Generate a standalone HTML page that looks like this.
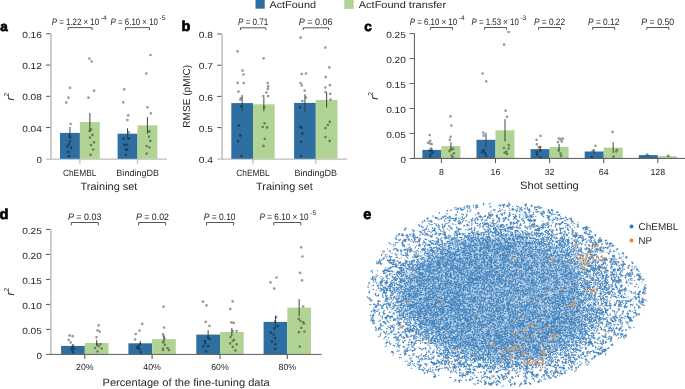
<!DOCTYPE html>
<html><head><meta charset="utf-8"><style>
html,body{margin:0;padding:0;background:#fff;}
svg{display:block;will-change:transform;}
text{text-rendering:geometricPrecision;}
</style></head><body>
<svg width="685" height="389" viewBox="0 0 685 389" font-family='"Liberation Sans", sans-serif'>
<rect width="685" height="389" fill="#fff"/>
<rect x="255.50" y="-0.50" width="9.20" height="9.20" fill="#2e6ea0"/>
<text x="269.40" y="7.70" font-size="9.8" text-anchor="start" textLength="46.60" lengthAdjust="spacingAndGlyphs" fill="#262626">ActFound</text>
<rect x="344.30" y="-0.50" width="9.40" height="9.40" fill="#b1d494"/>
<text x="358.80" y="7.70" font-size="9.8" text-anchor="start" textLength="87.30" lengthAdjust="spacingAndGlyphs" fill="#262626">ActFound transfer</text>
<text x="0.20" y="30.60" font-size="13.5" text-anchor="start" font-weight="bold" fill="#000" stroke="#000" stroke-width="0.7">a</text>
<text x="181.50" y="30.90" font-size="14.5" text-anchor="start" font-weight="bold" fill="#000" stroke="#000" stroke-width="0.7">b</text>
<text x="364.20" y="30.50" font-size="13.5" text-anchor="start" font-weight="bold" fill="#000" stroke="#000" stroke-width="0.7">c</text>
<text x="-0.60" y="218.80" font-size="14.5" text-anchor="start" font-weight="bold" fill="#000" stroke="#000" stroke-width="0.7">d</text>
<text x="363.30" y="219.20" font-size="14.5" text-anchor="start" font-weight="bold" fill="#000" stroke="#000" stroke-width="0.7">e</text>
<line x1="51.00" y1="33.30" x2="51.00" y2="159.10" stroke="#bdbdbd" stroke-width="1.5"/>
<text x="41.90" y="162.90" font-size="8.9" text-anchor="end" textLength="5.45" lengthAdjust="spacingAndGlyphs" fill="#262626">0</text>
<line x1="46.10" y1="127.55" x2="50.25" y2="127.55" stroke="#4a4a4a" stroke-width="0.95"/>
<text x="41.90" y="131.65" font-size="8.9" text-anchor="end" textLength="19.75" lengthAdjust="spacingAndGlyphs" fill="#262626">0.04</text>
<line x1="46.10" y1="96.30" x2="50.25" y2="96.30" stroke="#4a4a4a" stroke-width="0.95"/>
<text x="41.90" y="100.40" font-size="8.9" text-anchor="end" textLength="19.75" lengthAdjust="spacingAndGlyphs" fill="#262626">0.08</text>
<line x1="46.10" y1="65.05" x2="50.25" y2="65.05" stroke="#4a4a4a" stroke-width="0.95"/>
<text x="41.90" y="69.15" font-size="8.9" text-anchor="end" textLength="19.75" lengthAdjust="spacingAndGlyphs" fill="#262626">0.12</text>
<line x1="46.10" y1="33.80" x2="50.25" y2="33.80" stroke="#4a4a4a" stroke-width="0.95"/>
<text x="41.90" y="37.90" font-size="8.9" text-anchor="end" textLength="19.75" lengthAdjust="spacingAndGlyphs" fill="#262626">0.16</text>
<line x1="46.10" y1="159.10" x2="167.00" y2="159.10" stroke="#bdbdbd" stroke-width="1.4"/>
<line x1="79.90" y1="159.10" x2="79.90" y2="163.70" stroke="#bdbdbd" stroke-width="1.3"/>
<line x1="137.50" y1="159.10" x2="137.50" y2="163.70" stroke="#bdbdbd" stroke-width="1.3"/>
<rect x="60.00" y="132.90" width="19.90" height="25.90" fill="#2e6ea0"/>
<rect x="79.90" y="122.00" width="19.90" height="36.80" fill="#b1d494"/>
<rect x="117.60" y="133.70" width="19.90" height="25.10" fill="#2e6ea0"/>
<rect x="137.50" y="125.30" width="19.90" height="33.50" fill="#b1d494"/>
<path d="M70.0 87.8h0M68.4 97.7h0M66.3 102.6h0M70.6 124.0h0M69.4 136.0h0M70.4 137.6h0M69.8 141.3h0M69.0 144.2h0M67.3 146.3h0M71.0 147.9h0M68.4 152.0h0M69.0 156.1h0M89.4 58.6h0M91.7 61.5h0M94.1 90.7h0M88.5 97.7h0M91.0 129.4h0M89.6 131.0h0M92.4 134.9h0M90.0 137.6h0M94.1 142.3h0M91.0 145.0h0M93.1 149.5h0M90.6 154.9h0M124.3 89.4h0M123.3 102.3h0M128.2 115.4h0M127.4 120.1h0M128.7 132.4h0M123.6 138.6h0M129.0 138.6h0M127.0 144.8h0M124.3 144.8h0M125.9 149.4h0M127.0 149.7h0M125.9 154.8h0M150.5 55.0h0M146.4 73.5h0M147.5 107.3h0M150.9 113.3h0M149.0 131.3h0M149.0 136.6h0M150.3 140.9h0M146.7 146.0h0M149.5 147.5h0M146.7 153.7h0M149.5 131.6h0" stroke="#000" stroke-opacity="0.4" stroke-width="2.70" stroke-linecap="round" fill="none"/>
<line x1="69.95" y1="126.90" x2="69.95" y2="138.90" stroke="#3a3a3a" stroke-width="0.95"/>
<line x1="89.85" y1="112.90" x2="89.85" y2="131.10" stroke="#3a3a3a" stroke-width="0.95"/>
<line x1="127.55" y1="128.20" x2="127.55" y2="139.20" stroke="#3a3a3a" stroke-width="0.95"/>
<line x1="147.45" y1="117.00" x2="147.45" y2="133.60" stroke="#3a3a3a" stroke-width="0.95"/>
<text x="79.70" y="175.60" font-size="9.1" text-anchor="middle" textLength="33.60" lengthAdjust="spacingAndGlyphs" fill="#262626">ChEMBL</text>
<text x="137.70" y="175.60" font-size="9.1" text-anchor="middle" textLength="42.70" lengthAdjust="spacingAndGlyphs" fill="#262626">BindingDB</text>
<text x="109.00" y="190.00" font-size="10.6" text-anchor="middle" textLength="56.80" lengthAdjust="spacingAndGlyphs" fill="#262626">Training set</text>
<text x="13.90" y="100.40" font-size="11.2" text-anchor="start" fill="#262626" transform="rotate(-90 13.9 100.4)"><tspan font-style="italic">r</tspan><tspan dy="-4.6" font-size="7.2">2</tspan></text>
<path d="M68.10 30.10V27.60H92.10V30.10" stroke="#444" stroke-width="0.9" fill="none"/>
<path d="M125.60 30.10V27.60H149.40V30.10" stroke="#444" stroke-width="0.9" fill="none"/>
<text x="51.80" y="24.70" font-size="9.4" text-anchor="start" textLength="47.30" lengthAdjust="spacingAndGlyphs" fill="#262626"><tspan font-style="italic">P</tspan> = 1.22 × 10</text>
<text x="100.70" y="19.80" font-size="6.6" text-anchor="start" fill="#262626">-4</text>
<text x="110.60" y="24.70" font-size="9.4" text-anchor="start" textLength="47.30" lengthAdjust="spacingAndGlyphs" fill="#262626"><tspan font-style="italic">P</tspan> = 6.10 × 10</text>
<text x="159.50" y="19.80" font-size="6.6" text-anchor="start" fill="#262626">-5</text>
<line x1="222.10" y1="33.50" x2="222.10" y2="159.10" stroke="#bdbdbd" stroke-width="1.5"/>
<text x="213.00" y="162.90" font-size="8.9" text-anchor="end" textLength="14.30" lengthAdjust="spacingAndGlyphs" fill="#262626">0.4</text>
<line x1="217.20" y1="127.60" x2="221.35" y2="127.60" stroke="#4a4a4a" stroke-width="0.95"/>
<text x="213.00" y="131.70" font-size="8.9" text-anchor="end" textLength="14.30" lengthAdjust="spacingAndGlyphs" fill="#262626">0.5</text>
<line x1="217.20" y1="96.40" x2="221.35" y2="96.40" stroke="#4a4a4a" stroke-width="0.95"/>
<text x="213.00" y="100.50" font-size="8.9" text-anchor="end" textLength="14.30" lengthAdjust="spacingAndGlyphs" fill="#262626">0.6</text>
<line x1="217.20" y1="65.20" x2="221.35" y2="65.20" stroke="#4a4a4a" stroke-width="0.95"/>
<text x="213.00" y="69.30" font-size="8.9" text-anchor="end" textLength="14.30" lengthAdjust="spacingAndGlyphs" fill="#262626">0.7</text>
<line x1="217.20" y1="34.00" x2="221.35" y2="34.00" stroke="#4a4a4a" stroke-width="0.95"/>
<text x="213.00" y="38.10" font-size="8.9" text-anchor="end" textLength="14.30" lengthAdjust="spacingAndGlyphs" fill="#262626">0.8</text>
<line x1="217.20" y1="159.10" x2="347.30" y2="159.10" stroke="#bdbdbd" stroke-width="1.4"/>
<line x1="253.00" y1="159.10" x2="253.00" y2="163.70" stroke="#bdbdbd" stroke-width="1.3"/>
<line x1="315.80" y1="159.10" x2="315.80" y2="163.70" stroke="#bdbdbd" stroke-width="1.3"/>
<rect x="231.30" y="103.10" width="21.70" height="55.70" fill="#2e6ea0"/>
<rect x="253.00" y="104.30" width="21.70" height="54.50" fill="#b1d494"/>
<rect x="294.10" y="102.90" width="21.70" height="55.90" fill="#2e6ea0"/>
<rect x="315.80" y="99.90" width="21.70" height="58.90" fill="#b1d494"/>
<path d="M237.6 51.3h0M242.6 70.6h0M243.5 74.5h0M237.6 82.8h0M243.7 83.1h0M238.5 91.6h0M240.8 98.4h0M240.3 99.7h0M241.7 106.5h0M241.2 106.5h0M238.6 125.4h0M240.4 135.4h0M238.1 141.3h0M241.5 156.2h0M263.6 58.3h0M267.8 83.1h0M268.1 86.4h0M267.8 88.9h0M266.3 92.5h0M263.3 96.1h0M268.1 96.1h0M264.2 107.4h0M264.6 123.4h0M262.8 127.0h0M267.1 127.4h0M264.8 138.8h0M263.5 145.9h0M300.6 37.7h0M301.8 74.0h0M306.0 73.5h0M300.6 83.0h0M301.8 85.4h0M304.7 90.6h0M306.0 97.5h0M302.4 101.1h0M300.2 107.6h0M300.2 126.8h0M301.5 127.7h0M302.4 133.7h0M301.1 141.8h0M301.1 156.1h0M325.4 47.6h0M329.3 67.4h0M325.7 77.1h0M329.9 85.2h0M325.4 87.5h0M325.4 92.0h0M330.2 93.8h0M330.6 99.5h0M329.7 121.8h0M327.9 125.0h0M325.4 128.1h0M325.4 137.1h0M329.7 140.9h0" stroke="#000" stroke-opacity="0.4" stroke-width="2.70" stroke-linecap="round" fill="none"/>
<line x1="242.15" y1="95.00" x2="242.15" y2="111.20" stroke="#3a3a3a" stroke-width="0.95"/>
<line x1="263.85" y1="97.30" x2="263.85" y2="111.30" stroke="#3a3a3a" stroke-width="0.95"/>
<line x1="304.95" y1="94.10" x2="304.95" y2="111.70" stroke="#3a3a3a" stroke-width="0.95"/>
<line x1="326.65" y1="92.20" x2="326.65" y2="107.60" stroke="#3a3a3a" stroke-width="0.95"/>
<text x="253.00" y="175.60" font-size="9.1" text-anchor="middle" textLength="33.60" lengthAdjust="spacingAndGlyphs" fill="#262626">ChEMBL</text>
<text x="315.80" y="175.60" font-size="9.1" text-anchor="middle" textLength="42.70" lengthAdjust="spacingAndGlyphs" fill="#262626">BindingDB</text>
<text x="284.50" y="190.00" font-size="10.6" text-anchor="middle" textLength="56.80" lengthAdjust="spacingAndGlyphs" fill="#262626">Training set</text>
<text x="190.40" y="96.30" font-size="10" text-anchor="middle" textLength="62.80" lengthAdjust="spacingAndGlyphs" fill="#262626" transform="rotate(-90 190.4 96.3)">RMSE (pMIC)</text>
<path d="M240.50 30.10V27.80H265.90V30.10" stroke="#444" stroke-width="0.9" fill="none"/>
<path d="M303.20 30.10V27.80H328.50V30.10" stroke="#444" stroke-width="0.9" fill="none"/>
<text x="238.00" y="25.00" font-size="9.4" text-anchor="start" textLength="30.30" lengthAdjust="spacingAndGlyphs" fill="#262626"><tspan font-style="italic">P</tspan> = 0.71</text>
<text x="298.70" y="25.00" font-size="9.4" text-anchor="start" textLength="33.80" lengthAdjust="spacingAndGlyphs" fill="#262626"><tspan font-style="italic">P</tspan> = 0.06</text>
<rect x="422.40" y="149.90" width="19.00" height="8.50" fill="#2e6ea0"/>
<rect x="441.40" y="146.00" width="19.00" height="12.40" fill="#b1d494"/>
<rect x="476.50" y="139.80" width="19.00" height="18.60" fill="#2e6ea0"/>
<rect x="495.50" y="130.30" width="19.00" height="28.10" fill="#b1d494"/>
<rect x="530.60" y="149.10" width="19.00" height="9.30" fill="#2e6ea0"/>
<rect x="549.60" y="147.00" width="19.00" height="11.40" fill="#b1d494"/>
<rect x="584.70" y="151.50" width="19.00" height="6.90" fill="#2e6ea0"/>
<rect x="603.70" y="147.60" width="19.00" height="10.80" fill="#b1d494"/>
<rect x="638.80" y="155.10" width="19.00" height="3.30" fill="#2e6ea0"/>
<rect x="657.80" y="156.10" width="19.00" height="2.30" fill="#b1d494"/>
<path d="M429.7 135.0h0M430.1 140.9h0M428.2 142.8h0M431.6 144.2h0M429.4 143.3h0M430.9 148.6h0M429.7 150.4h0M431.9 151.5h0M432.6 152.6h0M430.4 154.8h0M430.4 156.2h0M450.5 116.3h0M451.4 125.5h0M450.6 136.8h0M449.8 139.8h0M450.9 149.6h0M453.1 148.9h0M449.5 151.1h0M453.9 153.3h0M451.7 155.5h0M452.8 157.0h0M482.6 73.5h0M486.2 81.4h0M483.4 132.7h0M483.8 135.7h0M482.6 151.6h0M483.8 150.4h0M485.0 153.2h0M486.2 155.6h0M481.9 152.3h0M508.7 32.0h0M504.1 44.7h0M505.6 110.7h0M507.0 116.8h0M503.9 148.0h0M508.7 145.2h0M508.7 148.5h0M504.6 152.8h0M507.0 153.9h0M506.3 151.6h0M540.5 135.8h0M536.6 139.8h0M536.9 144.3h0M538.7 147.4h0M540.3 147.0h0M540.5 150.3h0M536.6 151.9h0M537.1 154.7h0M540.5 157.3h0M558.9 138.6h0M560.5 139.2h0M562.9 138.6h0M561.7 141.4h0M558.0 142.2h0M558.6 150.7h0M560.5 153.7h0M561.1 156.1h0M595.5 145.8h0M592.7 150.7h0M591.9 157.1h0M612.6 131.9h0M616.9 150.1h0M616.3 151.3h0M613.6 156.7h0M646.9 154.6h0M668.4 155.8h0" stroke="#000" stroke-opacity="0.4" stroke-width="2.70" stroke-linecap="round" fill="none"/>
<line x1="431.90" y1="148.10" x2="431.90" y2="151.70" stroke="#3a3a3a" stroke-width="0.95"/>
<line x1="450.90" y1="142.20" x2="450.90" y2="149.80" stroke="#3a3a3a" stroke-width="0.95"/>
<line x1="486.00" y1="132.80" x2="486.00" y2="146.80" stroke="#3a3a3a" stroke-width="0.95"/>
<line x1="505.00" y1="119.20" x2="505.00" y2="141.40" stroke="#3a3a3a" stroke-width="0.95"/>
<line x1="540.10" y1="146.10" x2="540.10" y2="152.10" stroke="#3a3a3a" stroke-width="0.95"/>
<line x1="559.10" y1="144.00" x2="559.10" y2="150.00" stroke="#3a3a3a" stroke-width="0.95"/>
<line x1="594.20" y1="149.10" x2="594.20" y2="153.90" stroke="#3a3a3a" stroke-width="0.95"/>
<line x1="613.20" y1="142.20" x2="613.20" y2="153.00" stroke="#3a3a3a" stroke-width="0.95"/>
<line x1="648.30" y1="154.60" x2="648.30" y2="155.60" stroke="#3a3a3a" stroke-width="0.95"/>
<line x1="667.30" y1="155.60" x2="667.30" y2="156.60" stroke="#3a3a3a" stroke-width="0.95"/>
<line x1="414.40" y1="33.10" x2="414.40" y2="158.40" stroke="#555555" stroke-width="1.0"/>
<text x="405.90" y="162.50" font-size="8.9" text-anchor="end" textLength="5.45" lengthAdjust="spacingAndGlyphs" fill="#262626">0</text>
<line x1="409.50" y1="133.44" x2="413.90" y2="133.44" stroke="#555555" stroke-width="0.95"/>
<text x="405.90" y="137.54" font-size="8.9" text-anchor="end" textLength="19.75" lengthAdjust="spacingAndGlyphs" fill="#262626">0.05</text>
<line x1="409.50" y1="108.48" x2="413.90" y2="108.48" stroke="#555555" stroke-width="0.95"/>
<text x="405.90" y="112.58" font-size="8.9" text-anchor="end" textLength="19.75" lengthAdjust="spacingAndGlyphs" fill="#262626">0.10</text>
<line x1="409.50" y1="83.52" x2="413.90" y2="83.52" stroke="#555555" stroke-width="0.95"/>
<text x="405.90" y="87.62" font-size="8.9" text-anchor="end" textLength="19.75" lengthAdjust="spacingAndGlyphs" fill="#262626">0.15</text>
<line x1="409.50" y1="58.56" x2="413.90" y2="58.56" stroke="#555555" stroke-width="0.95"/>
<text x="405.90" y="62.66" font-size="8.9" text-anchor="end" textLength="19.75" lengthAdjust="spacingAndGlyphs" fill="#262626">0.20</text>
<line x1="409.50" y1="33.60" x2="413.90" y2="33.60" stroke="#555555" stroke-width="0.95"/>
<text x="405.90" y="37.70" font-size="8.9" text-anchor="end" textLength="19.75" lengthAdjust="spacingAndGlyphs" fill="#262626">0.25</text>
<line x1="409.50" y1="158.40" x2="685.00" y2="158.40" stroke="#555555" stroke-width="1.0"/>
<line x1="441.40" y1="158.40" x2="441.40" y2="163.10" stroke="#555555" stroke-width="1.0"/>
<text x="441.40" y="175.40" font-size="8.8" text-anchor="middle" fill="#262626">8</text>
<line x1="495.50" y1="158.40" x2="495.50" y2="163.10" stroke="#555555" stroke-width="1.0"/>
<text x="495.50" y="175.40" font-size="8.8" text-anchor="middle" fill="#262626">16</text>
<line x1="549.60" y1="158.40" x2="549.60" y2="163.10" stroke="#555555" stroke-width="1.0"/>
<text x="549.60" y="175.40" font-size="8.8" text-anchor="middle" fill="#262626">32</text>
<line x1="603.70" y1="158.40" x2="603.70" y2="163.10" stroke="#555555" stroke-width="1.0"/>
<text x="603.70" y="175.40" font-size="8.8" text-anchor="middle" fill="#262626">64</text>
<line x1="657.80" y1="158.40" x2="657.80" y2="163.10" stroke="#555555" stroke-width="1.0"/>
<text x="657.80" y="175.40" font-size="8.8" text-anchor="middle" fill="#262626">128</text>
<text x="549.45" y="189.40" font-size="10.6" text-anchor="middle" textLength="58.70" lengthAdjust="spacingAndGlyphs" fill="#262626">Shot setting</text>
<text x="377.90" y="99.80" font-size="11.2" text-anchor="start" fill="#262626" transform="rotate(-90 377.9 99.8)"><tspan font-style="italic">r</tspan><tspan dy="-4.6" font-size="7.2">2</tspan></text>
<path d="M430.40 29.80V27.50H452.40V29.80" stroke="#444" stroke-width="0.9" fill="none"/>
<path d="M484.50 29.80V27.50H506.50V29.80" stroke="#444" stroke-width="0.9" fill="none"/>
<path d="M538.60 29.80V27.50H560.60V29.80" stroke="#444" stroke-width="0.9" fill="none"/>
<path d="M592.70 29.80V27.50H614.70V29.80" stroke="#444" stroke-width="0.9" fill="none"/>
<path d="M646.80 29.80V27.50H668.80V29.80" stroke="#444" stroke-width="0.9" fill="none"/>
<text x="409.80" y="24.80" font-size="9.4" text-anchor="start" textLength="47.30" lengthAdjust="spacingAndGlyphs" fill="#262626"><tspan font-style="italic">P</tspan> = 6.10 × 10</text>
<text x="458.70" y="19.90" font-size="6.6" text-anchor="start" fill="#262626">-4</text>
<text x="471.50" y="24.80" font-size="9.4" text-anchor="start" textLength="47.30" lengthAdjust="spacingAndGlyphs" fill="#262626"><tspan font-style="italic">P</tspan> = 1.53 × 10</text>
<text x="520.40" y="19.90" font-size="6.6" text-anchor="start" fill="#262626">-3</text>
<text x="533.90" y="24.80" font-size="9.4" text-anchor="start" textLength="31.20" lengthAdjust="spacingAndGlyphs" fill="#262626"><tspan font-style="italic">P</tspan> = 0.22</text>
<text x="588.10" y="24.80" font-size="9.4" text-anchor="start" textLength="31.20" lengthAdjust="spacingAndGlyphs" fill="#262626"><tspan font-style="italic">P</tspan> = 0.12</text>
<text x="641.30" y="24.80" font-size="9.4" text-anchor="start" textLength="32.90" lengthAdjust="spacingAndGlyphs" fill="#262626"><tspan font-style="italic">P</tspan> = 0.50</text>
<rect x="61.10" y="345.90" width="23.70" height="8.50" fill="#2e6ea0"/>
<rect x="84.80" y="343.00" width="23.70" height="11.40" fill="#b1d494"/>
<rect x="128.40" y="343.30" width="23.70" height="11.10" fill="#2e6ea0"/>
<rect x="152.10" y="339.10" width="23.70" height="15.30" fill="#b1d494"/>
<rect x="196.30" y="334.60" width="23.70" height="19.80" fill="#2e6ea0"/>
<rect x="220.00" y="332.00" width="23.70" height="22.40" fill="#b1d494"/>
<rect x="263.60" y="321.90" width="23.70" height="32.50" fill="#2e6ea0"/>
<rect x="287.30" y="307.60" width="23.70" height="46.80" fill="#b1d494"/>
<path d="M69.6 335.4h0M72.6 336.2h0M68.7 340.0h0M70.7 342.5h0M72.9 345.5h0M72.6 347.4h0M74.1 348.5h0M72.2 350.0h0M72.9 352.2h0M71.7 348.9h0M98.6 325.4h0M97.5 330.3h0M99.8 331.6h0M96.5 337.3h0M97.1 344.0h0M100.5 344.0h0M95.0 348.0h0M98.6 346.2h0M101.7 348.5h0M97.5 351.5h0M142.2 323.9h0M139.6 330.6h0M135.7 334.0h0M135.1 339.5h0M139.9 344.0h0M138.1 346.2h0M136.9 347.7h0M139.2 349.2h0M140.7 352.2h0M138.4 347.4h0M163.5 306.7h0M164.1 327.6h0M163.0 334.3h0M163.5 335.8h0M164.5 338.5h0M163.0 342.3h0M165.0 344.7h0M163.0 348.5h0M167.5 348.0h0M169.0 350.0h0M163.0 350.0h0M203.0 301.7h0M206.5 305.4h0M205.7 321.9h0M209.5 325.9h0M208.1 337.6h0M209.5 339.0h0M205.1 341.1h0M205.1 343.4h0M208.1 346.0h0M203.4 346.4h0M206.0 351.3h0M232.6 301.4h0M230.2 308.9h0M231.4 322.4h0M233.7 322.9h0M232.6 331.1h0M236.6 331.1h0M230.5 336.9h0M234.0 339.9h0M232.8 340.8h0M230.2 343.4h0M236.6 344.3h0M232.8 346.9h0M235.4 350.4h0M276.5 277.5h0M270.5 282.4h0M274.2 288.6h0M276.2 317.3h0M275.1 321.4h0M277.7 326.1h0M274.3 328.5h0M270.8 332.7h0M273.6 334.6h0M275.1 338.1h0M272.0 341.5h0M275.4 344.3h0M275.1 348.9h0M301.2 247.3h0M302.4 256.5h0M300.1 272.9h0M302.1 280.4h0M303.2 306.5h0M298.6 318.8h0M300.4 320.8h0M303.2 322.4h0M304.0 323.5h0M301.3 327.8h0M304.4 331.5h0M298.9 332.2h0M299.8 346.6h0" stroke="#000" stroke-opacity="0.4" stroke-width="2.70" stroke-linecap="round" fill="none"/>
<line x1="72.95" y1="344.40" x2="72.95" y2="347.40" stroke="#3a3a3a" stroke-width="0.95"/>
<line x1="96.65" y1="340.00" x2="96.65" y2="346.00" stroke="#3a3a3a" stroke-width="0.95"/>
<line x1="140.25" y1="341.00" x2="140.25" y2="345.60" stroke="#3a3a3a" stroke-width="0.95"/>
<line x1="163.95" y1="335.80" x2="163.95" y2="342.40" stroke="#3a3a3a" stroke-width="0.95"/>
<line x1="208.15" y1="330.30" x2="208.15" y2="338.90" stroke="#3a3a3a" stroke-width="0.95"/>
<line x1="231.85" y1="328.00" x2="231.85" y2="336.00" stroke="#3a3a3a" stroke-width="0.95"/>
<line x1="275.45" y1="315.70" x2="275.45" y2="328.10" stroke="#3a3a3a" stroke-width="0.95"/>
<line x1="299.15" y1="299.00" x2="299.15" y2="316.20" stroke="#3a3a3a" stroke-width="0.95"/>
<line x1="50.90" y1="228.90" x2="50.90" y2="354.40" stroke="#bdbdbd" stroke-width="1.5"/>
<text x="41.90" y="358.50" font-size="8.9" text-anchor="end" textLength="5.45" lengthAdjust="spacingAndGlyphs" fill="#262626">0</text>
<line x1="46.00" y1="329.40" x2="50.15" y2="329.40" stroke="#4a4a4a" stroke-width="0.95"/>
<text x="41.90" y="333.50" font-size="8.9" text-anchor="end" textLength="19.75" lengthAdjust="spacingAndGlyphs" fill="#262626">0.05</text>
<line x1="46.00" y1="304.40" x2="50.15" y2="304.40" stroke="#4a4a4a" stroke-width="0.95"/>
<text x="41.90" y="308.50" font-size="8.9" text-anchor="end" textLength="19.75" lengthAdjust="spacingAndGlyphs" fill="#262626">0.10</text>
<line x1="46.00" y1="279.40" x2="50.15" y2="279.40" stroke="#4a4a4a" stroke-width="0.95"/>
<text x="41.90" y="283.50" font-size="8.9" text-anchor="end" textLength="19.75" lengthAdjust="spacingAndGlyphs" fill="#262626">0.15</text>
<line x1="46.00" y1="254.40" x2="50.15" y2="254.40" stroke="#4a4a4a" stroke-width="0.95"/>
<text x="41.90" y="258.50" font-size="8.9" text-anchor="end" textLength="19.75" lengthAdjust="spacingAndGlyphs" fill="#262626">0.20</text>
<line x1="46.00" y1="229.40" x2="50.15" y2="229.40" stroke="#4a4a4a" stroke-width="0.95"/>
<text x="41.90" y="233.50" font-size="8.9" text-anchor="end" textLength="19.75" lengthAdjust="spacingAndGlyphs" fill="#262626">0.25</text>
<line x1="46.10" y1="354.40" x2="321.60" y2="354.40" stroke="#5e5e5e" stroke-width="1.0"/>
<line x1="84.80" y1="354.40" x2="84.80" y2="359.00" stroke="#4a4a4a" stroke-width="1.0"/>
<text x="84.80" y="369.90" font-size="8.8" text-anchor="middle" fill="#262626">20%</text>
<line x1="152.10" y1="354.40" x2="152.10" y2="359.00" stroke="#4a4a4a" stroke-width="1.0"/>
<text x="152.10" y="369.90" font-size="8.8" text-anchor="middle" fill="#262626">40%</text>
<line x1="220.00" y1="354.40" x2="220.00" y2="359.00" stroke="#4a4a4a" stroke-width="1.0"/>
<text x="220.00" y="369.90" font-size="8.8" text-anchor="middle" fill="#262626">60%</text>
<line x1="287.30" y1="354.40" x2="287.30" y2="359.00" stroke="#4a4a4a" stroke-width="1.0"/>
<text x="287.30" y="369.90" font-size="8.8" text-anchor="middle" fill="#262626">80%</text>
<text x="186.15" y="386.00" font-size="10.6" text-anchor="middle" textLength="167.30" lengthAdjust="spacingAndGlyphs" fill="#262626">Percentage of the fine-tuning data</text>
<text x="13.90" y="295.40" font-size="11.2" text-anchor="start" fill="#262626" transform="rotate(-90 13.9 295.4)"><tspan font-style="italic">r</tspan><tspan dy="-4.6" font-size="7.2">2</tspan></text>
<path d="M71.30 225.40V222.50H98.30V225.40" stroke="#444" stroke-width="0.9" fill="none"/>
<path d="M138.60 225.40V222.50H165.60V225.40" stroke="#444" stroke-width="0.9" fill="none"/>
<path d="M206.50 225.40V222.50H233.50V225.40" stroke="#444" stroke-width="0.9" fill="none"/>
<path d="M273.80 225.40V222.50H300.80V225.40" stroke="#444" stroke-width="0.9" fill="none"/>
<text x="67.90" y="219.90" font-size="9.4" text-anchor="start" textLength="33.60" lengthAdjust="spacingAndGlyphs" fill="#262626"><tspan font-style="italic">P</tspan> = 0.03</text>
<text x="135.90" y="219.90" font-size="9.4" text-anchor="start" textLength="33.10" lengthAdjust="spacingAndGlyphs" fill="#262626"><tspan font-style="italic">P</tspan> = 0.02</text>
<text x="203.70" y="219.90" font-size="9.4" text-anchor="start" textLength="31.90" lengthAdjust="spacingAndGlyphs" fill="#262626"><tspan font-style="italic">P</tspan> = 0.10</text>
<text x="259.60" y="219.90" font-size="9.4" text-anchor="start" textLength="49.00" lengthAdjust="spacingAndGlyphs" fill="#262626"><tspan font-style="italic">P</tspan> = 6.10 × 10</text>
<text x="310.20" y="215.00" font-size="6.6" text-anchor="start" fill="#262626">-5</text>
<circle cx="631.5" cy="226.5" r="2.0" fill="#2f7dc0"/>
<circle cx="631.5" cy="240.6" r="2.0" fill="#f5871f"/>
<text x="638.60" y="229.90" font-size="10" text-anchor="start" textLength="39.80" lengthAdjust="spacingAndGlyphs" fill="#262626">ChEMBL</text>
<text x="638.60" y="243.70" font-size="10" text-anchor="start" textLength="13.40" lengthAdjust="spacingAndGlyphs" fill="#262626">NP</text>
<defs><filter id="bb" x="-10%" y="-10%" width="120%" height="120%"><feGaussianBlur stdDeviation="5"/></filter></defs><path d="M581.9 294.0L582.0 296.6L582.3 299.2L582.8 301.9L583.4 304.7L584.0 307.6L584.5 310.6L584.9 313.8L585.1 317.0L584.9 320.2L584.3 323.5L583.2 326.7L581.5 329.8L579.4 332.7L576.6 335.5L573.3 337.9L569.7 340.2L566.0 342.4L562.2 344.4L558.2 346.5L554.1 348.4L549.9 350.2L545.5 351.8L540.9 353.4L536.3 354.7L531.4 355.9L526.5 356.9L521.5 357.7L516.4 358.3L511.2 358.7L506.0 358.8L500.8 358.7L495.6 358.3L490.5 357.7L485.5 356.9L480.6 355.9L475.7 354.7L471.1 353.4L466.5 351.8L462.1 350.2L457.9 348.4L453.8 346.5L449.8 344.4L446.0 342.4L442.3 340.2L438.7 337.9L435.1 335.6L431.6 333.3L428.1 330.9L424.6 328.5L421.1 325.9L417.8 323.3L414.5 320.6L411.4 317.7L408.6 314.6L406.0 311.5L403.8 308.2L402.1 304.7L400.8 301.2L400.0 297.6L399.7 294.0L400.0 290.4L400.8 286.8L402.1 283.3L403.8 279.8L406.0 276.5L408.6 273.4L411.4 270.3L414.5 267.4L417.8 264.7L421.1 262.1L424.6 259.5L428.1 257.1L431.6 254.7L435.1 252.4L438.7 250.1L442.3 247.9L446.3 245.9L450.5 244.2L454.9 242.7L459.4 241.4L464.1 240.3L468.8 239.5L473.5 238.8L478.3 238.3L483.0 237.9L487.6 237.7L492.3 237.5L496.9 237.4L501.4 237.3L506.0 237.3L510.5 237.4L515.1 237.8L519.5 238.3L523.9 239.1L528.1 240.1L532.3 241.3L536.3 242.6L540.1 244.0L543.8 245.6L547.4 247.2L550.8 249.0L554.2 250.8L557.4 252.6L560.5 254.5L563.6 256.5L566.5 258.5L569.1 260.7L571.4 263.0L573.5 265.4L575.3 267.9L576.8 270.5L578.1 273.1L579.2 275.7L580.0 278.3L580.6 281.0L581.1 283.6L581.5 286.2L581.7 288.8L581.9 291.4Z" fill="#3a7fbf" fill-opacity="0.36" filter="url(#bb)"/><g transform="scale(0.25)"><path d="M2036 811h0m-75 1h0m-26 1h0m0 2h0m99 0h0m72 0h0m-173 1h0m2 0h0m21 0h0m149 0h0m-93 1h0m7 0h0m19 0h0m2 0h0m59 0h0m-82 1h0m19 0h0m-129 1h0m28 0h0m65 0h0m10 0h0m27 0h0m65 0h0m-192 1h0m105 0h0m110 0h0m-249 1h0m120 0h0m33 0h0m9 0h0m66 0h0m24 0h0m-234 1h0m8 0h0m101 0h0m12 0h0m86 0h0m1 0h0m-232 1h0m6 0h0m31 0h0m95 0h0m10 0h0m-147 1h0m98 0h0m52 0h0m1 0h0m9 0h0m4 0h0m5 0h0m32 0h0m58 0h0m-123 1h0m30 0h0m1 0h0m42 0h0m54 0h0m24 0h0m-295 1h0m22 0h0m26 0h0m4 0h0m51 0h0m55 0h0m36 0h0m52 0h0m52 0h0m-288 1h0m167 0h0m36 0h0m70 0h0m-270 1h0m24 0h0m14 0h0m4 0h0m236 0h0m4 0h0m8 0h0m-283 1h0m83 0h0m55 0h0m94 0h0m29 0h0m5 0h0m2 0h0m17 0h0m-342 1h0m36 0h0m47 0h0m176 0h0m7 0h0m75 0h0m-333 1h0m16 0h0m61 0h0m183 0h0m50 0h0m29 0h0m-348 1h0m21 0h0m19 0h0m14 0h0m30 0h0m178 0h0m30 0h0m45 0h0m-323 1h0m237 0h0m10 0h0m21 0h0m59 0h0m1 0h0m-331 1h0m3 0h0m46 0h0m120 0h0m51 0h0m51 0h0m-259 1h0m195 0h0m16 0h0m29 0h0m27 0h0m9 0h0m21 0h0m-310 1h0m16 0h0m2 0h0m9 0h0m191 0h0m51 0h0m13 0h0m-287 1h0m225 0h0m3 0h0m1 0h0m7 0h0m25 0h0m34 0h0m25 0h0m4 0h0m60 0h0m-384 1h0m10 0h0m16 0h0m124 0h0m36 0h0m44 0h0m30 0h0m2 0h0m30 0h0m2 0h0m76 0h0m-389 1h0m20 0h0m28 0h0m17 0h0m111 0h0m70 0h0m38 0h0m24 0h0m33 0h0m47 0h0m3 0h0m10 0h0m-418 1h0m56 0h0m3 0h0m37 0h0m93 0h0m92 0h0m9 0h0m66 0h0m64 0h0m1 0h0m-407 1h0m196 0h0m6 0h0m16 0h0m20 0h0m12 0h0m12 0h0m55 0h0m1 0h0m74 0h0m10 0h0m-184 1h0m48 0h0m1 0h0m19 0h0m104 0h0m18 0h0m1 0h0m-422 1h0m175 0h0m12 0h0m92 0h0m47 0h0m-324 1h0m90 0h0m292 0h0m2 0h0m34 0h0m-216 1h0m1 0h0m8 0h0m195 0h0m-367 1h0m40 0h0m9 0h0m198 0h0m4 0h0m39 0h0m30 0h0m1 0h0m3 0h0m14 0h0m31 0h0m30 0h0m-399 1h0m162 0h0m74 0h0m1 0h0m28 0h0m49 0h0m33 0h0m-76 1h0m47 0h0m3 0h0m23 0h0m1 0h0m1 0h0m16 0h0m41 0h0m-318 1h0m49 0h0m57 0h0m79 0h0m34 0h0m58 0h0m6 0h0m-440 1h0m73 0h0m206 0h0m62 0h0m5 0h0m12 0h0m1 0h0m50 0h0m31 0h0m3 0h0m25 0h0m3 0h0m-275 1h0m1 0h0m64 0h0m19 0h0m64 0h0m59 0h0m5 0h0m33 0h0m2 0h0m-292 1h0m47 0h0m60 0h0m24 0h0m123 0h0m15 0h0m22 0h0m11 0h0m-454 1h0m30 0h0m129 0h0m187 0h0m72 0h0m29 0h0m-293 1h0m4 0h0m125 0h0m61 0h0m69 0h0m29 0h0m-195 1h0m5 0h0m9 0h0m70 0h0m47 0h0m31 0h0m41 0h0m-419 1h0m58 0h0m6 0h0m15 0h0m88 0h0m5 0h0m141 0h0m33 0h0m31 0h0m-339 1h0m27 0h0m62 0h0m41 0h0m12 0h0m3 0h0m33 0h0m34 0h0m14 0h0m2 0h0m52 0h0m107 0h0m7 0h0m20 0h0m-280 1h0m48 0h0m71 0h0m28 0h0m28 0h0m36 0h0m42 0h0m22 0h0m-414 1h0m48 0h0m33 0h0m61 0h0m99 0h0m68 0h0m99 0h0m-404 1h0m27 0h0m105 0h0m29 0h0m5 0h0m19 0h0m25 0h0m6 0h0m60 0h0m17 0h0m3 0h0m45 0h0m41 0h0m-340 1h0m75 0h0m14 0h0m4 0h0m1 0h0m2 0h0m8 0h0m14 0h0m2 0h0m138 0h0m65 0h0m48 0h0m-457 1h0m140 0h0m20 0h0m17 0h0m30 0h0m21 0h0m52 0h0m47 0h0m15 0h0m65 0h0m47 0h0m-503 1h0m232 0h0m2 0h0m113 0h0m47 0h0m45 0h0m21 0h0m-413 1h0m3 0h0m139 0h0m18 0h0m16 0h0m30 0h0m51 0h0m1 0h0m2 0h0m27 0h0m28 0h0m12 0h0m6 0h0m86 0h0m2 0h0m-403 1h0m4 0h0m115 0h0m3 0h0m2 0h0m5 0h0m16 0h0m21 0h0m27 0h0m72 0h0m62 0h0m2 0h0m6 0h0m11 0h0m51 0h0m2 0h0m1 0h0m-465 1h0m37 0h0m10 0h0m5 0h0m16 0h0m49 0h0m17 0h0m51 0h0m4 0h0m3 0h0m12 0h0m15 0h0m35 0h0m3 0h0m65 0h0m24 0h0m25 0h0m9 0h0m1 0h0m8 0h0m52 0h0m20 0h0m-419 1h0m261 0h0m22 0h0m9 0h0m12 0h0m55 0h0m42 0h0m68 0h0m-394 1h0m12 0h0m57 0h0m138 0h0m23 0h0m39 0h0m125 0h0m18 0h0m1 0h0m-522 1h0m7 0h0m54 0h0m105 0h0m53 0h0m62 0h0m39 0h0m46 0h0m3 0h0m16 0h0m3 0h0m62 0h0m1 0h0m3 0h0m28 0h0m-479 1h0m2 0h0m30 0h0m18 0h0m32 0h0m98 0h0m7 0h0m20 0h0m43 0h0m66 0h0m20 0h0m110 0h0m40 0h0m36 0h0m-554 1h0m33 0h0m3 0h0m20 0h0m6 0h0m17 0h0m10 0h0m1 0h0m25 0h0m124 0h0m4 0h0m4 0h0m29 0h0m11 0h0m22 0h0m5 0h0m166 0h0m6 0h0m25 0h0m41 0h0m22 0h0m-575 1h0m35 0h0m2 0h0m1 0h0m46 0h0m45 0h0m12 0h0m7 0h0m33 0h0m58 0h0m11 0h0m67 0h0m1 0h0m33 0h0m1 0h0m160 0h0m-514 1h0m35 0h0m63 0h0m5 0h0m9 0h0m3 0h0m29 0h0m51 0h0m7 0h0m1 0h0m50 0h0m35 0h0m18 0h0m7 0h0m71 0h0m12 0h0m109 0h0m17 0h0m21 0h0m2 0h0m-540 1h0m31 0h0m22 0h0m21 0h0m13 0h0m6 0h0m5 0h0m4 0h0m25 0h0m50 0h0m82 0h0m40 0h0m3 0h0m42 0h0m4 0h0m55 0h0m126 0h0m4 0h0m9 0h0m23 0h0m-526 1h0m1 0h0m9 0h0m5 0h0m16 0h0m50 0h0m116 0h0m46 0h0m2 0h0m91 0h0m2 0h0m104 0h0m33 0h0m13 0h0m41 0h0m4 0h0m-576 1h0m113 0h0m33 0h0m45 0h0m11 0h0m20 0h0m64 0h0m4 0h0m23 0h0m43 0h0m49 0h0m8 0h0m74 0h0m1 0h0m49 0h0m-398 1h0m36 0h0m113 0h0m18 0h0m19 0h0m19 0h0m33 0h0m27 0h0m3 0h0m20 0h0m82 0h0m10 0h0m39 0h0m5 0h0m-449 1h0m2 0h0m22 0h0m54 0h0m8 0h0m4 0h0m12 0h0m93 0h0m93 0h0m29 0h0m75 0h0m71 0h0m-530 1h0m45 0h0m22 0h0m64 0h0m1 0h0m13 0h0m46 0h0m30 0h0m56 0h0m89 0h0m15 0h0m62 0h0m9 0h0m20 0h0m8 0h0m-417 1h0m68 0h0m2 0h0m20 0h0m18 0h0m1 0h0m13 0h0m55 0h0m74 0h0m44 0h0m6 0h0m6 0h0m9 0h0m8 0h0m86 0h0m1 0h0m39 0h0m16 0h0m2 0h0m-588 1h0m79 0h0m18 0h0m4 0h0m91 0h0m6 0h0m13 0h0m60 0h0m3 0h0m63 0h0m39 0h0m20 0h0m21 0h0m15 0h0m10 0h0m55 0h0m63 0h0m-563 1h0m119 0h0m4 0h0m34 0h0m75 0h0m17 0h0m71 0h0m55 0h0m19 0h0m23 0h0m11 0h0m2 0h0m10 0h0m2 0h0m72 0h0m1 0h0m49 0h0m-559 1h0m19 0h0m3 0h0m1 0h0m3 0h0m95 0h0m16 0h0m1 0h0m24 0h0m4 0h0m105 0h0m20 0h0m100 0h0m170 0h0m22 0h0m3 0h0m-589 1h0m14 0h0m6 0h0m81 0h0m22 0h0m12 0h0m107 0h0m52 0h0m7 0h0m95 0h0m2 0h0m23 0h0m8 0h0m-415 1h0m12 0h0m1 0h0m2 0h0m108 0h0m16 0h0m35 0h0m126 0h0m64 0h0m61 0h0m3 0h0m31 0h0m122 0h0m-513 1h0m120 0h0m74 0h0m24 0h0m18 0h0m52 0h0m50 0h0m5 0h0m14 0h0m113 0h0m-559 1h0m32 0h0m2 0h0m1 0h0m2 0h0m244 0h0m18 0h0m8 0h0m75 0h0m63 0h0m152 0h0m2 0h0m2 0h0m-603 1h0m110 0h0m50 0h0m29 0h0m163 0h0m1 0h0m14 0h0m137 0h0m20 0h0m40 0h0m-417 1h0m3 0h0m2 0h0m1 0h0m33 0h0m57 0h0m55 0h0m59 0h0m6 0h0m2 0h0m14 0h0m30 0h0m148 0h0m4 0h0m62 0h0m-623 1h0m153 0h0m35 0h0m25 0h0m61 0h0m78 0h0m25 0h0m125 0h0m-398 1h0m48 0h0m47 0h0m59 0h0m22 0h0m73 0h0m2 0h0m1 0h0m53 0h0m90 0h0m60 0h0m-403 1h0m92 0h0m3 0h0m8 0h0m4 0h0m18 0h0m92 0h0m8 0h0m139 0h0m14 0h0m63 0h0m-570 1h0m118 0h0m68 0h0m5 0h0m1 0h0m22 0h0m15 0h0m28 0h0m3 0h0m79 0h0m4 0h0m10 0h0m26 0h0m43 0h0m103 0h0m17 0h0m-520 1h0m45 0h0m5 0h0m23 0h0m28 0h0m48 0h0m35 0h0m17 0h0m35 0h0m67 0h0m4 0h0m8 0h0m30 0h0m36 0h0m53 0h0m55 0h0m1 0h0m8 0h0m5 0h0m6 0h0m16 0h0m3 0h0m30 0h0m2 0h0m-554 1h0m88 0h0m5 0h0m2 0h0m73 0h0m30 0h0m7 0h0m3 0h0m15 0h0m13 0h0m4 0h0m85 0h0m62 0h0m1 0h0m42 0h0m4 0h0m2 0h0m7 0h0m8 0h0m39 0h0m-480 1h0m16 0h0m118 0h0m50 0h0m4 0h0m12 0h0m38 0h0m145 0h0m1 0h0m34 0h0m18 0h0m4 0h0m49 0h0m66 0h0m-580 1h0m15 0h0m37 0h0m87 0h0m3 0h0m48 0h0m22 0h0m6 0h0m5 0h0m58 0h0m2 0h0m16 0h0m16 0h0m39 0h0m52 0h0m4 0h0m34 0h0m3 0h0m52 0h0m-508 1h0m92 0h0m11 0h0m48 0h0m66 0h0m3 0h0m35 0h0m28 0h0m10 0h0m12 0h0m17 0h0m38 0h0m46 0h0m8 0h0m89 0h0m14 0h0m2 0h0m31 0h0m-596 1h0m51 0h0m29 0h0m15 0h0m1 0h0m148 0h0m2 0h0m16 0h0m4 0h0m2 0h0m19 0h0m45 0h0m35 0h0m12 0h0m79 0h0m36 0h0m54 0h0m49 0h0m1 0h0m3 0h0m35 0h0m4 0h0m-634 1h0m67 0h0m125 0h0m48 0h0m12 0h0m1 0h0m41 0h0m3 0h0m14 0h0m13 0h0m24 0h0m101 0h0m4 0h0m4 0h0m37 0h0m6 0h0m8 0h0m51 0h0m30 0h0m3 0h0m-596 1h0m102 0h0m18 0h0m62 0h0m29 0h0m66 0h0m3 0h0m7 0h0m11 0h0m28 0h0m5 0h0m19 0h0m54 0h0m3 0h0m2 0h0m35 0h0m10 0h0m36 0h0m17 0h0m14 0h0m9 0h0m86 0h0m-546 1h0m12 0h0m22 0h0m76 0h0m12 0h0m1 0h0m40 0h0m63 0h0m37 0h0m1 0h0m1 0h0m16 0h0m74 0h0m27 0h0m17 0h0m-434 1h0m47 0h0m36 0h0m1 0h0m1 0h0m80 0h0m38 0h0m40 0h0m7 0h0m43 0h0m1 0h0m3 0h0m1 0h0m59 0h0m52 0h0m27 0h0m3 0h0m2 0h0m70 0h0m41 0h0m7 0h0m2 0h0m-585 1h0m24 0h0m41 0h0m24 0h0m18 0h0m6 0h0m55 0h0m1 0h0m13 0h0m108 0h0m9 0h0m6 0h0m12 0h0m15 0h0m97 0h0m2 0h0m2 0h0m13 0h0m11 0h0m27 0h0m21 0h0m13 0h0m106 0h0m-634 1h0m92 0h0m152 0h0m13 0h0m31 0h0m4 0h0m21 0h0m8 0h0m7 0h0m11 0h0m62 0h0m72 0h0m2 0h0m21 0h0m22 0h0m84 0h0m-527 1h0m26 0h0m153 0h0m14 0h0m20 0h0m37 0h0m3 0h0m1 0h0m11 0h0m31 0h0m1 0h0m77 0h0m14 0h0m28 0h0m2 0h0m51 0h0m87 0h0m38 0h0m-661 1h0m1 0h0m6 0h0m135 0h0m103 0h0m20 0h0m2 0h0m14 0h0m37 0h0m32 0h0m3 0h0m1 0h0m2 0h0m11 0h0m15 0h0m155 0h0m92 0h0m35 0h0m1 0h0m-644 1h0m66 0h0m128 0h0m29 0h0m23 0h0m85 0h0m17 0h0m5 0h0m40 0h0m2 0h0m1 0h0m7 0h0m7 0h0m12 0h0m5 0h0m5 0h0m24 0h0m32 0h0m88 0h0m32 0h0m27 0h0m-612 1h0m44 0h0m28 0h0m4 0h0m22 0h0m1 0h0m127 0h0m48 0h0m11 0h0m15 0h0m12 0h0m4 0h0m8 0h0m13 0h0m2 0h0m2 0h0m34 0h0m5 0h0m47 0h0m7 0h0m4 0h0m1 0h0m4 0h0m2 0h0m5 0h0m3 0h0m80 0h0m78 0h0m4 0h0m1 0h0m-654 1h0m63 0h0m1 0h0m16 0h0m116 0h0m32 0h0m60 0h0m4 0h0m26 0h0m43 0h0m16 0h0m2 0h0m39 0h0m47 0h0m8 0h0m1 0h0m26 0h0m108 0h0m33 0h0m4 0h0m19 0h0m-663 1h0m67 0h0m11 0h0m5 0h0m29 0h0m24 0h0m59 0h0m88 0h0m21 0h0m38 0h0m1 0h0m5 0h0m4 0h0m30 0h0m1 0h0m47 0h0m70 0h0m47 0h0m1 0h0m11 0h0m91 0h0m2 0h0m-721 1h0m2 0h0m112 0h0m90 0h0m71 0h0m58 0h0m25 0h0m12 0h0m1 0h0m34 0h0m8 0h0m12 0h0m34 0h0m75 0h0m113 0h0m72 0h0m6 0h0m-641 1h0m24 0h0m74 0h0m82 0h0m48 0h0m50 0h0m7 0h0m39 0h0m10 0h0m67 0h0m1 0h0m51 0h0m12 0h0m1 0h0m76 0h0m5 0h0m18 0h0m59 0h0m-590 1h0m63 0h0m3 0h0m27 0h0m140 0h0m3 0h0m45 0h0m11 0h0m13 0h0m1 0h0m1 0h0m3 0h0m28 0h0m30 0h0m41 0h0m1 0h0m89 0h0m5 0h0m96 0h0m2 0h0m5 0h0m-609 1h0m68 0h0m25 0h0m11 0h0m34 0h0m4 0h0m5 0h0m14 0h0m59 0h0m3 0h0m56 0h0m3 0h0m9 0h0m2 0h0m16 0h0m61 0h0m10 0h0m4 0h0m27 0h0m1 0h0m3 0h0m73 0h0m15 0h0m1 0h0m11 0h0m15 0h0m20 0h0m58 0h0m-728 1h0m2 0h0m80 0h0m5 0h0m33 0h0m50 0h0m48 0h0m1 0h0m6 0h0m94 0h0m36 0h0m6 0h0m64 0h0m99 0h0m11 0h0m86 0h0m2 0h0m92 0h0m8 0h0m-723 1h0m30 0h0m56 0h0m9 0h0m45 0h0m50 0h0m24 0h0m7 0h0m40 0h0m6 0h0m12 0h0m99 0h0m6 0h0m7 0h0m4 0h0m27 0h0m103 0h0m5 0h0m5 0h0m14 0h0m36 0h0m37 0h0m2 0h0m28 0h0m17 0h0m1 0h0m47 0h0m-635 1h0m35 0h0m19 0h0m20 0h0m87 0h0m14 0h0m72 0h0m7 0h0m27 0h0m2 0h0m17 0h0m4 0h0m15 0h0m2 0h0m27 0h0m92 0h0m2 0h0m14 0h0m1 0h0m40 0h0m150 0h0m2 0h0m-729 1h0m76 0h0m43 0h0m123 0h0m8 0h0m27 0h0m1 0h0m41 0h0m15 0h0m20 0h0m5 0h0m8 0h0m15 0h0m18 0h0m122 0h0m2 0h0m65 0h0m15 0h0m15 0h0m112 0h0m-735 1h0m81 0h0m99 0h0m37 0h0m38 0h0m78 0h0m34 0h0m37 0h0m12 0h0m37 0h0m75 0h0m1 0h0m8 0h0m2 0h0m69 0h0m2 0h0m2 0h0m13 0h0m32 0h0m69 0h0m-688 1h0m39 0h0m38 0h0m2 0h0m30 0h0m69 0h0m55 0h0m8 0h0m58 0h0m8 0h0m25 0h0m31 0h0m45 0h0m3 0h0m19 0h0m55 0h0m4 0h0m4 0h0m34 0h0m5 0h0m13 0h0m14 0h0m14 0h0m-576 1h0m5 0h0m32 0h0m46 0h0m3 0h0m2 0h0m24 0h0m61 0h0m159 0h0m17 0h0m2 0h0m22 0h0m34 0h0m41 0h0m46 0h0m10 0h0m3 0h0m25 0h0m59 0h0m30 0h0m16 0h0m4 0h0m67 0h0m-705 1h0m77 0h0m30 0h0m1 0h0m73 0h0m150 0h0m18 0h0m2 0h0m14 0h0m173 0h0m1 0h0m166 0h0m3 0h0m-707 1h0m73 0h0m12 0h0m34 0h0m60 0h0m74 0h0m33 0h0m12 0h0m27 0h0m9 0h0m11 0h0m12 0h0m26 0h0m21 0h0m9 0h0m2 0h0m3 0h0m30 0h0m48 0h0m41 0h0m12 0h0m4 0h0m50 0h0m2 0h0m-584 1h0m22 0h0m13 0h0m6 0h0m50 0h0m53 0h0m121 0h0m3 0h0m15 0h0m5 0h0m66 0h0m32 0h0m10 0h0m18 0h0m90 0h0m9 0h0m18 0h0m-552 1h0m26 0h0m146 0h0m1 0h0m60 0h0m24 0h0m65 0h0m3 0h0m21 0h0m1 0h0m20 0h0m38 0h0m26 0h0m92 0h0m26 0h0m37 0h0m14 0h0m89 0h0m-567 1h0m41 0h0m9 0h0m71 0h0m14 0h0m37 0h0m3 0h0m12 0h0m14 0h0m52 0h0m4 0h0m9 0h0m29 0h0m36 0h0m18 0h0m67 0h0m16 0h0m79 0h0m2 0h0m75 0h0m-680 1h0m38 0h0m24 0h0m33 0h0m41 0h0m8 0h0m54 0h0m2 0h0m2 0h0m52 0h0m8 0h0m16 0h0m5 0h0m11 0h0m5 0h0m8 0h0m1 0h0m115 0h0m22 0h0m51 0h0m24 0h0m37 0h0m51 0h0m44 0h0m6 0h0m14 0h0m2 0h0m-679 1h0m96 0h0m1 0h0m111 0h0m1 0h0m70 0h0m9 0h0m6 0h0m16 0h0m59 0h0m40 0h0m6 0h0m44 0h0m6 0h0m40 0h0m-500 1h0m11 0h0m27 0h0m52 0h0m2 0h0m113 0h0m5 0h0m12 0h0m20 0h0m9 0h0m2 0h0m2 0h0m30 0h0m34 0h0m1 0h0m37 0h0m2 0h0m18 0h0m14 0h0m50 0h0m61 0h0m72 0h0m42 0h0m37 0h0m-596 1h0m33 0h0m45 0h0m2 0h0m15 0h0m50 0h0m21 0h0m15 0h0m3 0h0m8 0h0m44 0h0m1 0h0m2 0h0m18 0h0m1 0h0m4 0h0m55 0h0m2 0h0m40 0h0m36 0h0m9 0h0m6 0h0m12 0h0m3 0h0m26 0h0m16 0h0m35 0h0m1 0h0m30 0h0m28 0h0m38 0h0m3 0h0m-640 1h0m71 0h0m1 0h0m4 0h0m46 0h0m11 0h0m37 0h0m31 0h0m25 0h0m22 0h0m22 0h0m18 0h0m57 0h0m47 0h0m15 0h0m7 0h0m36 0h0m11 0h0m72 0h0m3 0h0m8 0h0m25 0h0m16 0h0m14 0h0m5 0h0m28 0h0m-684 1h0m3 0h0m31 0h0m15 0h0m44 0h0m9 0h0m6 0h0m100 0h0m14 0h0m2 0h0m16 0h0m1 0h0m22 0h0m66 0h0m15 0h0m1 0h0m18 0h0m12 0h0m76 0h0m12 0h0m32 0h0m5 0h0m6 0h0m4 0h0m9 0h0m16 0h0m2 0h0m-593 1h0m11 0h0m1 0h0m147 0h0m93 0h0m26 0h0m19 0h0m14 0h0m2 0h0m46 0h0m40 0h0m9 0h0m63 0h0m23 0h0m53 0h0m9 0h0m10 0h0m6 0h0m30 0h0m43 0h0m19 0h0m29 0h0m52 0h0m-744 1h0m104 0h0m8 0h0m31 0h0m15 0h0m6 0h0m2 0h0m15 0h0m38 0h0m10 0h0m8 0h0m3 0h0m3 0h0m13 0h0m26 0h0m11 0h0m34 0h0m69 0h0m88 0h0m55 0h0m30 0h0m28 0h0m18 0h0m18 0h0m13 0h0m15 0h0m26 0h0m64 0h0m7 0h0m-712 1h0m10 0h0m2 0h0m35 0h0m3 0h0m48 0h0m3 0h0m13 0h0m3 0h0m2 0h0m7 0h0m5 0h0m56 0h0m5 0h0m4 0h0m1 0h0m3 0h0m30 0h0m21 0h0m5 0h0m1 0h0m23 0h0m45 0h0m17 0h0m58 0h0m4 0h0m56 0h0m5 0h0m5 0h0m5 0h0m7 0h0m14 0h0m10 0h0m15 0h0m2 0h0m40 0h0m19 0h0m5 0h0m69 0h0m4 0h0m44 0h0m2 0h0m2 0h0m-759 1h0m18 0h0m42 0h0m38 0h0m9 0h0m6 0h0m33 0h0m40 0h0m49 0h0m3 0h0m24 0h0m59 0h0m4 0h0m15 0h0m6 0h0m7 0h0m7 0h0m29 0h0m2 0h0m10 0h0m10 0h0m4 0h0m1 0h0m39 0h0m5 0h0m8 0h0m31 0h0m9 0h0m20 0h0m40 0h0m13 0h0m6 0h0m18 0h0m7 0h0m49 0h0m4 0h0m10 0h0m38 0h0m53 0h0m1 0h0m-764 1h0m1 0h0m32 0h0m8 0h0m1 0h0m15 0h0m1 0h0m77 0h0m44 0h0m7 0h0m48 0h0m9 0h0m69 0h0m3 0h0m26 0h0m19 0h0m33 0h0m4 0h0m22 0h0m8 0h0m3 0h0m26 0h0m32 0h0m22 0h0m37 0h0m50 0h0m30 0h0m43 0h0m40 0h0m51 0h0m26 0h0m-775 1h0m73 0h0m116 0h0m54 0h0m29 0h0m40 0h0m34 0h0m15 0h0m18 0h0m2 0h0m17 0h0m17 0h0m10 0h0m2 0h0m32 0h0m8 0h0m4 0h0m13 0h0m9 0h0m5 0h0m5 0h0m19 0h0m14 0h0m5 0h0m70 0h0m77 0h0m11 0h0m3 0h0m70 0h0m-785 1h0m17 0h0m13 0h0m16 0h0m38 0h0m21 0h0m7 0h0m2 0h0m3 0h0m8 0h0m32 0h0m65 0h0m6 0h0m3 0h0m4 0h0m105 0h0m48 0h0m10 0h0m7 0h0m3 0h0m17 0h0m6 0h0m20 0h0m32 0h0m1 0h0m41 0h0m11 0h0m5 0h0m9 0h0m60 0h0m49 0h0m15 0h0m21 0h0m6 0h0m8 0h0m52 0h0m23 0h0m4 0h0m-731 1h0m3 0h0m59 0h0m44 0h0m21 0h0m48 0h0m33 0h0m10 0h0m9 0h0m8 0h0m13 0h0m92 0h0m16 0h0m34 0h0m4 0h0m18 0h0m8 0h0m56 0h0m30 0h0m4 0h0m40 0h0m5 0h0m5 0h0m53 0h0m6 0h0m26 0h0m9 0h0m15 0h0m4 0h0m-737 1h0m18 0h0m4 0h0m14 0h0m27 0h0m7 0h0m70 0h0m52 0h0m14 0h0m1 0h0m8 0h0m61 0h0m62 0h0m41 0h0m6 0h0m34 0h0m6 0h0m8 0h0m3 0h0m4 0h0m16 0h0m35 0h0m1 0h0m32 0h0m58 0h0m22 0h0m14 0h0m7 0h0m89 0h0m1 0h0m21 0h0m7 0h0m-716 1h0m13 0h0m92 0h0m64 0h0m45 0h0m29 0h0m17 0h0m19 0h0m7 0h0m13 0h0m1 0h0m88 0h0m11 0h0m12 0h0m24 0h0m10 0h0m36 0h0m35 0h0m22 0h0m8 0h0m10 0h0m13 0h0m26 0h0m1 0h0m56 0h0m27 0h0m6 0h0m3 0h0m15 0h0m-689 1h0m1 0h0m18 0h0m11 0h0m65 0h0m3 0h0m54 0h0m21 0h0m77 0h0m1 0h0m32 0h0m22 0h0m1 0h0m67 0h0m5 0h0m18 0h0m20 0h0m18 0h0m53 0h0m29 0h0m102 0h0m6 0h0m40 0h0m19 0h0m11 0h0m47 0h0m11 0h0m-749 1h0m21 0h0m206 0h0m55 0h0m37 0h0m3 0h0m4 0h0m97 0h0m6 0h0m15 0h0m7 0h0m7 0h0m17 0h0m38 0h0m2 0h0m7 0h0m2 0h0m103 0h0m33 0h0m3 0h0m2 0h0m1 0h0m9 0h0m13 0h0m49 0h0m-784 1h0m49 0h0m26 0h0m125 0h0m78 0h0m12 0h0m71 0h0m5 0h0m22 0h0m24 0h0m1 0h0m65 0h0m7 0h0m3 0h0m14 0h0m20 0h0m39 0h0m32 0h0m19 0h0m11 0h0m85 0h0m64 0h0m7 0h0m-732 1h0m90 0h0m4 0h0m3 0h0m56 0h0m7 0h0m8 0h0m17 0h0m48 0h0m3 0h0m2 0h0m23 0h0m86 0h0m4 0h0m34 0h0m37 0h0m1 0h0m50 0h0m3 0h0m47 0h0m43 0h0m100 0h0m1 0h0m1 0h0m30 0h0m1 0h0m28 0h0m3 0h0m-709 1h0m17 0h0m161 0h0m53 0h0m27 0h0m33 0h0m95 0h0m41 0h0m2 0h0m5 0h0m6 0h0m24 0h0m73 0h0m7 0h0m9 0h0m12 0h0m7 0h0m33 0h0m62 0h0m1 0h0m12 0h0m25 0h0m11 0h0m-738 1h0m25 0h0m7 0h0m6 0h0m3 0h0m73 0h0m36 0h0m2 0h0m10 0h0m26 0h0m23 0h0m6 0h0m12 0h0m14 0h0m11 0h0m11 0h0m7 0h0m48 0h0m2 0h0m2 0h0m56 0h0m67 0h0m22 0h0m4 0h0m16 0h0m36 0h0m27 0h0m8 0h0m16 0h0m42 0h0m53 0h0m12 0h0m6 0h0m4 0h0m32 0h0m3 0h0m8 0h0m6 0h0m-708 1h0m102 0h0m10 0h0m19 0h0m9 0h0m22 0h0m12 0h0m6 0h0m22 0h0m2 0h0m16 0h0m9 0h0m18 0h0m16 0h0m4 0h0m12 0h0m16 0h0m32 0h0m19 0h0m23 0h0m31 0h0m4 0h0m29 0h0m24 0h0m2 0h0m9 0h0m36 0h0m4 0h0m13 0h0m21 0h0m8 0h0m28 0h0m7 0h0m25 0h0m1 0h0m26 0h0m14 0h0m43 0h0m7 0h0m1 0h0m34 0h0m-820 1h0m45 0h0m29 0h0m14 0h0m77 0h0m38 0h0m9 0h0m1 0h0m25 0h0m70 0h0m2 0h0m9 0h0m4 0h0m8 0h0m15 0h0m78 0h0m4 0h0m16 0h0m16 0h0m32 0h0m17 0h0m17 0h0m3 0h0m15 0h0m8 0h0m38 0h0m18 0h0m7 0h0m10 0h0m11 0h0m12 0h0m96 0h0m47 0h0m-716 1h0m2 0h0m21 0h0m71 0h0m15 0h0m17 0h0m7 0h0m4 0h0m17 0h0m5 0h0m60 0h0m5 0h0m68 0h0m10 0h0m3 0h0m89 0h0m3 0h0m20 0h0m2 0h0m10 0h0m4 0h0m6 0h0m80 0h0m20 0h0m25 0h0m22 0h0m4 0h0m13 0h0m55 0h0m13 0h0m37 0h0m-779 1h0m192 0h0m9 0h0m35 0h0m1 0h0m35 0h0m64 0h0m29 0h0m45 0h0m14 0h0m4 0h0m5 0h0m25 0h0m10 0h0m9 0h0m43 0h0m3 0h0m18 0h0m1 0h0m10 0h0m5 0h0m51 0h0m50 0h0m90 0h0m33 0h0m1 0h0m31 0h0m-739 1h0m96 0h0m57 0h0m61 0h0m12 0h0m23 0h0m6 0h0m10 0h0m4 0h0m1 0h0m2 0h0m63 0h0m21 0h0m21 0h0m2 0h0m18 0h0m9 0h0m24 0h0m31 0h0m4 0h0m39 0h0m22 0h0m17 0h0m26 0h0m22 0h0m6 0h0m72 0h0m-696 1h0m2 0h0m26 0h0m17 0h0m78 0h0m9 0h0m18 0h0m44 0h0m46 0h0m16 0h0m2 0h0m19 0h0m5 0h0m11 0h0m10 0h0m26 0h0m20 0h0m3 0h0m4 0h0m6 0h0m24 0h0m10 0h0m25 0h0m18 0h0m9 0h0m12 0h0m18 0h0m21 0h0m1 0h0m7 0h0m32 0h0m34 0h0m19 0h0m1 0h0m14 0h0m17 0h0m29 0h0m4 0h0m56 0h0m18 0h0m-779 1h0m32 0h0m20 0h0m47 0h0m18 0h0m96 0h0m9 0h0m2 0h0m1 0h0m6 0h0m31 0h0m1 0h0m33 0h0m7 0h0m15 0h0m35 0h0m3 0h0m13 0h0m43 0h0m19 0h0m11 0h0m67 0h0m72 0h0m19 0h0m64 0h0m9 0h0m53 0h0m92 0h0m-800 1h0m19 0h0m36 0h0m43 0h0m53 0h0m2 0h0m56 0h0m9 0h0m76 0h0m44 0h0m77 0h0m16 0h0m9 0h0m8 0h0m2 0h0m14 0h0m1 0h0m13 0h0m8 0h0m53 0h0m8 0h0m7 0h0m8 0h0m11 0h0m1 0h0m1 0h0m18 0h0m12 0h0m46 0h0m12 0h0m9 0h0m62 0h0m5 0h0m-754 1h0m38 0h0m21 0h0m15 0h0m15 0h0m28 0h0m3 0h0m47 0h0m9 0h0m41 0h0m41 0h0m8 0h0m16 0h0m8 0h0m19 0h0m3 0h0m5 0h0m11 0h0m2 0h0m26 0h0m6 0h0m8 0h0m4 0h0m26 0h0m31 0h0m19 0h0m20 0h0m47 0h0m42 0h0m6 0h0m14 0h0m25 0h0m78 0h0m5 0h0m30 0h0m28 0h0m2 0h0m29 0h0m15 0h0m17 0h0m11 0h0m-811 1h0m26 0h0m12 0h0m4 0h0m41 0h0m74 0h0m52 0h0m27 0h0m102 0h0m15 0h0m1 0h0m22 0h0m21 0h0m1 0h0m15 0h0m13 0h0m31 0h0m19 0h0m81 0h0m13 0h0m4 0h0m74 0h0m9 0h0m2 0h0m107 0h0m37 0h0m-799 1h0m1 0h0m18 0h0m56 0h0m6 0h0m75 0h0m53 0h0m27 0h0m22 0h0m25 0h0m13 0h0m18 0h0m21 0h0m35 0h0m24 0h0m1 0h0m8 0h0m16 0h0m3 0h0m16 0h0m13 0h0m4 0h0m40 0h0m9 0h0m69 0h0m13 0h0m1 0h0m16 0h0m2 0h0m68 0h0m5 0h0m76 0h0m74 0h0m-810 1h0m2 0h0m17 0h0m1 0h0m22 0h0m71 0h0m74 0h0m21 0h0m6 0h0m42 0h0m9 0h0m6 0h0m17 0h0m10 0h0m4 0h0m16 0h0m5 0h0m16 0h0m17 0h0m5 0h0m1 0h0m2 0h0m15 0h0m32 0h0m19 0h0m11 0h0m23 0h0m53 0h0m20 0h0m13 0h0m9 0h0m34 0h0m18 0h0m10 0h0m24 0h0m14 0h0m17 0h0m11 0h0m24 0h0m6 0h0m18 0h0m47 0h0m22 0h0m3 0h0m2 0h0m-814 1h0m5 0h0m2 0h0m2 0h0m107 0h0m37 0h0m4 0h0m69 0h0m21 0h0m45 0h0m3 0h0m26 0h0m22 0h0m6 0h0m1 0h0m28 0h0m27 0h0m11 0h0m77 0h0m40 0h0m43 0h0m11 0h0m2 0h0m34 0h0m18 0h0m16 0h0m2 0h0m40 0h0m22 0h0m2 0h0m24 0h0m7 0h0m10 0h0m2 0h0m14 0h0m2 0h0m8 0h0m2 0h0m-808 1h0m24 0h0m4 0h0m25 0h0m9 0h0m20 0h0m17 0h0m19 0h0m7 0h0m14 0h0m18 0h0m51 0h0m14 0h0m7 0h0m19 0h0m19 0h0m16 0h0m13 0h0m2 0h0m23 0h0m12 0h0m15 0h0m29 0h0m83 0h0m2 0h0m37 0h0m22 0h0m7 0h0m119 0h0m6 0h0m13 0h0m8 0h0m5 0h0m23 0h0m61 0h0m42 0h0m6 0h0m-791 1h0m5 0h0m29 0h0m46 0h0m24 0h0m1 0h0m24 0h0m5 0h0m14 0h0m1 0h0m32 0h0m27 0h0m7 0h0m61 0h0m15 0h0m35 0h0m6 0h0m51 0h0m21 0h0m10 0h0m52 0h0m25 0h0m35 0h0m70 0h0m4 0h0m12 0h0m18 0h0m8 0h0m20 0h0m28 0h0m5 0h0m5 0h0m17 0h0m69 0h0m1 0h0m1 0h0m-757 1h0m30 0h0m4 0h0m45 0h0m17 0h0m9 0h0m6 0h0m35 0h0m5 0h0m42 0h0m25 0h0m24 0h0m7 0h0m25 0h0m48 0h0m65 0h0m26 0h0m15 0h0m16 0h0m43 0h0m24 0h0m12 0h0m11 0h0m36 0h0m11 0h0m173 0h0m2 0h0m4 0h0m-782 1h0m44 0h0m53 0h0m51 0h0m21 0h0m21 0h0m11 0h0m10 0h0m3 0h0m18 0h0m7 0h0m1 0h0m27 0h0m1 0h0m1 0h0m22 0h0m17 0h0m29 0h0m35 0h0m31 0h0m1 0h0m34 0h0m11 0h0m6 0h0m62 0h0m3 0h0m11 0h0m15 0h0m7 0h0m7 0h0m8 0h0m42 0h0m7 0h0m12 0h0m18 0h0m5 0h0m25 0h0m16 0h0m16 0h0m51 0h0m1 0h0m24 0h0m1 0h0m-796 1h0m50 0h0m3 0h0m7 0h0m7 0h0m41 0h0m3 0h0m1 0h0m28 0h0m3 0h0m43 0h0m62 0h0m6 0h0m29 0h0m35 0h0m16 0h0m3 0h0m1 0h0m22 0h0m5 0h0m6 0h0m1 0h0m45 0h0m32 0h0m6 0h0m11 0h0m62 0h0m22 0h0m2 0h0m2 0h0m44 0h0m30 0h0m15 0h0m2 0h0m14 0h0m18 0h0m25 0h0m31 0h0m4 0h0m16 0h0m2 0h0m15 0h0m16 0h0m10 0h0m-753 1h0m40 0h0m3 0h0m24 0h0m49 0h0m56 0h0m23 0h0m2 0h0m25 0h0m44 0h0m4 0h0m9 0h0m11 0h0m11 0h0m9 0h0m18 0h0m21 0h0m32 0h0m39 0h0m13 0h0m14 0h0m6 0h0m11 0h0m13 0h0m9 0h0m17 0h0m7 0h0m26 0h0m6 0h0m27 0h0m23 0h0m7 0h0m7 0h0m9 0h0m37 0h0m39 0h0m15 0h0m4 0h0m28 0h0m7 0h0m24 0h0m-813 1h0m45 0h0m15 0h0m23 0h0m8 0h0m88 0h0m1 0h0m13 0h0m9 0h0m71 0h0m3 0h0m37 0h0m29 0h0m19 0h0m33 0h0m19 0h0m2 0h0m9 0h0m37 0h0m5 0h0m10 0h0m5 0h0m12 0h0m11 0h0m10 0h0m28 0h0m8 0h0m2 0h0m39 0h0m25 0h0m10 0h0m38 0h0m3 0h0m71 0h0m14 0h0m32 0h0m-837 1h0m28 0h0m7 0h0m15 0h0m91 0h0m49 0h0m153 0h0m46 0h0m54 0h0m22 0h0m20 0h0m8 0h0m7 0h0m23 0h0m66 0h0m12 0h0m9 0h0m6 0h0m28 0h0m6 0h0m20 0h0m43 0h0m19 0h0m14 0h0m18 0h0m49 0h0m6 0h0m54 0h0m-848 1h0m9 0h0m132 0h0m3 0h0m2 0h0m28 0h0m13 0h0m51 0h0m10 0h0m30 0h0m59 0h0m11 0h0m21 0h0m78 0h0m2 0h0m8 0h0m6 0h0m30 0h0m1 0h0m5 0h0m10 0h0m5 0h0m9 0h0m8 0h0m2 0h0m8 0h0m13 0h0m35 0h0m57 0h0m2 0h0m45 0h0m16 0h0m16 0h0m70 0h0m7 0h0m38 0h0m19 0h0m-832 1h0m3 0h0m117 0h0m1 0h0m12 0h0m1 0h0m24 0h0m20 0h0m11 0h0m8 0h0m33 0h0m6 0h0m1 0h0m1 0h0m4 0h0m4 0h0m41 0h0m13 0h0m28 0h0m12 0h0m16 0h0m4 0h0m23 0h0m7 0h0m6 0h0m6 0h0m7 0h0m24 0h0m19 0h0m15 0h0m2 0h0m29 0h0m13 0h0m9 0h0m8 0h0m19 0h0m1 0h0m14 0h0m26 0h0m1 0h0m2 0h0m7 0h0m35 0h0m3 0h0m1 0h0m9 0h0m28 0h0m34 0h0m53 0h0m6 0h0m6 0h0m3 0h0m2 0h0m-637 1h0m52 0h0m8 0h0m54 0h0m75 0h0m95 0h0m56 0h0m20 0h0m3 0h0m9 0h0m19 0h0m8 0h0m17 0h0m9 0h0m1 0h0m19 0h0m3 0h0m1 0h0m37 0h0m23 0h0m32 0h0m32 0h0m48 0h0m13 0h0m54 0h0m9 0h0m1 0h0m-889 1h0m51 0h0m119 0h0m4 0h0m35 0h0m9 0h0m1 0h0m16 0h0m50 0h0m4 0h0m8 0h0m18 0h0m35 0h0m8 0h0m10 0h0m4 0h0m22 0h0m16 0h0m9 0h0m6 0h0m5 0h0m46 0h0m7 0h0m10 0h0m58 0h0m17 0h0m14 0h0m11 0h0m6 0h0m21 0h0m1 0h0m60 0h0m45 0h0m1 0h0m17 0h0m13 0h0m15 0h0m52 0h0m44 0h0m12 0h0m1 0h0m4 0h0m-767 1h0m24 0h0m8 0h0m26 0h0m1 0h0m14 0h0m31 0h0m27 0h0m4 0h0m9 0h0m79 0h0m1 0h0m21 0h0m10 0h0m15 0h0m9 0h0m30 0h0m17 0h0m3 0h0m60 0h0m13 0h0m24 0h0m12 0h0m1 0h0m13 0h0m6 0h0m26 0h0m16 0h0m3 0h0m5 0h0m77 0h0m13 0h0m16 0h0m13 0h0m103 0h0m2 0h0m21 0h0m2 0h0m-851 1h0m109 0h0m1 0h0m15 0h0m20 0h0m15 0h0m43 0h0m24 0h0m14 0h0m1 0h0m7 0h0m2 0h0m8 0h0m2 0h0m38 0h0m6 0h0m17 0h0m18 0h0m5 0h0m24 0h0m47 0h0m38 0h0m10 0h0m12 0h0m32 0h0m14 0h0m3 0h0m20 0h0m28 0h0m10 0h0m17 0h0m13 0h0m14 0h0m10 0h0m40 0h0m11 0h0m21 0h0m36 0h0m50 0h0m13 0h0m41 0h0m-866 1h0m9 0h0m43 0h0m21 0h0m43 0h0m11 0h0m24 0h0m19 0h0m11 0h0m16 0h0m10 0h0m8 0h0m69 0h0m5 0h0m8 0h0m21 0h0m77 0h0m33 0h0m63 0h0m2 0h0m4 0h0m35 0h0m24 0h0m9 0h0m34 0h0m16 0h0m3 0h0m3 0h0m6 0h0m47 0h0m1 0h0m2 0h0m2 0h0m6 0h0m9 0h0m57 0h0m27 0h0m29 0h0m11 0h0m5 0h0m22 0h0m-799 1h0m1 0h0m107 0h0m26 0h0m12 0h0m1 0h0m9 0h0m71 0h0m16 0h0m6 0h0m46 0h0m2 0h0m14 0h0m14 0h0m2 0h0m43 0h0m4 0h0m4 0h0m13 0h0m13 0h0m20 0h0m75 0h0m49 0h0m33 0h0m6 0h0m13 0h0m7 0h0m18 0h0m3 0h0m4 0h0m1 0h0m32 0h0m25 0h0m9 0h0m17 0h0m17 0h0m38 0h0m44 0h0m13 0h0m5 0h0m-811 1h0m44 0h0m4 0h0m73 0h0m47 0h0m23 0h0m35 0h0m15 0h0m9 0h0m12 0h0m28 0h0m17 0h0m6 0h0m4 0h0m36 0h0m8 0h0m10 0h0m18 0h0m55 0h0m92 0h0m1 0h0m21 0h0m4 0h0m2 0h0m68 0h0m4 0h0m3 0h0m2 0h0m81 0h0m2 0h0m23 0h0m5 0h0m-804 1h0m34 0h0m2 0h0m61 0h0m37 0h0m4 0h0m84 0h0m10 0h0m17 0h0m28 0h0m15 0h0m5 0h0m21 0h0m53 0h0m12 0h0m6 0h0m7 0h0m10 0h0m34 0h0m12 0h0m2 0h0m10 0h0m8 0h0m15 0h0m37 0h0m3 0h0m35 0h0m38 0h0m4 0h0m24 0h0m24 0h0m22 0h0m9 0h0m45 0h0m33 0h0m14 0h0m2 0h0m12 0h0m7 0h0m2 0h0m73 0h0m-841 1h0m4 0h0m61 0h0m3 0h0m32 0h0m6 0h0m5 0h0m37 0h0m1 0h0m12 0h0m8 0h0m75 0h0m11 0h0m1 0h0m12 0h0m12 0h0m3 0h0m8 0h0m14 0h0m12 0h0m32 0h0m13 0h0m3 0h0m5 0h0m28 0h0m14 0h0m3 0h0m7 0h0m9 0h0m2 0h0m38 0h0m68 0h0m18 0h0m7 0h0m43 0h0m9 0h0m14 0h0m5 0h0m4 0h0m23 0h0m32 0h0m54 0h0m-744 1h0m52 0h0m32 0h0m5 0h0m50 0h0m41 0h0m4 0h0m74 0h0m21 0h0m11 0h0m6 0h0m4 0h0m24 0h0m16 0h0m21 0h0m58 0h0m7 0h0m11 0h0m9 0h0m58 0h0m39 0h0m14 0h0m27 0h0m91 0h0m14 0h0m54 0h0m15 0h0m21 0h0m62 0h0m-774 1h0m37 0h0m54 0h0m24 0h0m29 0h0m36 0h0m24 0h0m6 0h0m2 0h0m17 0h0m36 0h0m44 0h0m5 0h0m7 0h0m5 0h0m40 0h0m16 0h0m34 0h0m46 0h0m31 0h0m63 0h0m12 0h0m8 0h0m32 0h0m5 0h0m62 0h0m3 0h0m11 0h0m77 0h0m2 0h0m-830 1h0m153 0h0m12 0h0m50 0h0m30 0h0m18 0h0m41 0h0m12 0h0m16 0h0m21 0h0m8 0h0m29 0h0m2 0h0m6 0h0m12 0h0m8 0h0m5 0h0m63 0h0m3 0h0m11 0h0m55 0h0m2 0h0m52 0h0m22 0h0m8 0h0m52 0h0m47 0h0m10 0h0m12 0h0m6 0h0m4 0h0m47 0h0m3 0h0m12 0h0m1 0h0m-877 1h0m37 0h0m180 0h0m22 0h0m21 0h0m24 0h0m1 0h0m8 0h0m12 0h0m65 0h0m61 0h0m26 0h0m2 0h0m1 0h0m6 0h0m1 0h0m7 0h0m32 0h0m20 0h0m73 0h0m72 0h0m19 0h0m25 0h0m81 0h0m9 0h0m6 0h0m-710 1h0m22 0h0m65 0h0m4 0h0m57 0h0m38 0h0m6 0h0m7 0h0m24 0h0m62 0h0m75 0h0m15 0h0m7 0h0m13 0h0m4 0h0m27 0h0m28 0h0m15 0h0m18 0h0m1 0h0m22 0h0m2 0h0m8 0h0m7 0h0m41 0h0m15 0h0m19 0h0m24 0h0m103 0h0m36 0h0m-823 1h0m23 0h0m20 0h0m87 0h0m108 0h0m13 0h0m15 0h0m6 0h0m10 0h0m35 0h0m6 0h0m12 0h0m1 0h0m3 0h0m5 0h0m35 0h0m23 0h0m28 0h0m13 0h0m31 0h0m2 0h0m27 0h0m76 0h0m6 0h0m6 0h0m8 0h0m9 0h0m2 0h0m24 0h0m33 0h0m7 0h0m18 0h0m-590 1h0m23 0h0m17 0h0m8 0h0m1 0h0m26 0h0m5 0h0m42 0h0m16 0h0m4 0h0m15 0h0m4 0h0m52 0h0m1 0h0m17 0h0m28 0h0m21 0h0m1 0h0m12 0h0m1 0h0m17 0h0m60 0h0m2 0h0m2 0h0m1 0h0m20 0h0m18 0h0m8 0h0m6 0h0m11 0h0m36 0h0m5 0h0m9 0h0m1 0h0m14 0h0m6 0h0m42 0h0m73 0h0m26 0h0m7 0h0m27 0h0m26 0h0m-794 1h0m86 0h0m3 0h0m118 0h0m31 0h0m5 0h0m22 0h0m4 0h0m40 0h0m29 0h0m43 0h0m8 0h0m18 0h0m4 0h0m6 0h0m60 0h0m13 0h0m20 0h0m13 0h0m24 0h0m19 0h0m2 0h0m23 0h0m15 0h0m12 0h0m1 0h0m2 0h0m27 0h0m14 0h0m12 0h0m101 0h0m8 0h0m11 0h0m-696 1h0m4 0h0m6 0h0m57 0h0m3 0h0m40 0h0m24 0h0m29 0h0m3 0h0m20 0h0m3 0h0m4 0h0m20 0h0m14 0h0m16 0h0m20 0h0m7 0h0m11 0h0m26 0h0m49 0h0m32 0h0m2 0h0m17 0h0m39 0h0m22 0h0m12 0h0m11 0h0m8 0h0m42 0h0m10 0h0m22 0h0m3 0h0m91 0h0m20 0h0m3 0h0m8 0h0m-771 1h0m38 0h0m26 0h0m29 0h0m21 0h0m1 0h0m3 0h0m20 0h0m22 0h0m9 0h0m88 0h0m2 0h0m3 0h0m15 0h0m3 0h0m6 0h0m4 0h0m12 0h0m10 0h0m18 0h0m22 0h0m4 0h0m13 0h0m3 0h0m54 0h0m4 0h0m131 0h0m16 0h0m11 0h0m70 0h0m6 0h0m23 0h0m54 0h0m12 0h0m11 0h0m8 0h0m-801 1h0m87 0h0m51 0h0m8 0h0m19 0h0m36 0h0m50 0h0m43 0h0m8 0h0m3 0h0m16 0h0m45 0h0m26 0h0m6 0h0m62 0h0m51 0h0m71 0h0m80 0h0m6 0h0m5 0h0m62 0h0m16 0h0m14 0h0m5 0h0m13 0h0m-837 1h0m5 0h0m145 0h0m22 0h0m5 0h0m42 0h0m18 0h0m34 0h0m1 0h0m3 0h0m4 0h0m47 0h0m22 0h0m1 0h0m59 0h0m3 0h0m20 0h0m8 0h0m4 0h0m37 0h0m5 0h0m36 0h0m19 0h0m8 0h0m71 0h0m29 0h0m43 0h0m8 0h0m75 0h0m3 0h0m2 0h0m30 0h0m1 0h0m10 0h0m-816 1h0m59 0h0m32 0h0m16 0h0m3 0h0m43 0h0m22 0h0m13 0h0m25 0h0m18 0h0m37 0h0m23 0h0m3 0h0m13 0h0m31 0h0m72 0h0m3 0h0m6 0h0m11 0h0m16 0h0m22 0h0m40 0h0m18 0h0m11 0h0m23 0h0m21 0h0m10 0h0m3 0h0m30 0h0m20 0h0m13 0h0m9 0h0m44 0h0m33 0h0m21 0h0m23 0h0m15 0h0m2 0h0m1 0h0m12 0h0m12 0h0m3 0h0m15 0h0m41 0h0m-885 1h0m41 0h0m17 0h0m1 0h0m50 0h0m51 0h0m5 0h0m43 0h0m12 0h0m40 0h0m15 0h0m2 0h0m14 0h0m55 0h0m14 0h0m1 0h0m3 0h0m6 0h0m3 0h0m20 0h0m12 0h0m31 0h0m16 0h0m16 0h0m11 0h0m35 0h0m92 0h0m10 0h0m11 0h0m7 0h0m13 0h0m35 0h0m2 0h0m8 0h0m17 0h0m44 0h0m4 0h0m4 0h0m6 0h0m116 0h0m-919 1h0m87 0h0m5 0h0m55 0h0m5 0h0m8 0h0m17 0h0m22 0h0m22 0h0m36 0h0m27 0h0m31 0h0m40 0h0m4 0h0m19 0h0m28 0h0m1 0h0m33 0h0m22 0h0m12 0h0m6 0h0m4 0h0m8 0h0m23 0h0m13 0h0m38 0h0m46 0h0m36 0h0m54 0h0m8 0h0m2 0h0m26 0h0m27 0h0m5 0h0m3 0h0m24 0h0m-773 1h0m2 0h0m41 0h0m3 0h0m10 0h0m11 0h0m45 0h0m3 0h0m6 0h0m1 0h0m6 0h0m22 0h0m37 0h0m14 0h0m9 0h0m34 0h0m13 0h0m3 0h0m52 0h0m41 0h0m46 0h0m10 0h0m23 0h0m19 0h0m1 0h0m12 0h0m27 0h0m38 0h0m12 0h0m15 0h0m5 0h0m8 0h0m34 0h0m13 0h0m56 0h0m39 0h0m14 0h0m21 0h0m5 0h0m54 0h0m10 0h0m5 0h0m1 0h0m9 0h0m62 0h0m-850 1h0m6 0h0m1 0h0m70 0h0m30 0h0m34 0h0m25 0h0m54 0h0m42 0h0m29 0h0m10 0h0m6 0h0m21 0h0m26 0h0m14 0h0m12 0h0m4 0h0m12 0h0m15 0h0m36 0h0m30 0h0m10 0h0m37 0h0m15 0h0m1 0h0m3 0h0m25 0h0m63 0h0m51 0h0m27 0h0m33 0h0m6 0h0m1 0h0m15 0h0m6 0h0m15 0h0m40 0h0m-866 1h0m15 0h0m3 0h0m9 0h0m16 0h0m1 0h0m3 0h0m10 0h0m7 0h0m2 0h0m5 0h0m50 0h0m4 0h0m13 0h0m8 0h0m7 0h0m27 0h0m33 0h0m9 0h0m31 0h0m62 0h0m17 0h0m19 0h0m27 0h0m12 0h0m12 0h0m37 0h0m10 0h0m18 0h0m49 0h0m9 0h0m8 0h0m21 0h0m18 0h0m4 0h0m2 0h0m13 0h0m22 0h0m5 0h0m29 0h0m15 0h0m33 0h0m4 0h0m7 0h0m6 0h0m10 0h0m1 0h0m26 0h0m19 0h0m1 0h0m123 0h0m-879 1h0m1 0h0m1 0h0m15 0h0m12 0h0m16 0h0m37 0h0m19 0h0m41 0h0m34 0h0m2 0h0m1 0h0m4 0h0m4 0h0m7 0h0m10 0h0m43 0h0m8 0h0m12 0h0m2 0h0m10 0h0m3 0h0m26 0h0m25 0h0m61 0h0m27 0h0m3 0h0m6 0h0m14 0h0m21 0h0m66 0h0m1 0h0m75 0h0m1 0h0m6 0h0m9 0h0m26 0h0m10 0h0m41 0h0m11 0h0m14 0h0m9 0h0m68 0h0m16 0h0m-820 1h0m33 0h0m23 0h0m2 0h0m6 0h0m46 0h0m28 0h0m10 0h0m8 0h0m25 0h0m6 0h0m82 0h0m25 0h0m15 0h0m5 0h0m9 0h0m11 0h0m65 0h0m40 0h0m78 0h0m3 0h0m14 0h0m32 0h0m45 0h0m74 0h0m23 0h0m11 0h0m18 0h0m31 0h0m47 0h0m3 0h0m6 0h0m46 0h0m-828 1h0m3 0h0m37 0h0m32 0h0m22 0h0m109 0h0m6 0h0m7 0h0m11 0h0m6 0h0m31 0h0m26 0h0m3 0h0m2 0h0m13 0h0m18 0h0m1 0h0m9 0h0m5 0h0m21 0h0m25 0h0m25 0h0m1 0h0m26 0h0m4 0h0m16 0h0m72 0h0m13 0h0m6 0h0m13 0h0m1 0h0m55 0h0m6 0h0m10 0h0m2 0h0m3 0h0m58 0h0m31 0h0m5 0h0m3 0h0m31 0h0m14 0h0m1 0h0m-875 1h0m21 0h0m34 0h0m2 0h0m15 0h0m24 0h0m35 0h0m45 0h0m18 0h0m6 0h0m13 0h0m3 0h0m37 0h0m67 0h0m6 0h0m15 0h0m4 0h0m18 0h0m1 0h0m18 0h0m23 0h0m19 0h0m11 0h0m18 0h0m9 0h0m10 0h0m33 0h0m110 0h0m6 0h0m3 0h0m8 0h0m10 0h0m14 0h0m5 0h0m23 0h0m8 0h0m16 0h0m17 0h0m20 0h0m26 0h0m7 0h0m4 0h0m8 0h0m54 0h0m6 0h0m19 0h0m3 0h0m30 0h0m-877 1h0m31 0h0m1 0h0m9 0h0m2 0h0m36 0h0m49 0h0m29 0h0m6 0h0m4 0h0m60 0h0m12 0h0m22 0h0m15 0h0m15 0h0m38 0h0m28 0h0m4 0h0m34 0h0m3 0h0m2 0h0m2 0h0m2 0h0m4 0h0m71 0h0m10 0h0m1 0h0m9 0h0m24 0h0m30 0h0m13 0h0m55 0h0m8 0h0m81 0h0m32 0h0m12 0h0m4 0h0m2 0h0m31 0h0m8 0h0m14 0h0m7 0h0m32 0h0m-882 1h0m114 0h0m15 0h0m15 0h0m33 0h0m16 0h0m27 0h0m27 0h0m76 0h0m3 0h0m31 0h0m66 0h0m1 0h0m2 0h0m44 0h0m7 0h0m23 0h0m32 0h0m34 0h0m5 0h0m22 0h0m2 0h0m8 0h0m33 0h0m18 0h0m17 0h0m13 0h0m2 0h0m1 0h0m12 0h0m9 0h0m42 0h0m1 0h0m12 0h0m28 0h0m34 0h0m4 0h0m79 0h0m5 0h0m11 0h0m1 0h0m-919 1h0m104 0h0m91 0h0m5 0h0m25 0h0m5 0h0m1 0h0m23 0h0m4 0h0m30 0h0m5 0h0m3 0h0m19 0h0m29 0h0m5 0h0m9 0h0m1 0h0m21 0h0m1 0h0m15 0h0m8 0h0m4 0h0m10 0h0m16 0h0m16 0h0m50 0h0m4 0h0m13 0h0m33 0h0m37 0h0m2 0h0m17 0h0m28 0h0m2 0h0m7 0h0m63 0h0m12 0h0m15 0h0m14 0h0m5 0h0m7 0h0m31 0h0m28 0h0m9 0h0m5 0h0m20 0h0m52 0h0m15 0h0m-895 1h0m69 0h0m8 0h0m63 0h0m62 0h0m3 0h0m62 0h0m31 0h0m8 0h0m32 0h0m58 0h0m21 0h0m10 0h0m1 0h0m3 0h0m28 0h0m13 0h0m16 0h0m7 0h0m25 0h0m5 0h0m36 0h0m7 0h0m22 0h0m17 0h0m49 0h0m3 0h0m3 0h0m22 0h0m4 0h0m8 0h0m38 0h0m17 0h0m43 0h0m17 0h0m44 0h0m41 0h0m-802 1h0m28 0h0m17 0h0m30 0h0m17 0h0m52 0h0m4 0h0m90 0h0m27 0h0m23 0h0m38 0h0m44 0h0m18 0h0m44 0h0m7 0h0m2 0h0m18 0h0m45 0h0m25 0h0m57 0h0m12 0h0m15 0h0m84 0h0m37 0h0m11 0h0m-779 1h0m45 0h0m67 0h0m14 0h0m25 0h0m32 0h0m18 0h0m26 0h0m8 0h0m13 0h0m5 0h0m155 0h0m8 0h0m30 0h0m6 0h0m15 0h0m84 0h0m50 0h0m55 0h0m7 0h0m9 0h0m59 0h0m29 0h0m-759 1h0m80 0h0m29 0h0m7 0h0m25 0h0m1 0h0m1 0h0m27 0h0m3 0h0m4 0h0m11 0h0m35 0h0m8 0h0m78 0h0m8 0h0m43 0h0m5 0h0m6 0h0m3 0h0m22 0h0m30 0h0m6 0h0m6 0h0m58 0h0m27 0h0m8 0h0m62 0h0m32 0h0m38 0h0m27 0h0m20 0h0m24 0h0m9 0h0m63 0h0m-823 1h0m17 0h0m39 0h0m4 0h0m46 0h0m3 0h0m28 0h0m20 0h0m37 0h0m15 0h0m2 0h0m36 0h0m7 0h0m9 0h0m5 0h0m2 0h0m24 0h0m36 0h0m42 0h0m5 0h0m28 0h0m21 0h0m57 0h0m33 0h0m32 0h0m4 0h0m22 0h0m47 0h0m2 0h0m3 0h0m16 0h0m9 0h0m4 0h0m5 0h0m1 0h0m16 0h0m44 0h0m1 0h0m34 0h0m132 0h0m-961 1h0m97 0h0m88 0h0m1 0h0m47 0h0m1 0h0m11 0h0m21 0h0m58 0h0m16 0h0m9 0h0m66 0h0m43 0h0m4 0h0m18 0h0m26 0h0m21 0h0m7 0h0m20 0h0m20 0h0m82 0h0m86 0h0m2 0h0m2 0h0m30 0h0m61 0h0m65 0h0m4 0h0m37 0h0m16 0h0m-923 1h0m59 0h0m71 0h0m9 0h0m3 0h0m9 0h0m9 0h0m33 0h0m8 0h0m10 0h0m4 0h0m94 0h0m6 0h0m51 0h0m16 0h0m2 0h0m34 0h0m5 0h0m27 0h0m31 0h0m10 0h0m13 0h0m91 0h0m15 0h0m27 0h0m9 0h0m4 0h0m12 0h0m40 0h0m33 0h0m10 0h0m124 0h0m51 0h0m6 0h0m1 0h0m-915 1h0m1 0h0m24 0h0m67 0h0m94 0h0m14 0h0m1 0h0m6 0h0m2 0h0m35 0h0m39 0h0m18 0h0m25 0h0m28 0h0m6 0h0m12 0h0m20 0h0m47 0h0m22 0h0m7 0h0m12 0h0m8 0h0m7 0h0m15 0h0m11 0h0m27 0h0m9 0h0m30 0h0m7 0h0m15 0h0m26 0h0m57 0h0m64 0h0m-632 1h0m7 0h0m2 0h0m8 0h0m16 0h0m15 0h0m16 0h0m2 0h0m21 0h0m9 0h0m5 0h0m3 0h0m7 0h0m5 0h0m45 0h0m11 0h0m22 0h0m1 0h0m7 0h0m39 0h0m1 0h0m20 0h0m13 0h0m10 0h0m25 0h0m1 0h0m3 0h0m55 0h0m25 0h0m26 0h0m15 0h0m3 0h0m38 0h0m33 0h0m53 0h0m4 0h0m45 0h0m28 0h0m17 0h0m74 0h0m1 0h0m58 0h0m-911 1h0m43 0h0m5 0h0m67 0h0m48 0h0m10 0h0m29 0h0m15 0h0m13 0h0m5 0h0m25 0h0m39 0h0m22 0h0m8 0h0m5 0h0m7 0h0m13 0h0m100 0h0m50 0h0m25 0h0m7 0h0m1 0h0m58 0h0m8 0h0m6 0h0m22 0h0m62 0h0m4 0h0m15 0h0m5 0h0m15 0h0m65 0h0m-854 1h0m63 0h0m36 0h0m7 0h0m28 0h0m52 0h0m18 0h0m36 0h0m10 0h0m15 0h0m26 0h0m17 0h0m4 0h0m23 0h0m19 0h0m7 0h0m24 0h0m11 0h0m1 0h0m8 0h0m75 0h0m5 0h0m12 0h0m1 0h0m8 0h0m47 0h0m1 0h0m1 0h0m8 0h0m35 0h0m36 0h0m32 0h0m1 0h0m12 0h0m1 0h0m27 0h0m15 0h0m17 0h0m22 0h0m1 0h0m4 0h0m59 0h0m34 0h0m1 0h0m-780 1h0m60 0h0m99 0h0m1 0h0m41 0h0m14 0h0m34 0h0m28 0h0m29 0h0m19 0h0m2 0h0m51 0h0m18 0h0m32 0h0m16 0h0m7 0h0m12 0h0m18 0h0m25 0h0m3 0h0m21 0h0m52 0h0m14 0h0m39 0h0m1 0h0m16 0h0m44 0h0m8 0h0m10 0h0m45 0h0m1 0h0m112 0h0m-936 1h0m1 0h0m6 0h0m108 0h0m17 0h0m47 0h0m50 0h0m54 0h0m59 0h0m13 0h0m27 0h0m21 0h0m33 0h0m5 0h0m42 0h0m2 0h0m54 0h0m93 0h0m78 0h0m6 0h0m4 0h0m11 0h0m3 0h0m12 0h0m42 0h0m16 0h0m5 0h0m12 0h0m4 0h0m8 0h0m2 0h0m6 0h0m2 0h0m-858 1h0m89 0h0m15 0h0m26 0h0m72 0h0m56 0h0m16 0h0m1 0h0m1 0h0m9 0h0m9 0h0m1 0h0m4 0h0m4 0h0m8 0h0m22 0h0m2 0h0m1 0h0m43 0h0m17 0h0m72 0h0m10 0h0m9 0h0m9 0h0m1 0h0m51 0h0m9 0h0m6 0h0m22 0h0m13 0h0m3 0h0m18 0h0m14 0h0m29 0h0m11 0h0m7 0h0m22 0h0m1 0h0m7 0h0m25 0h0m9 0h0m4 0h0m41 0h0m9 0h0m1 0h0m10 0h0m33 0h0m16 0h0m66 0h0m7 0h0m-872 1h0m78 0h0m9 0h0m28 0h0m15 0h0m6 0h0m10 0h0m70 0h0m26 0h0m4 0h0m7 0h0m12 0h0m1 0h0m24 0h0m21 0h0m2 0h0m5 0h0m2 0h0m32 0h0m12 0h0m3 0h0m57 0h0m14 0h0m19 0h0m29 0h0m11 0h0m7 0h0m1 0h0m7 0h0m6 0h0m4 0h0m28 0h0m10 0h0m4 0h0m10 0h0m17 0h0m13 0h0m14 0h0m3 0h0m8 0h0m25 0h0m23 0h0m15 0h0m23 0h0m16 0h0m5 0h0m4 0h0m23 0h0m18 0h0m4 0h0m8 0h0m-851 1h0m84 0h0m1 0h0m4 0h0m6 0h0m5 0h0m6 0h0m38 0h0m1 0h0m54 0h0m23 0h0m32 0h0m6 0h0m14 0h0m1 0h0m16 0h0m13 0h0m29 0h0m8 0h0m1 0h0m2 0h0m47 0h0m3 0h0m4 0h0m14 0h0m3 0h0m24 0h0m1 0h0m8 0h0m9 0h0m13 0h0m13 0h0m2 0h0m5 0h0m16 0h0m58 0h0m17 0h0m33 0h0m2 0h0m65 0h0m24 0h0m34 0h0m8 0h0m56 0h0m36 0h0m5 0h0m82 0h0m-796 1h0m21 0h0m9 0h0m26 0h0m3 0h0m14 0h0m14 0h0m51 0h0m30 0h0m46 0h0m34 0h0m16 0h0m24 0h0m21 0h0m9 0h0m27 0h0m20 0h0m7 0h0m89 0h0m13 0h0m32 0h0m11 0h0m46 0h0m2 0h0m19 0h0m8 0h0m4 0h0m2 0h0m24 0h0m1 0h0m12 0h0m15 0h0m28 0h0m41 0h0m32 0h0m-852 1h0m3 0h0m106 0h0m17 0h0m26 0h0m79 0h0m10 0h0m1 0h0m82 0h0m4 0h0m12 0h0m8 0h0m30 0h0m39 0h0m46 0h0m2 0h0m3 0h0m12 0h0m5 0h0m57 0h0m13 0h0m11 0h0m5 0h0m58 0h0m26 0h0m51 0h0m15 0h0m23 0h0m91 0h0m68 0h0m34 0h0m-952 1h0m132 0h0m40 0h0m30 0h0m6 0h0m39 0h0m109 0h0m8 0h0m27 0h0m13 0h0m14 0h0m24 0h0m14 0h0m4 0h0m21 0h0m40 0h0m60 0h0m6 0h0m3 0h0m55 0h0m11 0h0m28 0h0m10 0h0m50 0h0m64 0h0m56 0h0m46 0h0m4 0h0m51 0h0m-947 1h0m6 0h0m2 0h0m59 0h0m31 0h0m5 0h0m7 0h0m43 0h0m1 0h0m21 0h0m34 0h0m49 0h0m70 0h0m98 0h0m68 0h0m5 0h0m25 0h0m4 0h0m27 0h0m10 0h0m4 0h0m76 0h0m18 0h0m45 0h0m57 0h0m8 0h0m28 0h0m5 0h0m2 0h0m2 0h0m-821 1h0m12 0h0m90 0h0m9 0h0m57 0h0m47 0h0m11 0h0m4 0h0m2 0h0m18 0h0m7 0h0m5 0h0m30 0h0m15 0h0m25 0h0m40 0h0m2 0h0m77 0h0m15 0h0m12 0h0m5 0h0m19 0h0m5 0h0m1 0h0m84 0h0m7 0h0m24 0h0m9 0h0m5 0h0m8 0h0m69 0h0m5 0h0m16 0h0m40 0h0m43 0h0m2 0h0m25 0h0m11 0h0m1 0h0m99 0h0m3 0h0m-920 1h0m72 0h0m4 0h0m3 0h0m54 0h0m20 0h0m5 0h0m4 0h0m5 0h0m18 0h0m31 0h0m74 0h0m33 0h0m12 0h0m11 0h0m23 0h0m18 0h0m16 0h0m8 0h0m24 0h0m73 0h0m3 0h0m32 0h0m24 0h0m31 0h0m2 0h0m53 0h0m8 0h0m26 0h0m27 0h0m10 0h0m32 0h0m22 0h0m6 0h0m107 0h0m-931 1h0m38 0h0m4 0h0m40 0h0m64 0h0m29 0h0m38 0h0m12 0h0m3 0h0m16 0h0m6 0h0m24 0h0m1 0h0m44 0h0m31 0h0m1 0h0m6 0h0m43 0h0m1 0h0m10 0h0m8 0h0m10 0h0m34 0h0m3 0h0m1 0h0m7 0h0m52 0h0m23 0h0m28 0h0m2 0h0m24 0h0m1 0h0m29 0h0m17 0h0m53 0h0m10 0h0m46 0h0m68 0h0m83 0h0m22 0h0m6 0h0m23 0h0m-972 1h0m53 0h0m64 0h0m18 0h0m17 0h0m4 0h0m26 0h0m18 0h0m10 0h0m5 0h0m45 0h0m13 0h0m11 0h0m18 0h0m3 0h0m14 0h0m9 0h0m8 0h0m5 0h0m29 0h0m3 0h0m34 0h0m20 0h0m14 0h0m75 0h0m19 0h0m8 0h0m8 0h0m9 0h0m42 0h0m27 0h0m19 0h0m6 0h0m55 0h0m36 0h0m38 0h0m33 0h0m35 0h0m6 0h0m18 0h0m-849 1h0m42 0h0m93 0h0m27 0h0m31 0h0m7 0h0m7 0h0m29 0h0m6 0h0m67 0h0m12 0h0m16 0h0m5 0h0m38 0h0m20 0h0m40 0h0m17 0h0m84 0h0m46 0h0m49 0h0m20 0h0m6 0h0m10 0h0m3 0h0m12 0h0m48 0h0m61 0h0m8 0h0m58 0h0m28 0h0m1 0h0m49 0h0m4 0h0m-874 1h0m32 0h0m56 0h0m45 0h0m57 0h0m17 0h0m20 0h0m5 0h0m20 0h0m36 0h0m10 0h0m5 0h0m24 0h0m63 0h0m10 0h0m14 0h0m21 0h0m41 0h0m23 0h0m22 0h0m27 0h0m18 0h0m66 0h0m53 0h0m16 0h0m22 0h0m7 0h0m6 0h0m49 0h0m-880 1h0m151 0h0m4 0h0m25 0h0m13 0h0m71 0h0m38 0h0m24 0h0m15 0h0m9 0h0m22 0h0m22 0h0m15 0h0m2 0h0m18 0h0m15 0h0m26 0h0m10 0h0m8 0h0m28 0h0m38 0h0m15 0h0m54 0h0m14 0h0m27 0h0m47 0h0m57 0h0m5 0h0m17 0h0m4 0h0m24 0h0m64 0h0m7 0h0m13 0h0m45 0h0m-951 1h0m63 0h0m85 0h0m28 0h0m6 0h0m22 0h0m23 0h0m22 0h0m25 0h0m10 0h0m24 0h0m3 0h0m3 0h0m3 0h0m11 0h0m9 0h0m30 0h0m27 0h0m24 0h0m9 0h0m50 0h0m70 0h0m6 0h0m1 0h0m10 0h0m32 0h0m5 0h0m4 0h0m43 0h0m30 0h0m55 0h0m2 0h0m2 0h0m21 0h0m2 0h0m17 0h0m33 0h0m14 0h0m37 0h0m19 0h0m7 0h0m25 0h0m1 0h0m30 0h0m-914 1h0m152 0h0m37 0h0m9 0h0m8 0h0m6 0h0m4 0h0m14 0h0m46 0h0m11 0h0m16 0h0m47 0h0m21 0h0m1 0h0m16 0h0m21 0h0m41 0h0m8 0h0m1 0h0m12 0h0m3 0h0m13 0h0m20 0h0m10 0h0m109 0h0m3 0h0m69 0h0m62 0h0m87 0h0m14 0h0m38 0h0m-933 1h0m33 0h0m151 0h0m18 0h0m8 0h0m31 0h0m8 0h0m8 0h0m29 0h0m1 0h0m2 0h0m3 0h0m4 0h0m1 0h0m12 0h0m34 0h0m38 0h0m27 0h0m55 0h0m17 0h0m11 0h0m2 0h0m27 0h0m37 0h0m74 0h0m35 0h0m35 0h0m42 0h0m15 0h0m8 0h0m65 0h0m4 0h0m58 0h0m28 0h0m8 0h0m-939 1h0m166 0h0m9 0h0m6 0h0m91 0h0m30 0h0m13 0h0m8 0h0m11 0h0m11 0h0m2 0h0m8 0h0m11 0h0m23 0h0m1 0h0m3 0h0m9 0h0m40 0h0m5 0h0m2 0h0m19 0h0m15 0h0m29 0h0m62 0h0m86 0h0m22 0h0m16 0h0m20 0h0m1 0h0m40 0h0m6 0h0m7 0h0m31 0h0m25 0h0m12 0h0m4 0h0m21 0h0m1 0h0m33 0h0m2 0h0m46 0h0m-933 1h0m30 0h0m15 0h0m92 0h0m4 0h0m15 0h0m38 0h0m46 0h0m19 0h0m2 0h0m80 0h0m29 0h0m10 0h0m15 0h0m12 0h0m72 0h0m8 0h0m9 0h0m110 0h0m10 0h0m22 0h0m3 0h0m5 0h0m24 0h0m33 0h0m8 0h0m6 0h0m29 0h0m38 0h0m41 0h0m3 0h0m43 0h0m22 0h0m1 0h0m3 0h0m16 0h0m-895 1h0m10 0h0m94 0h0m18 0h0m52 0h0m6 0h0m33 0h0m32 0h0m16 0h0m4 0h0m17 0h0m31 0h0m7 0h0m21 0h0m14 0h0m12 0h0m19 0h0m21 0h0m13 0h0m2 0h0m7 0h0m20 0h0m4 0h0m8 0h0m26 0h0m23 0h0m11 0h0m17 0h0m7 0h0m113 0h0m10 0h0m23 0h0m40 0h0m20 0h0m9 0h0m20 0h0m45 0h0m3 0h0m38 0h0m2 0h0m11 0h0m23 0h0m-897 1h0m2 0h0m6 0h0m4 0h0m2 0h0m10 0h0m42 0h0m49 0h0m29 0h0m42 0h0m8 0h0m7 0h0m2 0h0m6 0h0m6 0h0m22 0h0m12 0h0m15 0h0m11 0h0m14 0h0m26 0h0m10 0h0m1 0h0m20 0h0m64 0h0m3 0h0m44 0h0m17 0h0m17 0h0m15 0h0m7 0h0m18 0h0m4 0h0m2 0h0m26 0h0m24 0h0m21 0h0m26 0h0m88 0h0m65 0h0m14 0h0m16 0h0m29 0h0m3 0h0m10 0h0m2 0h0m26 0h0m11 0h0m-928 1h0m26 0h0m1 0h0m6 0h0m15 0h0m5 0h0m43 0h0m36 0h0m1 0h0m52 0h0m6 0h0m43 0h0m32 0h0m3 0h0m7 0h0m4 0h0m8 0h0m67 0h0m3 0h0m12 0h0m59 0h0m4 0h0m3 0h0m20 0h0m17 0h0m2 0h0m1 0h0m7 0h0m20 0h0m3 0h0m9 0h0m6 0h0m28 0h0m28 0h0m19 0h0m27 0h0m15 0h0m3 0h0m22 0h0m21 0h0m13 0h0m8 0h0m4 0h0m37 0h0m62 0h0m1 0h0m19 0h0m55 0h0m18 0h0m20 0h0m-927 1h0m34 0h0m2 0h0m4 0h0m11 0h0m3 0h0m2 0h0m50 0h0m25 0h0m6 0h0m43 0h0m32 0h0m19 0h0m3 0h0m18 0h0m19 0h0m7 0h0m12 0h0m19 0h0m24 0h0m11 0h0m29 0h0m23 0h0m2 0h0m20 0h0m18 0h0m9 0h0m20 0h0m32 0h0m8 0h0m3 0h0m12 0h0m35 0h0m20 0h0m1 0h0m40 0h0m89 0h0m27 0h0m35 0h0m8 0h0m3 0h0m54 0h0m68 0h0m4 0h0m21 0h0m-925 1h0m31 0h0m10 0h0m31 0h0m35 0h0m20 0h0m13 0h0m14 0h0m32 0h0m84 0h0m10 0h0m25 0h0m11 0h0m2 0h0m51 0h0m125 0h0m10 0h0m10 0h0m26 0h0m1 0h0m26 0h0m25 0h0m5 0h0m18 0h0m49 0h0m1 0h0m6 0h0m24 0h0m24 0h0m20 0h0m25 0h0m3 0h0m48 0h0m21 0h0m25 0h0m2 0h0m6 0h0m16 0h0m-890 1h0m4 0h0m62 0h0m8 0h0m37 0h0m6 0h0m14 0h0m5 0h0m18 0h0m58 0h0m28 0h0m10 0h0m17 0h0m2 0h0m14 0h0m4 0h0m41 0h0m9 0h0m27 0h0m5 0h0m18 0h0m12 0h0m19 0h0m4 0h0m1 0h0m1 0h0m19 0h0m2 0h0m28 0h0m43 0h0m10 0h0m30 0h0m23 0h0m16 0h0m32 0h0m7 0h0m14 0h0m12 0h0m47 0h0m54 0h0m24 0h0m20 0h0m15 0h0m38 0h0m37 0h0m35 0h0m15 0h0m29 0h0m4 0h0m-904 1h0m38 0h0m1 0h0m10 0h0m11 0h0m8 0h0m47 0h0m7 0h0m1 0h0m6 0h0m31 0h0m61 0h0m3 0h0m19 0h0m17 0h0m6 0h0m15 0h0m17 0h0m8 0h0m14 0h0m22 0h0m38 0h0m10 0h0m5 0h0m36 0h0m22 0h0m29 0h0m80 0h0m44 0h0m22 0h0m2 0h0m9 0h0m4 0h0m17 0h0m15 0h0m3 0h0m2 0h0m7 0h0m1 0h0m22 0h0m9 0h0m45 0h0m20 0h0m83 0h0m-934 1h0m35 0h0m19 0h0m50 0h0m25 0h0m25 0h0m17 0h0m24 0h0m17 0h0m9 0h0m13 0h0m16 0h0m40 0h0m1 0h0m1 0h0m11 0h0m30 0h0m5 0h0m11 0h0m1 0h0m25 0h0m2 0h0m5 0h0m27 0h0m14 0h0m76 0h0m3 0h0m11 0h0m14 0h0m20 0h0m21 0h0m6 0h0m135 0h0m4 0h0m21 0h0m9 0h0m26 0h0m21 0h0m45 0h0m19 0h0m19 0h0m49 0h0m20 0h0m5 0h0m26 0h0m34 0h0m-1022 1h0m2 0h0m15 0h0m72 0h0m7 0h0m35 0h0m10 0h0m8 0h0m63 0h0m2 0h0m7 0h0m9 0h0m22 0h0m14 0h0m3 0h0m8 0h0m8 0h0m18 0h0m16 0h0m11 0h0m4 0h0m46 0h0m15 0h0m1 0h0m46 0h0m15 0h0m1 0h0m94 0h0m7 0h0m23 0h0m26 0h0m23 0h0m40 0h0m16 0h0m46 0h0m6 0h0m24 0h0m19 0h0m2 0h0m10 0h0m14 0h0m69 0h0m33 0h0m23 0h0m4 0h0m5 0h0m12 0h0m12 0h0m3 0h0m-915 1h0m62 0h0m21 0h0m12 0h0m11 0h0m26 0h0m5 0h0m2 0h0m51 0h0m26 0h0m16 0h0m12 0h0m30 0h0m13 0h0m18 0h0m21 0h0m3 0h0m13 0h0m1 0h0m2 0h0m24 0h0m7 0h0m4 0h0m11 0h0m30 0h0m2 0h0m23 0h0m8 0h0m1 0h0m21 0h0m51 0h0m20 0h0m23 0h0m51 0h0m6 0h0m2 0h0m7 0h0m13 0h0m9 0h0m33 0h0m9 0h0m27 0h0m12 0h0m47 0h0m3 0h0m28 0h0m13 0h0m1 0h0m3 0h0m45 0h0m25 0h0m-943 1h0m36 0h0m41 0h0m4 0h0m24 0h0m12 0h0m62 0h0m27 0h0m9 0h0m4 0h0m10 0h0m3 0h0m4 0h0m28 0h0m2 0h0m4 0h0m51 0h0m8 0h0m9 0h0m19 0h0m5 0h0m44 0h0m9 0h0m1 0h0m1 0h0m22 0h0m15 0h0m22 0h0m29 0h0m35 0h0m8 0h0m5 0h0m1 0h0m38 0h0m15 0h0m3 0h0m9 0h0m15 0h0m14 0h0m6 0h0m38 0h0m15 0h0m42 0h0m1 0h0m10 0h0m54 0h0m29 0h0m8 0h0m10 0h0m80 0h0m10 0h0m-959 1h0m1 0h0m1 0h0m4 0h0m44 0h0m4 0h0m1 0h0m5 0h0m3 0h0m20 0h0m5 0h0m25 0h0m2 0h0m49 0h0m80 0h0m7 0h0m4 0h0m35 0h0m37 0h0m27 0h0m65 0h0m19 0h0m1 0h0m12 0h0m3 0h0m17 0h0m24 0h0m12 0h0m26 0h0m4 0h0m34 0h0m25 0h0m4 0h0m75 0h0m17 0h0m12 0h0m58 0h0m34 0h0m38 0h0m22 0h0m44 0h0m1 0h0m8 0h0m34 0h0m38 0h0m34 0h0m1 0h0m-971 1h0m44 0h0m17 0h0m50 0h0m16 0h0m81 0h0m2 0h0m14 0h0m29 0h0m57 0h0m12 0h0m4 0h0m20 0h0m8 0h0m13 0h0m38 0h0m4 0h0m12 0h0m34 0h0m4 0h0m23 0h0m13 0h0m10 0h0m5 0h0m7 0h0m3 0h0m39 0h0m14 0h0m1 0h0m5 0h0m9 0h0m17 0h0m3 0h0m9 0h0m4 0h0m7 0h0m4 0h0m1 0h0m43 0h0m47 0h0m6 0h0m7 0h0m9 0h0m23 0h0m89 0h0m28 0h0m-875 1h0m27 0h0m3 0h0m17 0h0m36 0h0m19 0h0m51 0h0m24 0h0m9 0h0m13 0h0m22 0h0m3 0h0m10 0h0m11 0h0m16 0h0m32 0h0m12 0h0m16 0h0m28 0h0m9 0h0m88 0h0m3 0h0m21 0h0m41 0h0m22 0h0m5 0h0m21 0h0m22 0h0m38 0h0m57 0h0m1 0h0m6 0h0m3 0h0m67 0h0m18 0h0m16 0h0m1 0h0m28 0h0m6 0h0m22 0h0m2 0h0m3 0h0m36 0h0m23 0h0m16 0h0m37 0h0m-1018 1h0m9 0h0m45 0h0m33 0h0m10 0h0m16 0h0m22 0h0m36 0h0m5 0h0m10 0h0m15 0h0m3 0h0m32 0h0m2 0h0m41 0h0m52 0h0m9 0h0m46 0h0m7 0h0m46 0h0m38 0h0m55 0h0m62 0h0m34 0h0m20 0h0m40 0h0m85 0h0m15 0h0m17 0h0m36 0h0m5 0h0m13 0h0m52 0h0m28 0h0m1 0h0m11 0h0m29 0h0m38 0h0m3 0h0m-1025 1h0m2 0h0m2 0h0m12 0h0m1 0h0m39 0h0m78 0h0m41 0h0m8 0h0m64 0h0m6 0h0m19 0h0m2 0h0m2 0h0m23 0h0m8 0h0m6 0h0m35 0h0m4 0h0m3 0h0m6 0h0m8 0h0m25 0h0m35 0h0m1 0h0m28 0h0m1 0h0m8 0h0m19 0h0m20 0h0m52 0h0m19 0h0m148 0h0m15 0h0m10 0h0m32 0h0m9 0h0m36 0h0m13 0h0m6 0h0m1 0h0m2 0h0m11 0h0m52 0h0m30 0h0m18 0h0m25 0h0m6 0h0m-986 1h0m15 0h0m55 0h0m1 0h0m1 0h0m28 0h0m9 0h0m52 0h0m9 0h0m12 0h0m29 0h0m4 0h0m2 0h0m3 0h0m17 0h0m9 0h0m18 0h0m13 0h0m4 0h0m7 0h0m6 0h0m23 0h0m19 0h0m26 0h0m7 0h0m15 0h0m57 0h0m51 0h0m47 0h0m10 0h0m29 0h0m5 0h0m4 0h0m46 0h0m4 0h0m20 0h0m9 0h0m33 0h0m68 0h0m21 0h0m8 0h0m2 0h0m20 0h0m90 0h0m1 0h0m40 0h0m2 0h0m-941 1h0m5 0h0m42 0h0m7 0h0m6 0h0m28 0h0m21 0h0m5 0h0m12 0h0m32 0h0m3 0h0m52 0h0m16 0h0m20 0h0m23 0h0m68 0h0m15 0h0m30 0h0m2 0h0m12 0h0m17 0h0m8 0h0m33 0h0m67 0h0m19 0h0m40 0h0m7 0h0m56 0h0m24 0h0m10 0h0m9 0h0m36 0h0m4 0h0m10 0h0m43 0h0m2 0h0m18 0h0m7 0h0m11 0h0m40 0h0m31 0h0m35 0h0m18 0h0m1 0h0m-896 1h0m3 0h0m4 0h0m6 0h0m30 0h0m8 0h0m9 0h0m8 0h0m4 0h0m13 0h0m35 0h0m6 0h0m15 0h0m7 0h0m4 0h0m3 0h0m21 0h0m15 0h0m11 0h0m10 0h0m1 0h0m2 0h0m43 0h0m28 0h0m2 0h0m30 0h0m59 0h0m1 0h0m13 0h0m1 0h0m38 0h0m7 0h0m22 0h0m23 0h0m2 0h0m8 0h0m1 0h0m15 0h0m25 0h0m8 0h0m12 0h0m23 0h0m25 0h0m28 0h0m15 0h0m3 0h0m4 0h0m74 0h0m21 0h0m21 0h0m67 0h0m47 0h0m6 0h0m7 0h0m3 0h0m25 0h0m8 0h0m-919 1h0m30 0h0m19 0h0m26 0h0m6 0h0m6 0h0m47 0h0m36 0h0m18 0h0m14 0h0m8 0h0m23 0h0m24 0h0m16 0h0m4 0h0m25 0h0m19 0h0m22 0h0m23 0h0m1 0h0m8 0h0m57 0h0m1 0h0m5 0h0m9 0h0m3 0h0m28 0h0m7 0h0m3 0h0m2 0h0m22 0h0m9 0h0m11 0h0m34 0h0m5 0h0m14 0h0m73 0h0m12 0h0m20 0h0m54 0h0m34 0h0m23 0h0m29 0h0m72 0h0m11 0h0m2 0h0m-927 1h0m13 0h0m1 0h0m10 0h0m10 0h0m3 0h0m6 0h0m20 0h0m16 0h0m2 0h0m19 0h0m6 0h0m12 0h0m1 0h0m18 0h0m9 0h0m4 0h0m3 0h0m29 0h0m2 0h0m19 0h0m12 0h0m14 0h0m9 0h0m51 0h0m19 0h0m10 0h0m1 0h0m12 0h0m44 0h0m116 0h0m19 0h0m1 0h0m3 0h0m13 0h0m13 0h0m32 0h0m52 0h0m9 0h0m25 0h0m75 0h0m20 0h0m74 0h0m11 0h0m77 0h0m4 0h0m-901 1h0m49 0h0m30 0h0m25 0h0m10 0h0m45 0h0m9 0h0m19 0h0m26 0h0m11 0h0m30 0h0m11 0h0m21 0h0m3 0h0m14 0h0m33 0h0m5 0h0m8 0h0m9 0h0m2 0h0m2 0h0m10 0h0m4 0h0m17 0h0m18 0h0m3 0h0m54 0h0m56 0h0m14 0h0m9 0h0m5 0h0m36 0h0m30 0h0m19 0h0m46 0h0m10 0h0m15 0h0m21 0h0m30 0h0m7 0h0m6 0h0m7 0h0m6 0h0m8 0h0m2 0h0m22 0h0m24 0h0m14 0h0m3 0h0m20 0h0m1 0h0m18 0h0m34 0h0m-938 1h0m6 0h0m20 0h0m1 0h0m5 0h0m6 0h0m12 0h0m21 0h0m5 0h0m9 0h0m23 0h0m2 0h0m58 0h0m11 0h0m20 0h0m7 0h0m9 0h0m6 0h0m13 0h0m16 0h0m9 0h0m27 0h0m11 0h0m9 0h0m4 0h0m23 0h0m3 0h0m13 0h0m21 0h0m30 0h0m2 0h0m4 0h0m50 0h0m1 0h0m26 0h0m10 0h0m22 0h0m11 0h0m97 0h0m10 0h0m1 0h0m42 0h0m93 0h0m33 0h0m12 0h0m32 0h0m62 0h0m5 0h0m-892 1h0m2 0h0m28 0h0m18 0h0m14 0h0m14 0h0m3 0h0m7 0h0m8 0h0m2 0h0m1 0h0m9 0h0m12 0h0m55 0h0m6 0h0m4 0h0m22 0h0m14 0h0m1 0h0m14 0h0m22 0h0m82 0h0m7 0h0m2 0h0m29 0h0m28 0h0m11 0h0m18 0h0m21 0h0m8 0h0m7 0h0m26 0h0m10 0h0m19 0h0m6 0h0m41 0h0m63 0h0m25 0h0m2 0h0m7 0h0m16 0h0m11 0h0m19 0h0m40 0h0m7 0h0m21 0h0m92 0h0m40 0h0m2 0h0m-932 1h0m29 0h0m1 0h0m21 0h0m28 0h0m16 0h0m21 0h0m10 0h0m16 0h0m6 0h0m18 0h0m126 0h0m29 0h0m18 0h0m15 0h0m28 0h0m14 0h0m75 0h0m30 0h0m12 0h0m20 0h0m1 0h0m18 0h0m10 0h0m21 0h0m13 0h0m18 0h0m1 0h0m47 0h0m1 0h0m4 0h0m2 0h0m7 0h0m5 0h0m9 0h0m36 0h0m28 0h0m18 0h0m22 0h0m2 0h0m11 0h0m5 0h0m79 0h0m17 0h0m-913 1h0m39 0h0m17 0h0m46 0h0m1 0h0m3 0h0m1 0h0m70 0h0m2 0h0m28 0h0m17 0h0m6 0h0m7 0h0m67 0h0m10 0h0m15 0h0m54 0h0m23 0h0m1 0h0m6 0h0m7 0h0m13 0h0m10 0h0m4 0h0m1 0h0m53 0h0m4 0h0m12 0h0m65 0h0m13 0h0m58 0h0m89 0h0m39 0h0m9 0h0m38 0h0m81 0h0m39 0h0m-949 1h0m5 0h0m1 0h0m52 0h0m15 0h0m15 0h0m3 0h0m10 0h0m34 0h0m18 0h0m2 0h0m9 0h0m15 0h0m25 0h0m69 0h0m4 0h0m47 0h0m15 0h0m33 0h0m39 0h0m22 0h0m46 0h0m2 0h0m12 0h0m30 0h0m11 0h0m12 0h0m6 0h0m20 0h0m29 0h0m70 0h0m15 0h0m44 0h0m43 0h0m8 0h0m30 0h0m8 0h0m19 0h0m95 0h0m-943 1h0m6 0h0m6 0h0m4 0h0m2 0h0m35 0h0m13 0h0m16 0h0m62 0h0m8 0h0m55 0h0m1 0h0m45 0h0m1 0h0m16 0h0m11 0h0m4 0h0m70 0h0m2 0h0m40 0h0m46 0h0m2 0h0m16 0h0m11 0h0m5 0h0m8 0h0m2 0h0m21 0h0m1 0h0m2 0h0m51 0h0m12 0h0m24 0h0m32 0h0m3 0h0m18 0h0m1 0h0m1 0h0m52 0h0m14 0h0m16 0h0m5 0h0m18 0h0m28 0h0m11 0h0m15 0h0m21 0h0m1 0h0m41 0h0m3 0h0m28 0h0m69 0h0m-974 1h0m4 0h0m45 0h0m23 0h0m27 0h0m11 0h0m10 0h0m18 0h0m3 0h0m6 0h0m18 0h0m3 0h0m26 0h0m9 0h0m9 0h0m26 0h0m19 0h0m3 0h0m31 0h0m23 0h0m29 0h0m3 0h0m28 0h0m15 0h0m1 0h0m9 0h0m21 0h0m23 0h0m49 0h0m55 0h0m30 0h0m17 0h0m10 0h0m1 0h0m20 0h0m43 0h0m15 0h0m17 0h0m41 0h0m1 0h0m77 0h0m3 0h0m135 0h0m12 0h0m-974 1h0m20 0h0m18 0h0m30 0h0m18 0h0m18 0h0m13 0h0m10 0h0m1 0h0m12 0h0m11 0h0m12 0h0m27 0h0m47 0h0m10 0h0m25 0h0m10 0h0m8 0h0m8 0h0m10 0h0m24 0h0m13 0h0m26 0h0m6 0h0m22 0h0m25 0h0m13 0h0m13 0h0m33 0h0m13 0h0m10 0h0m12 0h0m43 0h0m48 0h0m9 0h0m63 0h0m13 0h0m39 0h0m65 0h0m32 0h0m54 0h0m-891 1h0m2 0h0m37 0h0m11 0h0m29 0h0m9 0h0m42 0h0m70 0h0m22 0h0m43 0h0m2 0h0m28 0h0m13 0h0m34 0h0m22 0h0m13 0h0m15 0h0m44 0h0m20 0h0m2 0h0m24 0h0m6 0h0m23 0h0m13 0h0m1 0h0m9 0h0m2 0h0m16 0h0m4 0h0m2 0h0m14 0h0m16 0h0m19 0h0m36 0h0m17 0h0m15 0h0m20 0h0m5 0h0m17 0h0m13 0h0m25 0h0m59 0h0m9 0h0m17 0h0m27 0h0m21 0h0m43 0h0m24 0h0m24 0h0m-996 1h0m47 0h0m11 0h0m50 0h0m3 0h0m9 0h0m11 0h0m2 0h0m5 0h0m9 0h0m67 0h0m1 0h0m4 0h0m28 0h0m17 0h0m6 0h0m7 0h0m7 0h0m29 0h0m26 0h0m21 0h0m13 0h0m4 0h0m67 0h0m17 0h0m7 0h0m7 0h0m13 0h0m73 0h0m15 0h0m4 0h0m4 0h0m100 0h0m41 0h0m9 0h0m22 0h0m25 0h0m16 0h0m27 0h0m1 0h0m8 0h0m20 0h0m11 0h0m1 0h0m7 0h0m65 0h0m-915 1h0m32 0h0m56 0h0m21 0h0m4 0h0m16 0h0m13 0h0m18 0h0m2 0h0m19 0h0m5 0h0m51 0h0m19 0h0m13 0h0m45 0h0m17 0h0m9 0h0m8 0h0m3 0h0m42 0h0m32 0h0m18 0h0m17 0h0m14 0h0m1 0h0m8 0h0m2 0h0m31 0h0m6 0h0m35 0h0m2 0h0m55 0h0m11 0h0m16 0h0m3 0h0m9 0h0m85 0h0m7 0h0m65 0h0m17 0h0m13 0h0m4 0h0m4 0h0m9 0h0m21 0h0m69 0h0m2 0h0m-961 1h0m49 0h0m1 0h0m4 0h0m22 0h0m23 0h0m22 0h0m6 0h0m34 0h0m4 0h0m4 0h0m32 0h0m9 0h0m7 0h0m41 0h0m20 0h0m1 0h0m5 0h0m3 0h0m19 0h0m8 0h0m48 0h0m8 0h0m6 0h0m4 0h0m35 0h0m1 0h0m9 0h0m5 0h0m2 0h0m1 0h0m23 0h0m6 0h0m63 0h0m44 0h0m8 0h0m133 0h0m6 0h0m17 0h0m34 0h0m8 0h0m5 0h0m36 0h0m1 0h0m10 0h0m2 0h0m19 0h0m17 0h0m4 0h0m2 0h0m1 0h0m61 0h0m30 0h0m-957 1h0m38 0h0m4 0h0m12 0h0m14 0h0m3 0h0m12 0h0m7 0h0m1 0h0m58 0h0m4 0h0m48 0h0m7 0h0m20 0h0m9 0h0m9 0h0m6 0h0m38 0h0m15 0h0m9 0h0m48 0h0m38 0h0m6 0h0m22 0h0m7 0h0m7 0h0m31 0h0m75 0h0m9 0h0m4 0h0m8 0h0m25 0h0m2 0h0m55 0h0m16 0h0m148 0h0m12 0h0m35 0h0m1 0h0m38 0h0m18 0h0m1 0h0m-917 1h0m36 0h0m16 0h0m2 0h0m9 0h0m7 0h0m1 0h0m35 0h0m4 0h0m4 0h0m24 0h0m8 0h0m13 0h0m14 0h0m9 0h0m6 0h0m3 0h0m63 0h0m1 0h0m7 0h0m20 0h0m53 0h0m5 0h0m4 0h0m6 0h0m19 0h0m15 0h0m14 0h0m48 0h0m7 0h0m8 0h0m79 0h0m23 0h0m47 0h0m91 0h0m7 0h0m9 0h0m13 0h0m17 0h0m36 0h0m52 0h0m21 0h0m6 0h0m73 0h0m51 0h0m-995 1h0m52 0h0m2 0h0m33 0h0m15 0h0m10 0h0m128 0h0m11 0h0m3 0h0m22 0h0m11 0h0m18 0h0m12 0h0m2 0h0m37 0h0m9 0h0m1 0h0m18 0h0m16 0h0m13 0h0m11 0h0m11 0h0m79 0h0m53 0h0m78 0h0m34 0h0m7 0h0m10 0h0m16 0h0m57 0h0m6 0h0m3 0h0m8 0h0m13 0h0m12 0h0m3 0h0m2 0h0m6 0h0m7 0h0m9 0h0m1 0h0m8 0h0m12 0h0m34 0h0m25 0h0m12 0h0m-846 1h0m32 0h0m8 0h0m4 0h0m3 0h0m10 0h0m58 0h0m31 0h0m3 0h0m24 0h0m14 0h0m1 0h0m2 0h0m29 0h0m26 0h0m48 0h0m21 0h0m58 0h0m5 0h0m19 0h0m5 0h0m57 0h0m13 0h0m6 0h0m71 0h0m60 0h0m33 0h0m1 0h0m12 0h0m5 0h0m18 0h0m20 0h0m12 0h0m27 0h0m6 0h0m13 0h0m6 0h0m62 0h0m14 0h0m56 0h0m7 0h0m14 0h0m-1012 1h0m9 0h0m60 0h0m41 0h0m10 0h0m8 0h0m2 0h0m9 0h0m12 0h0m33 0h0m11 0h0m15 0h0m32 0h0m19 0h0m15 0h0m16 0h0m75 0h0m8 0h0m13 0h0m16 0h0m9 0h0m8 0h0m12 0h0m67 0h0m58 0h0m2 0h0m4 0h0m5 0h0m21 0h0m22 0h0m18 0h0m22 0h0m39 0h0m14 0h0m17 0h0m74 0h0m4 0h0m44 0h0m16 0h0m53 0h0m8 0h0m2 0h0m65 0h0m-921 1h0m2 0h0m21 0h0m17 0h0m45 0h0m20 0h0m7 0h0m21 0h0m11 0h0m16 0h0m16 0h0m3 0h0m18 0h0m32 0h0m5 0h0m7 0h0m3 0h0m4 0h0m77 0h0m50 0h0m29 0h0m12 0h0m93 0h0m28 0h0m30 0h0m4 0h0m21 0h0m65 0h0m13 0h0m73 0h0m17 0h0m28 0h0m1 0h0m59 0h0m24 0h0m14 0h0m5 0h0m31 0h0m24 0h0m-1010 1h0m6 0h0m5 0h0m52 0h0m4 0h0m8 0h0m26 0h0m15 0h0m15 0h0m4 0h0m2 0h0m16 0h0m6 0h0m37 0h0m56 0h0m55 0h0m1 0h0m12 0h0m29 0h0m3 0h0m13 0h0m65 0h0m47 0h0m17 0h0m30 0h0m3 0h0m27 0h0m15 0h0m12 0h0m36 0h0m30 0h0m33 0h0m4 0h0m22 0h0m7 0h0m28 0h0m17 0h0m41 0h0m21 0h0m13 0h0m4 0h0m8 0h0m35 0h0m34 0h0m36 0h0m55 0h0m-937 1h0m5 0h0m3 0h0m25 0h0m15 0h0m38 0h0m9 0h0m18 0h0m19 0h0m28 0h0m43 0h0m5 0h0m14 0h0m13 0h0m22 0h0m63 0h0m10 0h0m19 0h0m98 0h0m5 0h0m4 0h0m6 0h0m7 0h0m32 0h0m17 0h0m43 0h0m63 0h0m3 0h0m25 0h0m4 0h0m30 0h0m3 0h0m33 0h0m18 0h0m13 0h0m64 0h0m2 0h0m30 0h0m2 0h0m1 0h0m10 0h0m8 0h0m69 0h0m-1058 1h0m49 0h0m18 0h0m2 0h0m77 0h0m14 0h0m12 0h0m45 0h0m31 0h0m5 0h0m7 0h0m12 0h0m1 0h0m42 0h0m31 0h0m5 0h0m10 0h0m47 0h0m9 0h0m18 0h0m1 0h0m49 0h0m2 0h0m25 0h0m3 0h0m80 0h0m19 0h0m31 0h0m30 0h0m18 0h0m13 0h0m1 0h0m3 0h0m24 0h0m7 0h0m11 0h0m39 0h0m33 0h0m36 0h0m2 0h0m6 0h0m12 0h0m27 0h0m3 0h0m30 0h0m1 0h0m30 0h0m15 0h0m47 0h0m-1013 1h0m25 0h0m8 0h0m2 0h0m55 0h0m55 0h0m24 0h0m29 0h0m10 0h0m11 0h0m4 0h0m3 0h0m9 0h0m36 0h0m14 0h0m3 0h0m37 0h0m4 0h0m33 0h0m4 0h0m25 0h0m8 0h0m9 0h0m46 0h0m66 0h0m8 0h0m11 0h0m35 0h0m23 0h0m76 0h0m25 0h0m2 0h0m4 0h0m5 0h0m5 0h0m62 0h0m60 0h0m3 0h0m7 0h0m24 0h0m7 0h0m37 0h0m33 0h0m15 0h0m14 0h0m37 0h0m4 0h0m-994 1h0m17 0h0m1 0h0m5 0h0m10 0h0m3 0h0m33 0h0m4 0h0m19 0h0m25 0h0m7 0h0m8 0h0m34 0h0m10 0h0m19 0h0m2 0h0m1 0h0m17 0h0m21 0h0m4 0h0m22 0h0m34 0h0m36 0h0m21 0h0m33 0h0m47 0h0m2 0h0m4 0h0m26 0h0m20 0h0m10 0h0m18 0h0m14 0h0m7 0h0m46 0h0m17 0h0m7 0h0m37 0h0m32 0h0m30 0h0m1 0h0m27 0h0m6 0h0m10 0h0m16 0h0m128 0h0m4 0h0m2 0h0m40 0h0m58 0h0m26 0h0m-1069 1h0m65 0h0m5 0h0m34 0h0m19 0h0m4 0h0m38 0h0m61 0h0m4 0h0m8 0h0m36 0h0m32 0h0m7 0h0m34 0h0m33 0h0m18 0h0m21 0h0m1 0h0m54 0h0m6 0h0m18 0h0m5 0h0m3 0h0m33 0h0m17 0h0m8 0h0m11 0h0m6 0h0m22 0h0m17 0h0m22 0h0m3 0h0m36 0h0m24 0h0m11 0h0m5 0h0m6 0h0m25 0h0m8 0h0m47 0h0m2 0h0m3 0h0m29 0h0m22 0h0m6 0h0m3 0h0m16 0h0m1 0h0m3 0h0m28 0h0m28 0h0m21 0h0m-922 1h0m5 0h0m14 0h0m2 0h0m10 0h0m5 0h0m172 0h0m48 0h0m4 0h0m2 0h0m19 0h0m41 0h0m32 0h0m35 0h0m43 0h0m56 0h0m31 0h0m4 0h0m94 0h0m25 0h0m18 0h0m61 0h0m42 0h0m24 0h0m35 0h0m7 0h0m41 0h0m14 0h0m36 0h0m104 0h0m-1071 1h0m1 0h0m45 0h0m24 0h0m3 0h0m35 0h0m5 0h0m7 0h0m21 0h0m50 0h0m29 0h0m44 0h0m6 0h0m33 0h0m29 0h0m24 0h0m6 0h0m23 0h0m32 0h0m3 0h0m9 0h0m12 0h0m13 0h0m10 0h0m4 0h0m9 0h0m14 0h0m48 0h0m30 0h0m24 0h0m27 0h0m40 0h0m3 0h0m61 0h0m15 0h0m1 0h0m1 0h0m36 0h0m21 0h0m29 0h0m26 0h0m1 0h0m9 0h0m3 0h0m6 0h0m3 0h0m20 0h0m11 0h0m53 0h0m-874 1h0m6 0h0m17 0h0m1 0h0m25 0h0m7 0h0m37 0h0m3 0h0m4 0h0m31 0h0m11 0h0m7 0h0m36 0h0m6 0h0m13 0h0m42 0h0m5 0h0m4 0h0m17 0h0m17 0h0m29 0h0m10 0h0m3 0h0m14 0h0m26 0h0m3 0h0m40 0h0m8 0h0m14 0h0m6 0h0m21 0h0m16 0h0m36 0h0m12 0h0m5 0h0m45 0h0m19 0h0m47 0h0m44 0h0m9 0h0m47 0h0m48 0h0m45 0h0m15 0h0m38 0h0m23 0h0m6 0h0m1 0h0m38 0h0m-992 1h0m12 0h0m41 0h0m6 0h0m1 0h0m2 0h0m72 0h0m48 0h0m18 0h0m28 0h0m50 0h0m24 0h0m9 0h0m30 0h0m11 0h0m2 0h0m12 0h0m20 0h0m36 0h0m5 0h0m7 0h0m19 0h0m8 0h0m13 0h0m4 0h0m14 0h0m33 0h0m23 0h0m68 0h0m4 0h0m3 0h0m20 0h0m23 0h0m62 0h0m15 0h0m34 0h0m1 0h0m3 0h0m13 0h0m16 0h0m73 0h0m9 0h0m101 0h0m-939 1h0m28 0h0m2 0h0m47 0h0m10 0h0m3 0h0m12 0h0m12 0h0m13 0h0m8 0h0m29 0h0m22 0h0m1 0h0m6 0h0m3 0h0m17 0h0m20 0h0m3 0h0m9 0h0m3 0h0m6 0h0m32 0h0m12 0h0m4 0h0m3 0h0m16 0h0m1 0h0m17 0h0m15 0h0m35 0h0m12 0h0m3 0h0m14 0h0m10 0h0m8 0h0m10 0h0m41 0h0m59 0h0m4 0h0m41 0h0m9 0h0m72 0h0m14 0h0m7 0h0m35 0h0m10 0h0m17 0h0m53 0h0m24 0h0m5 0h0m17 0h0m4 0h0m-957 1h0m99 0h0m3 0h0m4 0h0m5 0h0m9 0h0m3 0h0m67 0h0m4 0h0m48 0h0m24 0h0m2 0h0m76 0h0m6 0h0m24 0h0m54 0h0m15 0h0m16 0h0m11 0h0m85 0h0m21 0h0m44 0h0m42 0h0m1 0h0m42 0h0m79 0h0m8 0h0m18 0h0m24 0h0m32 0h0m31 0h0m9 0h0m54 0h0m31 0h0m1 0h0m37 0h0m10 0h0m-990 1h0m2 0h0m75 0h0m15 0h0m13 0h0m40 0h0m2 0h0m30 0h0m6 0h0m4 0h0m67 0h0m34 0h0m24 0h0m19 0h0m13 0h0m2 0h0m7 0h0m54 0h0m35 0h0m3 0h0m80 0h0m24 0h0m14 0h0m23 0h0m5 0h0m8 0h0m12 0h0m1 0h0m74 0h0m15 0h0m13 0h0m33 0h0m5 0h0m25 0h0m14 0h0m3 0h0m5 0h0m2 0h0m4 0h0m30 0h0m4 0h0m14 0h0m1 0h0m15 0h0m12 0h0m45 0h0m-925 1h0m45 0h0m15 0h0m6 0h0m43 0h0m10 0h0m17 0h0m10 0h0m70 0h0m11 0h0m15 0h0m31 0h0m3 0h0m71 0h0m64 0h0m5 0h0m12 0h0m13 0h0m31 0h0m31 0h0m13 0h0m17 0h0m46 0h0m3 0h0m48 0h0m3 0h0m6 0h0m125 0h0m37 0h0m46 0h0m20 0h0m11 0h0m91 0h0m19 0h0m3 0h0m-998 1h0m5 0h0m2 0h0m54 0h0m10 0h0m75 0h0m1 0h0m22 0h0m33 0h0m16 0h0m48 0h0m46 0h0m9 0h0m25 0h0m13 0h0m19 0h0m4 0h0m26 0h0m23 0h0m2 0h0m54 0h0m17 0h0m25 0h0m24 0h0m27 0h0m21 0h0m11 0h0m39 0h0m24 0h0m9 0h0m9 0h0m20 0h0m13 0h0m20 0h0m32 0h0m10 0h0m26 0h0m27 0h0m20 0h0m11 0h0m103 0h0m8 0h0m7 0h0m-988 1h0m25 0h0m41 0h0m22 0h0m48 0h0m9 0h0m12 0h0m90 0h0m1 0h0m4 0h0m14 0h0m38 0h0m2 0h0m4 0h0m12 0h0m13 0h0m17 0h0m4 0h0m7 0h0m8 0h0m25 0h0m23 0h0m31 0h0m33 0h0m45 0h0m17 0h0m8 0h0m7 0h0m7 0h0m17 0h0m7 0h0m23 0h0m10 0h0m17 0h0m14 0h0m16 0h0m9 0h0m56 0h0m6 0h0m5 0h0m5 0h0m4 0h0m11 0h0m5 0h0m9 0h0m68 0h0m67 0h0m29 0h0m29 0h0m44 0h0m8 0h0m-999 1h0m6 0h0m17 0h0m7 0h0m6 0h0m49 0h0m42 0h0m1 0h0m5 0h0m7 0h0m22 0h0m3 0h0m4 0h0m11 0h0m7 0h0m37 0h0m4 0h0m15 0h0m38 0h0m6 0h0m1 0h0m2 0h0m1 0h0m56 0h0m10 0h0m14 0h0m8 0h0m6 0h0m9 0h0m30 0h0m15 0h0m21 0h0m7 0h0m1 0h0m29 0h0m9 0h0m32 0h0m19 0h0m8 0h0m13 0h0m33 0h0m19 0h0m29 0h0m57 0h0m14 0h0m12 0h0m1 0h0m9 0h0m39 0h0m28 0h0m10 0h0m19 0h0m46 0h0m57 0h0m39 0h0m-993 1h0m64 0h0m50 0h0m9 0h0m62 0h0m56 0h0m2 0h0m14 0h0m37 0h0m2 0h0m25 0h0m16 0h0m24 0h0m2 0h0m42 0h0m26 0h0m7 0h0m45 0h0m4 0h0m17 0h0m16 0h0m14 0h0m14 0h0m13 0h0m10 0h0m9 0h0m21 0h0m2 0h0m4 0h0m3 0h0m18 0h0m6 0h0m2 0h0m3 0h0m3 0h0m4 0h0m37 0h0m9 0h0m3 0h0m5 0h0m9 0h0m2 0h0m67 0h0m3 0h0m23 0h0m39 0h0m29 0h0m15 0h0m18 0h0m19 0h0m23 0h0m9 0h0m-939 1h0m3 0h0m8 0h0m30 0h0m59 0h0m9 0h0m5 0h0m29 0h0m38 0h0m28 0h0m5 0h0m14 0h0m16 0h0m7 0h0m1 0h0m42 0h0m19 0h0m11 0h0m37 0h0m1 0h0m13 0h0m13 0h0m3 0h0m70 0h0m19 0h0m4 0h0m111 0h0m4 0h0m12 0h0m19 0h0m43 0h0m18 0h0m7 0h0m9 0h0m9 0h0m27 0h0m19 0h0m12 0h0m75 0h0m19 0h0m4 0h0m4 0h0m15 0h0m13 0h0m6 0h0m44 0h0m21 0h0m4 0h0m-1006 1h0m8 0h0m42 0h0m8 0h0m6 0h0m2 0h0m28 0h0m5 0h0m8 0h0m30 0h0m19 0h0m33 0h0m48 0h0m4 0h0m39 0h0m16 0h0m3 0h0m5 0h0m7 0h0m12 0h0m10 0h0m23 0h0m59 0h0m7 0h0m5 0h0m6 0h0m11 0h0m14 0h0m4 0h0m19 0h0m55 0h0m15 0h0m3 0h0m39 0h0m5 0h0m14 0h0m44 0h0m42 0h0m51 0h0m18 0h0m3 0h0m21 0h0m6 0h0m51 0h0m58 0h0m4 0h0m19 0h0m40 0h0m2 0h0m4 0h0m-1019 1h0m83 0h0m21 0h0m70 0h0m4 0h0m33 0h0m3 0h0m47 0h0m3 0h0m2 0h0m11 0h0m18 0h0m6 0h0m27 0h0m25 0h0m46 0h0m36 0h0m5 0h0m21 0h0m80 0h0m4 0h0m13 0h0m10 0h0m88 0h0m64 0h0m35 0h0m12 0h0m22 0h0m4 0h0m23 0h0m52 0h0m9 0h0m5 0h0m39 0h0m27 0h0m2 0h0m56 0h0m6 0h0m4 0h0m34 0h0m-943 1h0m26 0h0m16 0h0m116 0h0m32 0h0m1 0h0m3 0h0m10 0h0m44 0h0m5 0h0m6 0h0m14 0h0m7 0h0m10 0h0m21 0h0m23 0h0m9 0h0m5 0h0m38 0h0m17 0h0m1 0h0m24 0h0m2 0h0m6 0h0m11 0h0m7 0h0m21 0h0m4 0h0m13 0h0m24 0h0m4 0h0m99 0h0m30 0h0m35 0h0m11 0h0m5 0h0m48 0h0m16 0h0m23 0h0m9 0h0m16 0h0m18 0h0m12 0h0m57 0h0m35 0h0m5 0h0m-1040 1h0m33 0h0m61 0h0m20 0h0m27 0h0m45 0h0m60 0h0m9 0h0m19 0h0m50 0h0m10 0h0m43 0h0m45 0h0m32 0h0m15 0h0m2 0h0m23 0h0m47 0h0m74 0h0m3 0h0m25 0h0m49 0h0m53 0h0m9 0h0m19 0h0m1 0h0m2 0h0m71 0h0m15 0h0m22 0h0m13 0h0m4 0h0m4 0h0m13 0h0m17 0h0m40 0h0m15 0h0m2 0h0m10 0h0m34 0h0m5 0h0m4 0h0m2 0h0m-998 1h0m28 0h0m3 0h0m23 0h0m15 0h0m34 0h0m26 0h0m111 0h0m4 0h0m59 0h0m18 0h0m8 0h0m9 0h0m29 0h0m22 0h0m26 0h0m1 0h0m1 0h0m4 0h0m14 0h0m4 0h0m25 0h0m9 0h0m16 0h0m18 0h0m11 0h0m6 0h0m10 0h0m82 0h0m22 0h0m11 0h0m6 0h0m3 0h0m8 0h0m2 0h0m32 0h0m6 0h0m40 0h0m21 0h0m6 0h0m16 0h0m37 0h0m15 0h0m45 0h0m7 0h0m34 0h0m5 0h0m-903 1h0m35 0h0m14 0h0m21 0h0m1 0h0m22 0h0m15 0h0m2 0h0m15 0h0m18 0h0m24 0h0m24 0h0m6 0h0m13 0h0m27 0h0m7 0h0m41 0h0m39 0h0m39 0h0m5 0h0m14 0h0m4 0h0m13 0h0m26 0h0m2 0h0m11 0h0m8 0h0m7 0h0m16 0h0m11 0h0m46 0h0m3 0h0m39 0h0m47 0h0m6 0h0m59 0h0m55 0h0m2 0h0m26 0h0m74 0h0m42 0h0m21 0h0m11 0h0m24 0h0m37 0h0m-1015 1h0m4 0h0m19 0h0m37 0h0m15 0h0m7 0h0m31 0h0m10 0h0m23 0h0m45 0h0m36 0h0m15 0h0m4 0h0m1 0h0m10 0h0m1 0h0m24 0h0m38 0h0m6 0h0m34 0h0m5 0h0m13 0h0m20 0h0m30 0h0m23 0h0m10 0h0m2 0h0m79 0h0m16 0h0m16 0h0m27 0h0m22 0h0m4 0h0m24 0h0m19 0h0m33 0h0m30 0h0m9 0h0m14 0h0m30 0h0m76 0h0m1 0h0m14 0h0m33 0h0m10 0h0m2 0h0m14 0h0m6 0h0m17 0h0m15 0h0m-1030 1h0m14 0h0m21 0h0m25 0h0m33 0h0m59 0h0m9 0h0m58 0h0m4 0h0m5 0h0m15 0h0m12 0h0m40 0h0m17 0h0m44 0h0m10 0h0m20 0h0m23 0h0m8 0h0m11 0h0m13 0h0m9 0h0m19 0h0m18 0h0m20 0h0m3 0h0m6 0h0m5 0h0m4 0h0m37 0h0m33 0h0m18 0h0m31 0h0m25 0h0m11 0h0m3 0h0m8 0h0m25 0h0m19 0h0m22 0h0m14 0h0m1 0h0m3 0h0m36 0h0m12 0h0m11 0h0m21 0h0m30 0h0m35 0h0m3 0h0m22 0h0m53 0h0m27 0h0m10 0h0m13 0h0m-1034 1h0m40 0h0m59 0h0m3 0h0m68 0h0m4 0h0m18 0h0m25 0h0m27 0h0m17 0h0m15 0h0m14 0h0m11 0h0m14 0h0m15 0h0m13 0h0m32 0h0m18 0h0m18 0h0m1 0h0m3 0h0m12 0h0m34 0h0m23 0h0m7 0h0m2 0h0m8 0h0m3 0h0m26 0h0m58 0h0m20 0h0m10 0h0m34 0h0m12 0h0m8 0h0m37 0h0m11 0h0m42 0h0m46 0h0m38 0h0m1 0h0m13 0h0m100 0h0m1 0h0m9 0h0m82 0h0m2 0h0m-1053 1h0m63 0h0m4 0h0m21 0h0m17 0h0m12 0h0m10 0h0m33 0h0m14 0h0m10 0h0m14 0h0m10 0h0m1 0h0m13 0h0m30 0h0m35 0h0m29 0h0m2 0h0m9 0h0m29 0h0m17 0h0m9 0h0m22 0h0m6 0h0m24 0h0m11 0h0m21 0h0m3 0h0m33 0h0m22 0h0m21 0h0m7 0h0m29 0h0m60 0h0m42 0h0m1 0h0m34 0h0m28 0h0m6 0h0m8 0h0m8 0h0m12 0h0m13 0h0m10 0h0m40 0h0m10 0h0m27 0h0m52 0h0m17 0h0m111 0h0m-1069 1h0m48 0h0m2 0h0m28 0h0m56 0h0m48 0h0m52 0h0m5 0h0m13 0h0m20 0h0m30 0h0m5 0h0m45 0h0m35 0h0m25 0h0m9 0h0m4 0h0m1 0h0m1 0h0m22 0h0m13 0h0m6 0h0m7 0h0m56 0h0m9 0h0m3 0h0m41 0h0m36 0h0m43 0h0m4 0h0m4 0h0m2 0h0m116 0h0m20 0h0m63 0h0m24 0h0m31 0h0m1 0h0m4 0h0m135 0h0m-1071 1h0m6 0h0m81 0h0m4 0h0m74 0h0m18 0h0m25 0h0m25 0h0m29 0h0m11 0h0m4 0h0m33 0h0m34 0h0m7 0h0m12 0h0m10 0h0m11 0h0m10 0h0m33 0h0m6 0h0m8 0h0m1 0h0m4 0h0m27 0h0m57 0h0m8 0h0m21 0h0m19 0h0m50 0h0m35 0h0m58 0h0m3 0h0m13 0h0m52 0h0m5 0h0m57 0h0m44 0h0m14 0h0m10 0h0m19 0h0m1 0h0m14 0h0m2 0h0m11 0h0m19 0h0m24 0h0m2 0h0m55 0h0m-962 1h0m40 0h0m25 0h0m3 0h0m4 0h0m24 0h0m37 0h0m13 0h0m11 0h0m29 0h0m39 0h0m24 0h0m35 0h0m9 0h0m25 0h0m4 0h0m16 0h0m6 0h0m29 0h0m19 0h0m5 0h0m12 0h0m34 0h0m97 0h0m33 0h0m16 0h0m21 0h0m7 0h0m11 0h0m2 0h0m17 0h0m49 0h0m5 0h0m24 0h0m93 0h0m18 0h0m15 0h0m12 0h0m43 0h0m56 0h0m3 0h0m-1030 1h0m42 0h0m65 0h0m41 0h0m12 0h0m115 0h0m5 0h0m20 0h0m55 0h0m3 0h0m14 0h0m3 0h0m25 0h0m40 0h0m7 0h0m45 0h0m37 0h0m15 0h0m6 0h0m1 0h0m6 0h0m21 0h0m20 0h0m1 0h0m46 0h0m18 0h0m43 0h0m36 0h0m36 0h0m26 0h0m17 0h0m19 0h0m41 0h0m36 0h0m15 0h0m10 0h0m88 0h0m-1072 1h0m63 0h0m20 0h0m1 0h0m5 0h0m39 0h0m9 0h0m8 0h0m9 0h0m9 0h0m6 0h0m23 0h0m6 0h0m25 0h0m13 0h0m12 0h0m10 0h0m2 0h0m21 0h0m16 0h0m26 0h0m7 0h0m47 0h0m6 0h0m8 0h0m1 0h0m22 0h0m15 0h0m30 0h0m9 0h0m41 0h0m25 0h0m19 0h0m30 0h0m9 0h0m56 0h0m17 0h0m8 0h0m30 0h0m2 0h0m4 0h0m38 0h0m16 0h0m11 0h0m16 0h0m12 0h0m10 0h0m6 0h0m12 0h0m41 0h0m3 0h0m13 0h0m14 0h0m18 0h0m2 0h0m5 0h0m30 0h0m-954 1h0m1 0h0m10 0h0m20 0h0m13 0h0m50 0h0m5 0h0m55 0h0m7 0h0m33 0h0m29 0h0m18 0h0m28 0h0m2 0h0m45 0h0m9 0h0m7 0h0m34 0h0m20 0h0m16 0h0m7 0h0m7 0h0m12 0h0m3 0h0m11 0h0m12 0h0m3 0h0m23 0h0m22 0h0m13 0h0m1 0h0m1 0h0m75 0h0m4 0h0m81 0h0m5 0h0m95 0h0m24 0h0m28 0h0m6 0h0m2 0h0m6 0h0m30 0h0m6 0h0m26 0h0m25 0h0m2 0h0m3 0h0m102 0h0m33 0h0m-1013 1h0m3 0h0m35 0h0m12 0h0m20 0h0m13 0h0m4 0h0m14 0h0m22 0h0m3 0h0m5 0h0m61 0h0m1 0h0m12 0h0m29 0h0m94 0h0m13 0h0m8 0h0m13 0h0m10 0h0m4 0h0m22 0h0m4 0h0m40 0h0m10 0h0m2 0h0m51 0h0m14 0h0m30 0h0m8 0h0m41 0h0m34 0h0m35 0h0m6 0h0m25 0h0m16 0h0m2 0h0m6 0h0m17 0h0m12 0h0m35 0h0m60 0h0m51 0h0m2 0h0m55 0h0m20 0h0m33 0h0m6 0h0m-1077 1h0m67 0h0m7 0h0m18 0h0m26 0h0m3 0h0m4 0h0m42 0h0m6 0h0m8 0h0m17 0h0m25 0h0m10 0h0m45 0h0m82 0h0m1 0h0m5 0h0m36 0h0m8 0h0m5 0h0m18 0h0m2 0h0m23 0h0m44 0h0m11 0h0m7 0h0m20 0h0m1 0h0m23 0h0m3 0h0m26 0h0m17 0h0m4 0h0m1 0h0m5 0h0m8 0h0m15 0h0m21 0h0m15 0h0m17 0h0m2 0h0m13 0h0m25 0h0m3 0h0m6 0h0m23 0h0m28 0h0m29 0h0m14 0h0m45 0h0m6 0h0m52 0h0m34 0h0m13 0h0m51 0h0m44 0h0m7 0h0m-1087 1h0m5 0h0m91 0h0m18 0h0m23 0h0m1 0h0m64 0h0m9 0h0m15 0h0m3 0h0m19 0h0m1 0h0m13 0h0m41 0h0m2 0h0m22 0h0m4 0h0m50 0h0m7 0h0m26 0h0m4 0h0m25 0h0m42 0h0m17 0h0m44 0h0m56 0h0m6 0h0m19 0h0m1 0h0m20 0h0m53 0h0m14 0h0m35 0h0m8 0h0m5 0h0m18 0h0m50 0h0m19 0h0m69 0h0m53 0h0m1 0h0m15 0h0m80 0h0m7 0h0m-1071 1h0m11 0h0m25 0h0m49 0h0m1 0h0m3 0h0m8 0h0m27 0h0m25 0h0m55 0h0m25 0h0m8 0h0m16 0h0m6 0h0m4 0h0m10 0h0m29 0h0m1 0h0m38 0h0m2 0h0m10 0h0m25 0h0m2 0h0m21 0h0m15 0h0m3 0h0m17 0h0m49 0h0m15 0h0m20 0h0m12 0h0m35 0h0m4 0h0m19 0h0m12 0h0m54 0h0m3 0h0m28 0h0m6 0h0m95 0h0m3 0h0m37 0h0m19 0h0m2 0h0m67 0h0m68 0h0m3 0h0m79 0h0m-1059 1h0m102 0h0m3 0h0m1 0h0m34 0h0m7 0h0m59 0h0m6 0h0m12 0h0m21 0h0m1 0h0m11 0h0m29 0h0m33 0h0m14 0h0m18 0h0m7 0h0m17 0h0m4 0h0m3 0h0m8 0h0m6 0h0m2 0h0m5 0h0m34 0h0m4 0h0m1 0h0m15 0h0m3 0h0m14 0h0m31 0h0m52 0h0m55 0h0m18 0h0m5 0h0m15 0h0m15 0h0m11 0h0m9 0h0m34 0h0m15 0h0m18 0h0m1 0h0m3 0h0m20 0h0m7 0h0m1 0h0m9 0h0m46 0h0m50 0h0m6 0h0m27 0h0m2 0h0m24 0h0m3 0h0m7 0h0m58 0h0m36 0h0m2 0h0m-1060 1h0m38 0h0m44 0h0m8 0h0m20 0h0m6 0h0m58 0h0m20 0h0m17 0h0m3 0h0m16 0h0m11 0h0m18 0h0m13 0h0m62 0h0m22 0h0m24 0h0m17 0h0m26 0h0m15 0h0m2 0h0m14 0h0m4 0h0m12 0h0m23 0h0m2 0h0m5 0h0m15 0h0m8 0h0m41 0h0m27 0h0m111 0h0m58 0h0m60 0h0m3 0h0m50 0h0m5 0h0m5 0h0m4 0h0m40 0h0m11 0h0m45 0h0m1 0h0m4 0h0m1 0h0m41 0h0m28 0h0m20 0h0m3 0h0m-1006 1h0m16 0h0m20 0h0m9 0h0m36 0h0m17 0h0m7 0h0m14 0h0m13 0h0m5 0h0m7 0h0m4 0h0m13 0h0m2 0h0m25 0h0m14 0h0m3 0h0m57 0h0m15 0h0m42 0h0m4 0h0m11 0h0m1 0h0m2 0h0m31 0h0m13 0h0m3 0h0m32 0h0m15 0h0m3 0h0m24 0h0m66 0h0m27 0h0m7 0h0m37 0h0m31 0h0m32 0h0m5 0h0m24 0h0m4 0h0m16 0h0m92 0h0m16 0h0m3 0h0m2 0h0m30 0h0m4 0h0m59 0h0m2 0h0m2 0h0m-960 1h0m12 0h0m30 0h0m3 0h0m12 0h0m21 0h0m14 0h0m27 0h0m24 0h0m27 0h0m12 0h0m48 0h0m36 0h0m4 0h0m47 0h0m35 0h0m1 0h0m1 0h0m15 0h0m1 0h0m10 0h0m1 0h0m1 0h0m32 0h0m9 0h0m72 0h0m3 0h0m15 0h0m5 0h0m19 0h0m9 0h0m29 0h0m1 0h0m3 0h0m11 0h0m18 0h0m38 0h0m6 0h0m81 0h0m2 0h0m36 0h0m5 0h0m10 0h0m14 0h0m6 0h0m30 0h0m13 0h0m19 0h0m27 0h0m33 0h0m7 0h0m5 0h0m5 0h0m10 0h0m35 0h0m13 0h0m29 0h0m-1011 1h0m34 0h0m6 0h0m16 0h0m10 0h0m40 0h0m6 0h0m15 0h0m5 0h0m5 0h0m8 0h0m24 0h0m38 0h0m3 0h0m47 0h0m3 0h0m54 0h0m12 0h0m25 0h0m13 0h0m8 0h0m4 0h0m2 0h0m42 0h0m46 0h0m12 0h0m17 0h0m14 0h0m56 0h0m4 0h0m19 0h0m11 0h0m13 0h0m15 0h0m5 0h0m1 0h0m45 0h0m3 0h0m31 0h0m78 0h0m5 0h0m10 0h0m1 0h0m18 0h0m12 0h0m6 0h0m5 0h0m24 0h0m1 0h0m13 0h0m23 0h0m21 0h0m1 0h0m8 0h0m55 0h0m-1046 1h0m10 0h0m32 0h0m69 0h0m3 0h0m11 0h0m15 0h0m3 0h0m13 0h0m18 0h0m10 0h0m8 0h0m8 0h0m10 0h0m10 0h0m19 0h0m53 0h0m6 0h0m5 0h0m96 0h0m40 0h0m1 0h0m43 0h0m20 0h0m12 0h0m19 0h0m23 0h0m75 0h0m14 0h0m59 0h0m2 0h0m7 0h0m77 0h0m19 0h0m38 0h0m6 0h0m56 0h0m15 0h0m33 0h0m2 0h0m12 0h0m6 0h0m9 0h0m1 0h0m-980 1h0m29 0h0m15 0h0m4 0h0m73 0h0m24 0h0m3 0h0m23 0h0m39 0h0m9 0h0m2 0h0m14 0h0m27 0h0m3 0h0m13 0h0m26 0h0m49 0h0m40 0h0m17 0h0m40 0h0m51 0h0m13 0h0m18 0h0m12 0h0m5 0h0m6 0h0m24 0h0m28 0h0m22 0h0m3 0h0m12 0h0m21 0h0m10 0h0m7 0h0m13 0h0m90 0h0m113 0h0m2 0h0m15 0h0m3 0h0m3 0h0m2 0h0m33 0h0m11 0h0m6 0h0m34 0h0m-982 1h0m70 0h0m3 0h0m13 0h0m3 0h0m27 0h0m35 0h0m36 0h0m55 0h0m9 0h0m12 0h0m1 0h0m28 0h0m12 0h0m5 0h0m46 0h0m10 0h0m23 0h0m25 0h0m7 0h0m16 0h0m23 0h0m78 0h0m13 0h0m39 0h0m11 0h0m1 0h0m5 0h0m13 0h0m11 0h0m15 0h0m54 0h0m1 0h0m7 0h0m51 0h0m3 0h0m5 0h0m58 0h0m11 0h0m36 0h0m63 0h0m13 0h0m33 0h0m-984 1h0m41 0h0m14 0h0m40 0h0m48 0h0m20 0h0m11 0h0m58 0h0m8 0h0m20 0h0m18 0h0m16 0h0m68 0h0m5 0h0m68 0h0m31 0h0m8 0h0m2 0h0m3 0h0m22 0h0m14 0h0m10 0h0m48 0h0m5 0h0m26 0h0m31 0h0m24 0h0m37 0h0m14 0h0m28 0h0m9 0h0m6 0h0m17 0h0m48 0h0m7 0h0m47 0h0m16 0h0m71 0h0m26 0h0m-977 1h0m66 0h0m6 0h0m40 0h0m17 0h0m10 0h0m16 0h0m58 0h0m7 0h0m1 0h0m27 0h0m28 0h0m15 0h0m10 0h0m20 0h0m11 0h0m71 0h0m39 0h0m48 0h0m2 0h0m12 0h0m15 0h0m109 0h0m11 0h0m46 0h0m17 0h0m4 0h0m16 0h0m6 0h0m1 0h0m29 0h0m22 0h0m24 0h0m23 0h0m2 0h0m23 0h0m26 0h0m43 0h0m29 0h0m-985 1h0m25 0h0m4 0h0m19 0h0m7 0h0m18 0h0m65 0h0m9 0h0m40 0h0m17 0h0m8 0h0m16 0h0m3 0h0m13 0h0m80 0h0m5 0h0m3 0h0m4 0h0m14 0h0m12 0h0m5 0h0m3 0h0m1 0h0m4 0h0m4 0h0m5 0h0m44 0h0m9 0h0m24 0h0m1 0h0m5 0h0m3 0h0m13 0h0m17 0h0m5 0h0m5 0h0m11 0h0m9 0h0m13 0h0m37 0h0m37 0h0m15 0h0m6 0h0m33 0h0m43 0h0m15 0h0m63 0h0m3 0h0m47 0h0m11 0h0m29 0h0m49 0h0m7 0h0m20 0h0m15 0h0m6 0h0m13 0h0m81 0h0m-1048 1h0m1 0h0m6 0h0m1 0h0m11 0h0m6 0h0m4 0h0m18 0h0m1 0h0m17 0h0m16 0h0m3 0h0m2 0h0m2 0h0m18 0h0m10 0h0m34 0h0m39 0h0m26 0h0m33 0h0m1 0h0m18 0h0m2 0h0m5 0h0m24 0h0m65 0h0m1 0h0m22 0h0m14 0h0m22 0h0m4 0h0m22 0h0m1 0h0m7 0h0m3 0h0m11 0h0m10 0h0m8 0h0m65 0h0m7 0h0m3 0h0m19 0h0m5 0h0m18 0h0m20 0h0m28 0h0m15 0h0m35 0h0m14 0h0m21 0h0m11 0h0m31 0h0m47 0h0m15 0h0m4 0h0m1 0h0m61 0h0m1 0h0m37 0h0m2 0h0m37 0h0m-979 1h0m17 0h0m4 0h0m27 0h0m34 0h0m60 0h0m14 0h0m5 0h0m81 0h0m29 0h0m27 0h0m31 0h0m15 0h0m16 0h0m1 0h0m3 0h0m43 0h0m10 0h0m47 0h0m11 0h0m32 0h0m11 0h0m5 0h0m14 0h0m11 0h0m61 0h0m4 0h0m83 0h0m11 0h0m8 0h0m22 0h0m25 0h0m20 0h0m2 0h0m12 0h0m30 0h0m5 0h0m3 0h0m15 0h0m33 0h0m12 0h0m2 0h0m43 0h0m10 0h0m30 0h0m3 0h0m-1033 1h0m4 0h0m26 0h0m16 0h0m2 0h0m24 0h0m2 0h0m1 0h0m13 0h0m54 0h0m25 0h0m3 0h0m30 0h0m124 0h0m9 0h0m61 0h0m6 0h0m4 0h0m17 0h0m10 0h0m28 0h0m4 0h0m9 0h0m46 0h0m46 0h0m7 0h0m42 0h0m29 0h0m9 0h0m5 0h0m26 0h0m9 0h0m11 0h0m18 0h0m18 0h0m15 0h0m30 0h0m10 0h0m1 0h0m1 0h0m8 0h0m52 0h0m12 0h0m42 0h0m5 0h0m7 0h0m24 0h0m43 0h0m10 0h0m1 0h0m3 0h0m27 0h0m5 0h0m12 0h0m-995 1h0m19 0h0m2 0h0m2 0h0m21 0h0m60 0h0m1 0h0m37 0h0m24 0h0m1 0h0m4 0h0m17 0h0m6 0h0m24 0h0m37 0h0m21 0h0m5 0h0m64 0h0m4 0h0m5 0h0m13 0h0m10 0h0m8 0h0m1 0h0m31 0h0m30 0h0m32 0h0m6 0h0m50 0h0m2 0h0m62 0h0m17 0h0m8 0h0m4 0h0m63 0h0m13 0h0m34 0h0m11 0h0m12 0h0m14 0h0m10 0h0m13 0h0m14 0h0m18 0h0m34 0h0m4 0h0m11 0h0m20 0h0m25 0h0m1 0h0m23 0h0m-997 1h0m31 0h0m13 0h0m46 0h0m11 0h0m1 0h0m39 0h0m4 0h0m35 0h0m32 0h0m31 0h0m20 0h0m12 0h0m14 0h0m7 0h0m15 0h0m10 0h0m8 0h0m6 0h0m4 0h0m6 0h0m13 0h0m2 0h0m14 0h0m3 0h0m20 0h0m21 0h0m10 0h0m8 0h0m10 0h0m8 0h0m36 0h0m14 0h0m25 0h0m32 0h0m6 0h0m27 0h0m11 0h0m38 0h0m11 0h0m12 0h0m47 0h0m107 0h0m20 0h0m22 0h0m7 0h0m36 0h0m37 0h0m12 0h0m89 0h0m-974 1h0m1 0h0m19 0h0m52 0h0m10 0h0m68 0h0m9 0h0m9 0h0m20 0h0m6 0h0m21 0h0m1 0h0m16 0h0m6 0h0m7 0h0m13 0h0m68 0h0m15 0h0m8 0h0m2 0h0m1 0h0m10 0h0m8 0h0m35 0h0m10 0h0m14 0h0m14 0h0m3 0h0m18 0h0m10 0h0m3 0h0m2 0h0m66 0h0m41 0h0m9 0h0m22 0h0m96 0h0m6 0h0m29 0h0m30 0h0m20 0h0m30 0h0m28 0h0m8 0h0m118 0h0m-1007 1h0m2 0h0m19 0h0m42 0h0m13 0h0m43 0h0m36 0h0m10 0h0m9 0h0m33 0h0m33 0h0m5 0h0m61 0h0m6 0h0m5 0h0m10 0h0m24 0h0m20 0h0m36 0h0m2 0h0m8 0h0m18 0h0m10 0h0m4 0h0m37 0h0m25 0h0m77 0h0m19 0h0m43 0h0m10 0h0m17 0h0m8 0h0m19 0h0m1 0h0m41 0h0m21 0h0m3 0h0m55 0h0m6 0h0m23 0h0m38 0h0m2 0h0m5 0h0m8 0h0m95 0h0m-961 1h0m6 0h0m11 0h0m9 0h0m10 0h0m20 0h0m60 0h0m3 0h0m21 0h0m4 0h0m29 0h0m47 0h0m20 0h0m23 0h0m19 0h0m3 0h0m110 0h0m16 0h0m9 0h0m36 0h0m35 0h0m10 0h0m3 0h0m3 0h0m42 0h0m14 0h0m106 0h0m7 0h0m9 0h0m62 0h0m31 0h0m5 0h0m4 0h0m28 0h0m20 0h0m3 0h0m3 0h0m7 0h0m15 0h0m37 0h0m-937 1h0m16 0h0m19 0h0m9 0h0m9 0h0m25 0h0m80 0h0m16 0h0m19 0h0m14 0h0m1 0h0m30 0h0m34 0h0m24 0h0m20 0h0m24 0h0m11 0h0m4 0h0m15 0h0m6 0h0m26 0h0m10 0h0m63 0h0m19 0h0m24 0h0m10 0h0m52 0h0m2 0h0m5 0h0m14 0h0m12 0h0m68 0h0m45 0h0m36 0h0m5 0h0m6 0h0m4 0h0m25 0h0m7 0h0m26 0h0m6 0h0m17 0h0m6 0h0m156 0h0m1 0h0m-1021 1h0m33 0h0m29 0h0m8 0h0m25 0h0m8 0h0m1 0h0m44 0h0m42 0h0m41 0h0m16 0h0m7 0h0m13 0h0m31 0h0m8 0h0m12 0h0m111 0h0m35 0h0m34 0h0m14 0h0m11 0h0m1 0h0m9 0h0m47 0h0m22 0h0m14 0h0m64 0h0m19 0h0m9 0h0m39 0h0m25 0h0m9 0h0m129 0h0m12 0h0m-934 1h0m1 0h0m48 0h0m29 0h0m6 0h0m31 0h0m66 0h0m62 0h0m6 0h0m21 0h0m6 0h0m12 0h0m5 0h0m7 0h0m12 0h0m10 0h0m27 0h0m6 0h0m63 0h0m24 0h0m17 0h0m17 0h0m46 0h0m22 0h0m56 0h0m24 0h0m67 0h0m14 0h0m32 0h0m24 0h0m23 0h0m44 0h0m7 0h0m5 0h0m30 0h0m5 0h0m53 0h0m6 0h0m40 0h0m93 0h0m3 0h0m-1110 1h0m21 0h0m74 0h0m21 0h0m44 0h0m7 0h0m37 0h0m7 0h0m76 0h0m19 0h0m17 0h0m60 0h0m2 0h0m2 0h0m21 0h0m5 0h0m11 0h0m14 0h0m1 0h0m67 0h0m7 0h0m30 0h0m3 0h0m27 0h0m25 0h0m44 0h0m19 0h0m6 0h0m8 0h0m6 0h0m20 0h0m5 0h0m23 0h0m21 0h0m68 0h0m23 0h0m12 0h0m26 0h0m1 0h0m48 0h0m1 0h0m31 0h0m12 0h0m15 0h0m4 0h0m-936 1h0m2 0h0m26 0h0m3 0h0m8 0h0m4 0h0m27 0h0m44 0h0m7 0h0m27 0h0m4 0h0m8 0h0m25 0h0m30 0h0m13 0h0m28 0h0m2 0h0m24 0h0m17 0h0m11 0h0m34 0h0m1 0h0m10 0h0m26 0h0m5 0h0m1 0h0m25 0h0m14 0h0m27 0h0m13 0h0m42 0h0m33 0h0m18 0h0m34 0h0m9 0h0m10 0h0m5 0h0m82 0h0m11 0h0m111 0h0m7 0h0m3 0h0m91 0h0m32 0h0m5 0h0m26 0h0m-1025 1h0m6 0h0m21 0h0m7 0h0m35 0h0m20 0h0m1 0h0m33 0h0m11 0h0m39 0h0m8 0h0m23 0h0m38 0h0m23 0h0m19 0h0m35 0h0m2 0h0m2 0h0m30 0h0m51 0h0m47 0h0m19 0h0m2 0h0m13 0h0m7 0h0m15 0h0m28 0h0m40 0h0m17 0h0m5 0h0m2 0h0m49 0h0m32 0h0m16 0h0m32 0h0m26 0h0m56 0h0m9 0h0m16 0h0m2 0h0m5 0h0m47 0h0m33 0h0m12 0h0m4 0h0m38 0h0m21 0h0m2 0h0m-979 1h0m3 0h0m36 0h0m15 0h0m35 0h0m5 0h0m1 0h0m2 0h0m59 0h0m13 0h0m34 0h0m20 0h0m4 0h0m1 0h0m3 0h0m34 0h0m35 0h0m15 0h0m60 0h0m9 0h0m35 0h0m6 0h0m16 0h0m49 0h0m24 0h0m29 0h0m4 0h0m34 0h0m7 0h0m39 0h0m54 0h0m29 0h0m46 0h0m65 0h0m29 0h0m33 0h0m12 0h0m15 0h0m45 0h0m27 0h0m-960 1h0m37 0h0m29 0h0m54 0h0m2 0h0m20 0h0m15 0h0m1 0h0m12 0h0m30 0h0m7 0h0m1 0h0m19 0h0m3 0h0m21 0h0m27 0h0m10 0h0m9 0h0m1 0h0m6 0h0m12 0h0m7 0h0m5 0h0m80 0h0m14 0h0m11 0h0m62 0h0m5 0h0m3 0h0m54 0h0m12 0h0m67 0h0m93 0h0m19 0h0m10 0h0m13 0h0m9 0h0m26 0h0m5 0h0m27 0h0m23 0h0m24 0h0m70 0h0m-925 1h0m6 0h0m36 0h0m10 0h0m35 0h0m52 0h0m8 0h0m1 0h0m1 0h0m13 0h0m5 0h0m14 0h0m43 0h0m36 0h0m36 0h0m26 0h0m25 0h0m1 0h0m17 0h0m12 0h0m25 0h0m34 0h0m30 0h0m21 0h0m42 0h0m34 0h0m10 0h0m15 0h0m44 0h0m1 0h0m2 0h0m21 0h0m117 0h0m19 0h0m7 0h0m37 0h0m5 0h0m19 0h0m18 0h0m-886 1h0m2 0h0m6 0h0m1 0h0m2 0h0m46 0h0m13 0h0m3 0h0m15 0h0m2 0h0m14 0h0m15 0h0m9 0h0m49 0h0m28 0h0m1 0h0m60 0h0m16 0h0m9 0h0m30 0h0m86 0h0m2 0h0m6 0h0m11 0h0m20 0h0m16 0h0m28 0h0m14 0h0m26 0h0m6 0h0m10 0h0m127 0h0m33 0h0m29 0h0m7 0h0m33 0h0m20 0h0m13 0h0m62 0h0m28 0h0m17 0h0m16 0h0m56 0h0m-998 1h0m11 0h0m1 0h0m4 0h0m54 0h0m28 0h0m6 0h0m13 0h0m36 0h0m1 0h0m6 0h0m5 0h0m1 0h0m51 0h0m14 0h0m19 0h0m8 0h0m2 0h0m20 0h0m12 0h0m27 0h0m5 0h0m12 0h0m4 0h0m32 0h0m25 0h0m11 0h0m19 0h0m10 0h0m41 0h0m15 0h0m5 0h0m17 0h0m3 0h0m22 0h0m15 0h0m13 0h0m22 0h0m16 0h0m11 0h0m72 0h0m68 0h0m31 0h0m44 0h0m6 0h0m22 0h0m5 0h0m11 0h0m1 0h0m17 0h0m9 0h0m2 0h0m39 0h0m56 0h0m37 0h0m-1107 1h0m63 0h0m22 0h0m8 0h0m24 0h0m14 0h0m3 0h0m1 0h0m5 0h0m33 0h0m9 0h0m8 0h0m17 0h0m73 0h0m12 0h0m7 0h0m23 0h0m24 0h0m18 0h0m8 0h0m61 0h0m120 0h0m70 0h0m5 0h0m34 0h0m10 0h0m20 0h0m21 0h0m2 0h0m10 0h0m1 0h0m6 0h0m43 0h0m59 0h0m8 0h0m15 0h0m7 0h0m19 0h0m15 0h0m6 0h0m42 0h0m47 0h0m18 0h0m3 0h0m91 0h0m-1103 1h0m60 0h0m2 0h0m2 0h0m2 0h0m24 0h0m8 0h0m13 0h0m147 0h0m1 0h0m25 0h0m3 0h0m8 0h0m15 0h0m52 0h0m1 0h0m4 0h0m13 0h0m36 0h0m6 0h0m29 0h0m15 0h0m27 0h0m36 0h0m1 0h0m5 0h0m1 0h0m8 0h0m51 0h0m3 0h0m45 0h0m105 0h0m3 0h0m30 0h0m13 0h0m7 0h0m62 0h0m11 0h0m2 0h0m2 0h0m4 0h0m6 0h0m37 0h0m7 0h0m15 0h0m47 0h0m86 0h0m28 0h0m-1068 1h0m27 0h0m2 0h0m29 0h0m5 0h0m9 0h0m13 0h0m20 0h0m35 0h0m66 0h0m21 0h0m6 0h0m42 0h0m42 0h0m25 0h0m4 0h0m8 0h0m11 0h0m67 0h0m1 0h0m10 0h0m10 0h0m41 0h0m37 0h0m15 0h0m17 0h0m47 0h0m55 0h0m65 0h0m1 0h0m31 0h0m9 0h0m41 0h0m15 0h0m17 0h0m60 0h0m5 0h0m4 0h0m10 0h0m27 0h0m6 0h0m15 0h0m18 0h0m-981 1h0m18 0h0m34 0h0m20 0h0m44 0h0m2 0h0m15 0h0m26 0h0m34 0h0m3 0h0m21 0h0m38 0h0m14 0h0m5 0h0m8 0h0m21 0h0m8 0h0m32 0h0m4 0h0m26 0h0m8 0h0m77 0h0m68 0h0m25 0h0m42 0h0m75 0h0m27 0h0m11 0h0m32 0h0m17 0h0m25 0h0m3 0h0m67 0h0m46 0h0m3 0h0m48 0h0m34 0h0m80 0h0m-1010 1h0m5 0h0m1 0h0m27 0h0m38 0h0m3 0h0m15 0h0m18 0h0m4 0h0m12 0h0m39 0h0m72 0h0m16 0h0m11 0h0m13 0h0m78 0h0m4 0h0m8 0h0m10 0h0m11 0h0m5 0h0m102 0h0m18 0h0m7 0h0m29 0h0m20 0h0m36 0h0m10 0h0m47 0h0m11 0h0m4 0h0m13 0h0m3 0h0m18 0h0m17 0h0m10 0h0m63 0h0m20 0h0m4 0h0m36 0h0m5 0h0m3 0h0m65 0h0m81 0h0m-1070 1h0m29 0h0m6 0h0m2 0h0m7 0h0m4 0h0m27 0h0m34 0h0m24 0h0m4 0h0m2 0h0m19 0h0m31 0h0m2 0h0m1 0h0m3 0h0m21 0h0m17 0h0m21 0h0m4 0h0m5 0h0m15 0h0m21 0h0m3 0h0m38 0h0m25 0h0m22 0h0m7 0h0m6 0h0m18 0h0m39 0h0m14 0h0m76 0h0m43 0h0m20 0h0m3 0h0m41 0h0m6 0h0m22 0h0m2 0h0m21 0h0m42 0h0m5 0h0m15 0h0m5 0h0m52 0h0m64 0h0m6 0h0m-894 1h0m7 0h0m3 0h0m2 0h0m10 0h0m9 0h0m58 0h0m19 0h0m6 0h0m18 0h0m2 0h0m3 0h0m12 0h0m8 0h0m10 0h0m8 0h0m1 0h0m10 0h0m6 0h0m2 0h0m6 0h0m1 0h0m4 0h0m13 0h0m2 0h0m17 0h0m2 0h0m4 0h0m2 0h0m8 0h0m14 0h0m89 0h0m12 0h0m12 0h0m7 0h0m15 0h0m11 0h0m8 0h0m75 0h0m33 0h0m12 0h0m11 0h0m81 0h0m33 0h0m10 0h0m2 0h0m17 0h0m23 0h0m2 0h0m20 0h0m2 0h0m34 0h0m6 0h0m38 0h0m6 0h0m8 0h0m3 0h0m4 0h0m36 0h0m7 0h0m17 0h0m35 0h0m4 0h0m15 0h0m30 0h0m79 0h0m-1018 1h0m32 0h0m36 0h0m1 0h0m4 0h0m35 0h0m53 0h0m22 0h0m9 0h0m33 0h0m37 0h0m17 0h0m22 0h0m36 0h0m35 0h0m1 0h0m5 0h0m4 0h0m29 0h0m12 0h0m7 0h0m2 0h0m56 0h0m19 0h0m37 0h0m11 0h0m8 0h0m33 0h0m15 0h0m14 0h0m45 0h0m17 0h0m48 0h0m66 0h0m65 0h0m78 0h0m76 0h0m-1048 1h0m16 0h0m14 0h0m10 0h0m6 0h0m1 0h0m10 0h0m24 0h0m18 0h0m41 0h0m29 0h0m26 0h0m17 0h0m12 0h0m4 0h0m6 0h0m19 0h0m29 0h0m27 0h0m1 0h0m1 0h0m8 0h0m5 0h0m48 0h0m12 0h0m2 0h0m15 0h0m1 0h0m3 0h0m21 0h0m61 0h0m20 0h0m51 0h0m9 0h0m31 0h0m3 0h0m4 0h0m18 0h0m20 0h0m10 0h0m22 0h0m99 0h0m4 0h0m28 0h0m72 0h0m10 0h0m11 0h0m5 0h0m12 0h0m29 0h0m2 0h0m20 0h0m3 0h0m71 0h0m-1081 1h0m38 0h0m15 0h0m5 0h0m34 0h0m11 0h0m1 0h0m9 0h0m18 0h0m19 0h0m7 0h0m42 0h0m13 0h0m15 0h0m23 0h0m19 0h0m35 0h0m43 0h0m10 0h0m27 0h0m26 0h0m68 0h0m14 0h0m3 0h0m86 0h0m18 0h0m17 0h0m11 0h0m2 0h0m47 0h0m14 0h0m7 0h0m15 0h0m12 0h0m4 0h0m97 0h0m33 0h0m8 0h0m8 0h0m19 0h0m2 0h0m22 0h0m7 0h0m12 0h0m29 0h0m11 0h0m11 0h0m12 0h0m4 0h0m2 0h0m3 0h0m75 0h0m-1081 1h0m41 0h0m26 0h0m16 0h0m11 0h0m27 0h0m1 0h0m2 0h0m24 0h0m15 0h0m47 0h0m52 0h0m4 0h0m12 0h0m5 0h0m30 0h0m43 0h0m4 0h0m2 0h0m12 0h0m1 0h0m22 0h0m42 0h0m32 0h0m28 0h0m13 0h0m9 0h0m3 0h0m39 0h0m32 0h0m22 0h0m42 0h0m2 0h0m6 0h0m13 0h0m50 0h0m1 0h0m36 0h0m25 0h0m4 0h0m1 0h0m9 0h0m19 0h0m23 0h0m21 0h0m1 0h0m12 0h0m12 0h0m16 0h0m23 0h0m7 0h0m16 0h0m4 0h0m3 0h0m39 0h0m7 0h0m-977 1h0m1 0h0m4 0h0m12 0h0m34 0h0m67 0h0m15 0h0m10 0h0m29 0h0m26 0h0m2 0h0m13 0h0m31 0h0m31 0h0m24 0h0m29 0h0m8 0h0m78 0h0m6 0h0m19 0h0m1 0h0m7 0h0m30 0h0m50 0h0m12 0h0m5 0h0m4 0h0m48 0h0m56 0h0m33 0h0m36 0h0m31 0h0m20 0h0m2 0h0m8 0h0m4 0h0m54 0h0m7 0h0m3 0h0m2 0h0m120 0h0m81 0h0m-1047 1h0m4 0h0m20 0h0m31 0h0m46 0h0m4 0h0m36 0h0m74 0h0m21 0h0m3 0h0m18 0h0m34 0h0m1 0h0m13 0h0m5 0h0m12 0h0m24 0h0m33 0h0m18 0h0m18 0h0m3 0h0m30 0h0m7 0h0m49 0h0m1 0h0m15 0h0m48 0h0m32 0h0m8 0h0m5 0h0m49 0h0m7 0h0m1 0h0m35 0h0m47 0h0m1 0h0m5 0h0m88 0h0m34 0h0m1 0h0m65 0h0m9 0h0m93 0h0m-1033 1h0m4 0h0m6 0h0m42 0h0m20 0h0m52 0h0m31 0h0m25 0h0m4 0h0m16 0h0m47 0h0m2 0h0m14 0h0m14 0h0m14 0h0m1 0h0m17 0h0m17 0h0m74 0h0m2 0h0m50 0h0m3 0h0m26 0h0m2 0h0m9 0h0m17 0h0m2 0h0m1 0h0m7 0h0m10 0h0m2 0h0m2 0h0m7 0h0m18 0h0m10 0h0m31 0h0m7 0h0m31 0h0m67 0h0m22 0h0m23 0h0m1 0h0m3 0h0m63 0h0m24 0h0m3 0h0m34 0h0m3 0h0m55 0h0m5 0h0m3 0h0m15 0h0m-1000 1h0m15 0h0m19 0h0m8 0h0m14 0h0m15 0h0m2 0h0m47 0h0m15 0h0m28 0h0m15 0h0m5 0h0m13 0h0m90 0h0m8 0h0m70 0h0m3 0h0m2 0h0m6 0h0m10 0h0m63 0h0m7 0h0m41 0h0m15 0h0m16 0h0m62 0h0m8 0h0m24 0h0m82 0h0m1 0h0m62 0h0m64 0h0m110 0h0m29 0h0m2 0h0m10 0h0m-962 1h0m15 0h0m7 0h0m14 0h0m5 0h0m6 0h0m54 0h0m50 0h0m26 0h0m2 0h0m51 0h0m48 0h0m6 0h0m13 0h0m15 0h0m9 0h0m44 0h0m20 0h0m41 0h0m17 0h0m3 0h0m29 0h0m20 0h0m44 0h0m1 0h0m8 0h0m9 0h0m4 0h0m6 0h0m16 0h0m6 0h0m5 0h0m73 0h0m4 0h0m47 0h0m10 0h0m31 0h0m57 0h0m6 0h0m26 0h0m19 0h0m32 0h0m5 0h0m17 0h0m2 0h0m27 0h0m13 0h0m3 0h0m26 0h0m-1037 1h0m85 0h0m12 0h0m6 0h0m5 0h0m2 0h0m17 0h0m16 0h0m12 0h0m16 0h0m10 0h0m9 0h0m8 0h0m35 0h0m5 0h0m4 0h0m4 0h0m13 0h0m7 0h0m25 0h0m41 0h0m8 0h0m35 0h0m15 0h0m9 0h0m49 0h0m29 0h0m2 0h0m5 0h0m57 0h0m20 0h0m8 0h0m19 0h0m40 0h0m25 0h0m3 0h0m75 0h0m5 0h0m26 0h0m7 0h0m19 0h0m31 0h0m55 0h0m18 0h0m30 0h0m45 0h0m51 0h0m5 0h0m72 0h0m1 0h0m6 0h0m-1046 1h0m12 0h0m23 0h0m36 0h0m18 0h0m5 0h0m6 0h0m23 0h0m9 0h0m7 0h0m54 0h0m24 0h0m12 0h0m15 0h0m22 0h0m26 0h0m6 0h0m5 0h0m17 0h0m70 0h0m67 0h0m26 0h0m44 0h0m4 0h0m14 0h0m7 0h0m16 0h0m48 0h0m1 0h0m4 0h0m1 0h0m10 0h0m13 0h0m48 0h0m15 0h0m8 0h0m4 0h0m2 0h0m12 0h0m7 0h0m6 0h0m6 0h0m33 0h0m15 0h0m12 0h0m26 0h0m33 0h0m30 0h0m6 0h0m3 0h0m27 0h0m9 0h0m75 0h0m2 0h0m4 0h0m-1086 1h0m61 0h0m55 0h0m10 0h0m16 0h0m23 0h0m14 0h0m21 0h0m39 0h0m3 0h0m26 0h0m4 0h0m8 0h0m23 0h0m7 0h0m84 0h0m19 0h0m12 0h0m18 0h0m7 0h0m11 0h0m11 0h0m5 0h0m77 0h0m61 0h0m11 0h0m20 0h0m15 0h0m31 0h0m9 0h0m8 0h0m1 0h0m50 0h0m11 0h0m8 0h0m42 0h0m13 0h0m3 0h0m16 0h0m8 0h0m18 0h0m11 0h0m16 0h0m32 0h0m19 0h0m1 0h0m10 0h0m3 0h0m24 0h0m5 0h0m46 0h0m1 0h0m17 0h0m18 0h0m-995 1h0m47 0h0m1 0h0m8 0h0m16 0h0m68 0h0m8 0h0m40 0h0m37 0h0m1 0h0m11 0h0m48 0h0m29 0h0m5 0h0m1 0h0m14 0h0m7 0h0m3 0h0m2 0h0m6 0h0m8 0h0m43 0h0m7 0h0m5 0h0m10 0h0m22 0h0m14 0h0m13 0h0m4 0h0m15 0h0m13 0h0m72 0h0m3 0h0m22 0h0m19 0h0m21 0h0m8 0h0m4 0h0m1 0h0m24 0h0m6 0h0m5 0h0m7 0h0m34 0h0m5 0h0m4 0h0m1 0h0m24 0h0m1 0h0m35 0h0m12 0h0m70 0h0m25 0h0m84 0h0m-1018 1h0m8 0h0m20 0h0m5 0h0m24 0h0m25 0h0m32 0h0m31 0h0m27 0h0m7 0h0m15 0h0m1 0h0m7 0h0m40 0h0m1 0h0m20 0h0m23 0h0m6 0h0m8 0h0m46 0h0m6 0h0m26 0h0m20 0h0m54 0h0m25 0h0m11 0h0m8 0h0m61 0h0m14 0h0m10 0h0m25 0h0m93 0h0m13 0h0m9 0h0m15 0h0m4 0h0m7 0h0m3 0h0m22 0h0m5 0h0m8 0h0m14 0h0m10 0h0m65 0h0m18 0h0m96 0h0m33 0h0m13 0h0m-1040 1h0m6 0h0m74 0h0m54 0h0m20 0h0m27 0h0m4 0h0m11 0h0m2 0h0m31 0h0m28 0h0m18 0h0m3 0h0m6 0h0m2 0h0m19 0h0m10 0h0m53 0h0m2 0h0m46 0h0m37 0h0m16 0h0m5 0h0m64 0h0m24 0h0m21 0h0m33 0h0m25 0h0m2 0h0m118 0h0m41 0h0m236 0h0m-1095 1h0m1 0h0m59 0h0m10 0h0m18 0h0m13 0h0m33 0h0m8 0h0m42 0h0m7 0h0m14 0h0m5 0h0m42 0h0m3 0h0m2 0h0m27 0h0m16 0h0m8 0h0m20 0h0m2 0h0m5 0h0m6 0h0m19 0h0m85 0h0m1 0h0m1 0h0m8 0h0m50 0h0m5 0h0m1 0h0m10 0h0m3 0h0m39 0h0m7 0h0m8 0h0m28 0h0m9 0h0m2 0h0m24 0h0m20 0h0m105 0h0m33 0h0m10 0h0m22 0h0m5 0h0m106 0h0m11 0h0m7 0h0m15 0h0m1 0h0m26 0h0m5 0h0m52 0h0m23 0h0m17 0h0m5 0h0m-1044 1h0m9 0h0m19 0h0m17 0h0m19 0h0m2 0h0m16 0h0m84 0h0m29 0h0m30 0h0m13 0h0m18 0h0m2 0h0m17 0h0m7 0h0m12 0h0m15 0h0m64 0h0m13 0h0m29 0h0m9 0h0m28 0h0m15 0h0m9 0h0m5 0h0m19 0h0m38 0h0m6 0h0m16 0h0m21 0h0m15 0h0m1 0h0m131 0h0m11 0h0m51 0h0m24 0h0m33 0h0m19 0h0m2 0h0m8 0h0m11 0h0m1 0h0m9 0h0m9 0h0m34 0h0m3 0h0m47 0h0m29 0h0m-1079 1h0m27 0h0m40 0h0m1 0h0m52 0h0m32 0h0m7 0h0m13 0h0m6 0h0m11 0h0m68 0h0m4 0h0m11 0h0m49 0h0m5 0h0m75 0h0m54 0h0m6 0h0m2 0h0m24 0h0m52 0h0m49 0h0m69 0h0m32 0h0m17 0h0m48 0h0m10 0h0m39 0h0m2 0h0m12 0h0m17 0h0m16 0h0m19 0h0m36 0h0m4 0h0m11 0h0m41 0h0m1 0h0m1 0h0m19 0h0m2 0h0m18 0h0m63 0h0m-1001 1h0m28 0h0m30 0h0m4 0h0m23 0h0m13 0h0m9 0h0m16 0h0m7 0h0m8 0h0m24 0h0m8 0h0m11 0h0m14 0h0m43 0h0m10 0h0m1 0h0m11 0h0m7 0h0m5 0h0m3 0h0m6 0h0m4 0h0m2 0h0m4 0h0m22 0h0m9 0h0m15 0h0m49 0h0m48 0h0m8 0h0m23 0h0m20 0h0m17 0h0m1 0h0m9 0h0m1 0h0m1 0h0m2 0h0m6 0h0m2 0h0m18 0h0m19 0h0m8 0h0m25 0h0m24 0h0m1 0h0m106 0h0m42 0h0m22 0h0m17 0h0m14 0h0m64 0h0m4 0h0m70 0h0m72 0h0m11 0h0m-1078 1h0m28 0h0m12 0h0m48 0h0m22 0h0m1 0h0m1 0h0m24 0h0m16 0h0m14 0h0m2 0h0m37 0h0m3 0h0m65 0h0m38 0h0m11 0h0m20 0h0m30 0h0m5 0h0m2 0h0m23 0h0m31 0h0m10 0h0m64 0h0m16 0h0m2 0h0m6 0h0m30 0h0m3 0h0m6 0h0m20 0h0m12 0h0m18 0h0m60 0h0m59 0h0m7 0h0m39 0h0m33 0h0m7 0h0m35 0h0m2 0h0m41 0h0m29 0h0m45 0h0m55 0h0m17 0h0m1 0h0m3 0h0m-984 1h0m88 0h0m10 0h0m61 0h0m10 0h0m12 0h0m13 0h0m24 0h0m45 0h0m13 0h0m7 0h0m7 0h0m15 0h0m41 0h0m17 0h0m33 0h0m48 0h0m10 0h0m5 0h0m16 0h0m51 0h0m1 0h0m25 0h0m67 0h0m56 0h0m6 0h0m30 0h0m2 0h0m30 0h0m1 0h0m7 0h0m9 0h0m68 0h0m82 0h0m62 0h0m31 0h0m2 0h0m-1003 1h0m55 0h0m5 0h0m71 0h0m19 0h0m8 0h0m39 0h0m50 0h0m12 0h0m10 0h0m29 0h0m41 0h0m22 0h0m2 0h0m8 0h0m1 0h0m10 0h0m7 0h0m45 0h0m9 0h0m93 0h0m6 0h0m19 0h0m33 0h0m52 0h0m18 0h0m79 0h0m12 0h0m2 0h0m5 0h0m12 0h0m16 0h0m16 0h0m23 0h0m3 0h0m16 0h0m11 0h0m3 0h0m1 0h0m62 0h0m54 0h0m3 0h0m1 0h0m-1058 1h0m31 0h0m13 0h0m68 0h0m25 0h0m8 0h0m11 0h0m27 0h0m3 0h0m18 0h0m12 0h0m3 0h0m4 0h0m2 0h0m1 0h0m34 0h0m37 0h0m20 0h0m14 0h0m37 0h0m30 0h0m11 0h0m39 0h0m16 0h0m21 0h0m3 0h0m19 0h0m5 0h0m8 0h0m83 0h0m22 0h0m23 0h0m7 0h0m31 0h0m1 0h0m31 0h0m2 0h0m17 0h0m6 0h0m52 0h0m9 0h0m11 0h0m34 0h0m10 0h0m23 0h0m1 0h0m1 0h0m56 0h0m13 0h0m9 0h0m-946 1h0m126 0h0m2 0h0m14 0h0m11 0h0m11 0h0m13 0h0m3 0h0m76 0h0m3 0h0m55 0h0m24 0h0m21 0h0m9 0h0m5 0h0m33 0h0m60 0h0m51 0h0m23 0h0m19 0h0m8 0h0m6 0h0m28 0h0m48 0h0m7 0h0m4 0h0m37 0h0m3 0h0m7 0h0m1 0h0m55 0h0m35 0h0m2 0h0m2 0h0m6 0h0m2 0h0m10 0h0m17 0h0m4 0h0m1 0h0m12 0h0m10 0h0m39 0h0m4 0h0m129 0h0m2 0h0m-989 1h0m3 0h0m3 0h0m27 0h0m19 0h0m11 0h0m7 0h0m3 0h0m22 0h0m4 0h0m2 0h0m8 0h0m14 0h0m43 0h0m18 0h0m12 0h0m17 0h0m18 0h0m32 0h0m13 0h0m3 0h0m6 0h0m3 0h0m8 0h0m14 0h0m44 0h0m23 0h0m1 0h0m8 0h0m132 0h0m10 0h0m8 0h0m39 0h0m49 0h0m2 0h0m42 0h0m12 0h0m30 0h0m50 0h0m78 0h0m15 0h0m36 0h0m36 0h0m71 0h0m-1058 1h0m13 0h0m73 0h0m33 0h0m22 0h0m25 0h0m2 0h0m15 0h0m12 0h0m5 0h0m15 0h0m2 0h0m14 0h0m6 0h0m5 0h0m38 0h0m73 0h0m14 0h0m19 0h0m7 0h0m25 0h0m46 0h0m9 0h0m12 0h0m9 0h0m3 0h0m6 0h0m17 0h0m3 0h0m17 0h0m15 0h0m12 0h0m29 0h0m27 0h0m54 0h0m1 0h0m3 0h0m35 0h0m7 0h0m108 0h0m11 0h0m21 0h0m81 0h0m30 0h0m-962 1h0m30 0h0m24 0h0m29 0h0m11 0h0m31 0h0m5 0h0m13 0h0m5 0h0m1 0h0m79 0h0m27 0h0m15 0h0m6 0h0m16 0h0m27 0h0m5 0h0m11 0h0m10 0h0m65 0h0m91 0h0m4 0h0m31 0h0m40 0h0m1 0h0m14 0h0m27 0h0m20 0h0m3 0h0m3 0h0m7 0h0m55 0h0m57 0h0m44 0h0m37 0h0m17 0h0m40 0h0m1 0h0m30 0h0m-935 1h0m3 0h0m17 0h0m13 0h0m4 0h0m13 0h0m47 0h0m12 0h0m3 0h0m17 0h0m4 0h0m5 0h0m30 0h0m38 0h0m1 0h0m15 0h0m8 0h0m50 0h0m24 0h0m26 0h0m5 0h0m49 0h0m93 0h0m13 0h0m29 0h0m2 0h0m101 0h0m31 0h0m4 0h0m51 0h0m27 0h0m4 0h0m2 0h0m12 0h0m8 0h0m3 0h0m42 0h0m1 0h0m8 0h0m15 0h0m4 0h0m31 0h0m98 0h0m-968 1h0m37 0h0m2 0h0m18 0h0m157 0h0m26 0h0m32 0h0m17 0h0m13 0h0m16 0h0m7 0h0m3 0h0m14 0h0m14 0h0m23 0h0m36 0h0m48 0h0m16 0h0m15 0h0m29 0h0m30 0h0m31 0h0m19 0h0m10 0h0m20 0h0m6 0h0m5 0h0m6 0h0m1 0h0m17 0h0m28 0h0m14 0h0m12 0h0m11 0h0m18 0h0m30 0h0m14 0h0m54 0h0m6 0h0m2 0h0m11 0h0m5 0h0m2 0h0m27 0h0m7 0h0m42 0h0m15 0h0m13 0h0m2 0h0m16 0h0m-990 1h0m19 0h0m14 0h0m32 0h0m11 0h0m6 0h0m2 0h0m37 0h0m30 0h0m40 0h0m9 0h0m23 0h0m62 0h0m15 0h0m1 0h0m23 0h0m13 0h0m61 0h0m31 0h0m23 0h0m4 0h0m14 0h0m66 0h0m10 0h0m21 0h0m44 0h0m7 0h0m13 0h0m29 0h0m57 0h0m11 0h0m11 0h0m35 0h0m12 0h0m13 0h0m28 0h0m25 0h0m16 0h0m12 0h0m5 0h0m49 0h0m38 0h0m3 0h0m54 0h0m12 0h0m2 0h0m-952 1h0m29 0h0m5 0h0m14 0h0m7 0h0m104 0h0m55 0h0m5 0h0m104 0h0m60 0h0m8 0h0m11 0h0m11 0h0m11 0h0m35 0h0m16 0h0m15 0h0m62 0h0m5 0h0m2 0h0m7 0h0m65 0h0m55 0h0m1 0h0m23 0h0m43 0h0m36 0h0m6 0h0m1 0h0m26 0h0m3 0h0m24 0h0m4 0h0m6 0h0m21 0h0m-953 1h0m12 0h0m67 0h0m4 0h0m7 0h0m11 0h0m2 0h0m1 0h0m4 0h0m8 0h0m7 0h0m15 0h0m4 0h0m43 0h0m21 0h0m7 0h0m47 0h0m1 0h0m64 0h0m46 0h0m108 0h0m34 0h0m8 0h0m21 0h0m7 0h0m10 0h0m62 0h0m65 0h0m13 0h0m12 0h0m28 0h0m37 0h0m48 0h0m40 0h0m27 0h0m39 0h0m22 0h0m11 0h0m44 0h0m-1069 1h0m91 0h0m53 0h0m11 0h0m83 0h0m16 0h0m6 0h0m2 0h0m3 0h0m1 0h0m1 0h0m12 0h0m5 0h0m29 0h0m4 0h0m15 0h0m28 0h0m11 0h0m21 0h0m26 0h0m13 0h0m3 0h0m14 0h0m252 0h0m42 0h0m20 0h0m20 0h0m27 0h0m29 0h0m4 0h0m16 0h0m41 0h0m11 0h0m29 0h0m56 0h0m22 0h0m70 0h0m-981 1h0m9 0h0m28 0h0m27 0h0m11 0h0m4 0h0m9 0h0m1 0h0m49 0h0m44 0h0m1 0h0m20 0h0m11 0h0m1 0h0m10 0h0m17 0h0m41 0h0m11 0h0m16 0h0m2 0h0m5 0h0m12 0h0m1 0h0m18 0h0m10 0h0m26 0h0m14 0h0m40 0h0m22 0h0m32 0h0m25 0h0m32 0h0m16 0h0m25 0h0m18 0h0m10 0h0m3 0h0m53 0h0m3 0h0m87 0h0m6 0h0m20 0h0m59 0h0m37 0h0m51 0h0m37 0h0m10 0h0m-1089 1h0m63 0h0m15 0h0m19 0h0m10 0h0m2 0h0m34 0h0m9 0h0m32 0h0m8 0h0m35 0h0m18 0h0m34 0h0m3 0h0m31 0h0m42 0h0m11 0h0m13 0h0m9 0h0m24 0h0m144 0h0m1 0h0m34 0h0m100 0h0m6 0h0m1 0h0m41 0h0m13 0h0m1 0h0m32 0h0m14 0h0m28 0h0m66 0h0m51 0h0m62 0h0m9 0h0m3 0h0m10 0h0m42 0h0m-945 1h0m19 0h0m2 0h0m38 0h0m1 0h0m7 0h0m52 0h0m16 0h0m26 0h0m10 0h0m13 0h0m22 0h0m16 0h0m3 0h0m3 0h0m5 0h0m46 0h0m6 0h0m15 0h0m3 0h0m3 0h0m9 0h0m3 0h0m10 0h0m19 0h0m9 0h0m11 0h0m3 0h0m33 0h0m5 0h0m76 0h0m30 0h0m35 0h0m42 0h0m20 0h0m2 0h0m42 0h0m10 0h0m5 0h0m7 0h0m16 0h0m7 0h0m50 0h0m8 0h0m28 0h0m21 0h0m40 0h0m25 0h0m30 0h0m44 0h0m13 0h0m-1078 1h0m2 0h0m69 0h0m3 0h0m11 0h0m14 0h0m50 0h0m19 0h0m11 0h0m10 0h0m1 0h0m18 0h0m12 0h0m5 0h0m6 0h0m4 0h0m5 0h0m10 0h0m6 0h0m4 0h0m31 0h0m45 0h0m12 0h0m31 0h0m54 0h0m18 0h0m7 0h0m24 0h0m9 0h0m18 0h0m9 0h0m2 0h0m4 0h0m39 0h0m8 0h0m13 0h0m15 0h0m37 0h0m16 0h0m1 0h0m23 0h0m32 0h0m1 0h0m5 0h0m3 0h0m11 0h0m13 0h0m14 0h0m12 0h0m15 0h0m35 0h0m7 0h0m35 0h0m6 0h0m19 0h0m19 0h0m50 0h0m16 0h0m23 0h0m25 0h0m11 0h0m38 0h0m6 0h0m8 0h0m-1005 1h0m1 0h0m15 0h0m16 0h0m16 0h0m53 0h0m31 0h0m15 0h0m15 0h0m8 0h0m42 0h0m21 0h0m1 0h0m48 0h0m19 0h0m60 0h0m13 0h0m13 0h0m12 0h0m9 0h0m21 0h0m14 0h0m32 0h0m14 0h0m42 0h0m37 0h0m3 0h0m14 0h0m48 0h0m13 0h0m17 0h0m19 0h0m4 0h0m5 0h0m34 0h0m33 0h0m7 0h0m24 0h0m29 0h0m2 0h0m17 0h0m23 0h0m121 0h0m36 0h0m1 0h0m-1023 1h0m4 0h0m14 0h0m20 0h0m22 0h0m7 0h0m8 0h0m15 0h0m10 0h0m32 0h0m9 0h0m20 0h0m4 0h0m16 0h0m5 0h0m18 0h0m16 0h0m3 0h0m37 0h0m2 0h0m53 0h0m20 0h0m49 0h0m1 0h0m10 0h0m17 0h0m10 0h0m9 0h0m7 0h0m30 0h0m28 0h0m6 0h0m8 0h0m65 0h0m21 0h0m85 0h0m25 0h0m2 0h0m34 0h0m63 0h0m9 0h0m43 0h0m1 0h0m13 0h0m125 0h0m4 0h0m-1067 1h0m66 0h0m46 0h0m5 0h0m27 0h0m61 0h0m18 0h0m42 0h0m14 0h0m20 0h0m40 0h0m39 0h0m14 0h0m16 0h0m8 0h0m31 0h0m13 0h0m16 0h0m56 0h0m37 0h0m28 0h0m81 0h0m9 0h0m13 0h0m2 0h0m27 0h0m15 0h0m34 0h0m19 0h0m5 0h0m1 0h0m16 0h0m15 0h0m45 0h0m22 0h0m190 0h0m-1094 1h0m2 0h0m65 0h0m6 0h0m3 0h0m14 0h0m8 0h0m50 0h0m4 0h0m6 0h0m42 0h0m7 0h0m59 0h0m21 0h0m11 0h0m16 0h0m18 0h0m3 0h0m58 0h0m3 0h0m20 0h0m2 0h0m6 0h0m45 0h0m18 0h0m1 0h0m28 0h0m37 0h0m26 0h0m19 0h0m4 0h0m47 0h0m5 0h0m64 0h0m15 0h0m1 0h0m24 0h0m6 0h0m14 0h0m16 0h0m8 0h0m14 0h0m21 0h0m6 0h0m36 0h0m18 0h0m35 0h0m-927 1h0m62 0h0m3 0h0m4 0h0m25 0h0m10 0h0m10 0h0m18 0h0m6 0h0m15 0h0m25 0h0m20 0h0m3 0h0m13 0h0m11 0h0m2 0h0m104 0h0m11 0h0m9 0h0m7 0h0m17 0h0m10 0h0m11 0h0m16 0h0m5 0h0m13 0h0m2 0h0m1 0h0m27 0h0m83 0h0m7 0h0m11 0h0m92 0h0m7 0h0m34 0h0m7 0h0m62 0h0m10 0h0m19 0h0m20 0h0m14 0h0m7 0h0m30 0h0m19 0h0m13 0h0m38 0h0m107 0h0m52 0h0m-1092 1h0m1 0h0m107 0h0m24 0h0m8 0h0m17 0h0m22 0h0m31 0h0m10 0h0m14 0h0m5 0h0m4 0h0m4 0h0m49 0h0m3 0h0m2 0h0m18 0h0m3 0h0m2 0h0m5 0h0m17 0h0m23 0h0m21 0h0m27 0h0m5 0h0m71 0h0m14 0h0m13 0h0m13 0h0m7 0h0m53 0h0m5 0h0m10 0h0m15 0h0m23 0h0m37 0h0m7 0h0m6 0h0m5 0h0m3 0h0m31 0h0m23 0h0m53 0h0m1 0h0m2 0h0m43 0h0m9 0h0m12 0h0m14 0h0m12 0h0m10 0h0m149 0h0m-986 1h0m27 0h0m38 0h0m12 0h0m20 0h0m56 0h0m27 0h0m6 0h0m3 0h0m36 0h0m3 0h0m52 0h0m37 0h0m5 0h0m4 0h0m16 0h0m19 0h0m18 0h0m4 0h0m25 0h0m2 0h0m24 0h0m29 0h0m24 0h0m105 0h0m28 0h0m21 0h0m4 0h0m48 0h0m6 0h0m12 0h0m17 0h0m1 0h0m37 0h0m31 0h0m9 0h0m30 0h0m8 0h0m3 0h0m1 0h0m2 0h0m20 0h0m100 0h0m17 0h0m13 0h0m21 0h0m-1033 1h0m71 0h0m10 0h0m18 0h0m18 0h0m15 0h0m6 0h0m15 0h0m20 0h0m29 0h0m63 0h0m6 0h0m18 0h0m15 0h0m33 0h0m35 0h0m57 0h0m22 0h0m15 0h0m24 0h0m17 0h0m4 0h0m27 0h0m29 0h0m12 0h0m1 0h0m2 0h0m24 0h0m39 0h0m25 0h0m5 0h0m114 0h0m1 0h0m8 0h0m3 0h0m15 0h0m17 0h0m38 0h0m5 0h0m7 0h0m95 0h0m3 0h0m44 0h0m-1087 1h0m3 0h0m55 0h0m2 0h0m8 0h0m40 0h0m36 0h0m42 0h0m40 0h0m6 0h0m29 0h0m20 0h0m10 0h0m35 0h0m6 0h0m26 0h0m21 0h0m19 0h0m1 0h0m1 0h0m6 0h0m1 0h0m8 0h0m28 0h0m6 0h0m39 0h0m15 0h0m9 0h0m7 0h0m79 0h0m37 0h0m16 0h0m7 0h0m6 0h0m4 0h0m18 0h0m10 0h0m10 0h0m9 0h0m4 0h0m36 0h0m18 0h0m18 0h0m7 0h0m37 0h0m13 0h0m2 0h0m46 0h0m2 0h0m7 0h0m12 0h0m14 0h0m109 0h0m44 0h0m-997 1h0m35 0h0m2 0h0m91 0h0m4 0h0m8 0h0m18 0h0m24 0h0m79 0h0m23 0h0m65 0h0m38 0h0m15 0h0m97 0h0m42 0h0m109 0h0m6 0h0m20 0h0m15 0h0m20 0h0m2 0h0m11 0h0m36 0h0m10 0h0m130 0h0m25 0h0m12 0h0m49 0h0m17 0h0m10 0h0m-1070 1h0m1 0h0m88 0h0m8 0h0m4 0h0m11 0h0m16 0h0m26 0h0m12 0h0m22 0h0m40 0h0m17 0h0m20 0h0m17 0h0m8 0h0m4 0h0m27 0h0m56 0h0m6 0h0m6 0h0m7 0h0m16 0h0m1 0h0m3 0h0m3 0h0m61 0h0m18 0h0m17 0h0m8 0h0m5 0h0m50 0h0m15 0h0m44 0h0m53 0h0m18 0h0m23 0h0m2 0h0m5 0h0m3 0h0m4 0h0m1 0h0m60 0h0m6 0h0m8 0h0m16 0h0m6 0h0m72 0h0m11 0h0m31 0h0m7 0h0m28 0h0m10 0h0m42 0h0m-1069 1h0m99 0h0m17 0h0m105 0h0m2 0h0m23 0h0m21 0h0m17 0h0m24 0h0m13 0h0m14 0h0m6 0h0m11 0h0m24 0h0m26 0h0m35 0h0m5 0h0m10 0h0m13 0h0m3 0h0m17 0h0m3 0h0m1 0h0m7 0h0m25 0h0m17 0h0m21 0h0m100 0h0m6 0h0m45 0h0m2 0h0m4 0h0m3 0h0m25 0h0m7 0h0m10 0h0m61 0h0m10 0h0m10 0h0m42 0h0m5 0h0m38 0h0m25 0h0m26 0h0m9 0h0m2 0h0m8 0h0m6 0h0m23 0h0m9 0h0m35 0h0m26 0h0m-1103 1h0m33 0h0m3 0h0m20 0h0m5 0h0m58 0h0m11 0h0m17 0h0m6 0h0m47 0h0m3 0h0m19 0h0m3 0h0m29 0h0m14 0h0m19 0h0m15 0h0m21 0h0m14 0h0m12 0h0m8 0h0m9 0h0m5 0h0m33 0h0m9 0h0m120 0h0m24 0h0m13 0h0m28 0h0m15 0h0m51 0h0m11 0h0m12 0h0m7 0h0m16 0h0m1 0h0m34 0h0m46 0h0m52 0h0m165 0h0m19 0h0m12 0h0m37 0h0m14 0h0m-1060 1h0m2 0h0m32 0h0m45 0h0m5 0h0m4 0h0m54 0h0m44 0h0m16 0h0m9 0h0m58 0h0m15 0h0m18 0h0m20 0h0m19 0h0m1 0h0m1 0h0m1 0h0m42 0h0m28 0h0m9 0h0m6 0h0m52 0h0m47 0h0m24 0h0m61 0h0m4 0h0m27 0h0m68 0h0m6 0h0m7 0h0m92 0h0m64 0h0m14 0h0m72 0h0m24 0h0m11 0h0m2 0h0m1 0h0m6 0h0m-1001 1h0m45 0h0m33 0h0m1 0h0m21 0h0m23 0h0m8 0h0m23 0h0m80 0h0m1 0h0m6 0h0m20 0h0m70 0h0m3 0h0m20 0h0m1 0h0m28 0h0m16 0h0m38 0h0m9 0h0m19 0h0m6 0h0m10 0h0m4 0h0m3 0h0m5 0h0m52 0h0m33 0h0m34 0h0m37 0h0m42 0h0m2 0h0m3 0h0m6 0h0m22 0h0m8 0h0m9 0h0m9 0h0m32 0h0m11 0h0m19 0h0m11 0h0m87 0h0m123 0h0m2 0h0m9 0h0m4 0h0m-1018 1h0m36 0h0m15 0h0m4 0h0m15 0h0m8 0h0m63 0h0m21 0h0m29 0h0m3 0h0m5 0h0m8 0h0m28 0h0m4 0h0m3 0h0m6 0h0m1 0h0m8 0h0m4 0h0m11 0h0m18 0h0m18 0h0m19 0h0m2 0h0m5 0h0m5 0h0m5 0h0m13 0h0m8 0h0m7 0h0m15 0h0m51 0h0m6 0h0m58 0h0m53 0h0m14 0h0m49 0h0m3 0h0m7 0h0m38 0h0m6 0h0m8 0h0m14 0h0m37 0h0m3 0h0m3 0h0m39 0h0m55 0h0m33 0h0m9 0h0m57 0h0m31 0h0m1 0h0m41 0h0m9 0h0m4 0h0m3 0h0m-985 1h0m6 0h0m7 0h0m39 0h0m21 0h0m12 0h0m23 0h0m3 0h0m32 0h0m15 0h0m18 0h0m2 0h0m23 0h0m12 0h0m16 0h0m1 0h0m5 0h0m5 0h0m15 0h0m18 0h0m42 0h0m23 0h0m33 0h0m21 0h0m15 0h0m40 0h0m4 0h0m27 0h0m63 0h0m97 0h0m27 0h0m42 0h0m22 0h0m7 0h0m65 0h0m80 0h0m8 0h0m101 0h0m-1010 1h0m26 0h0m35 0h0m23 0h0m4 0h0m113 0h0m8 0h0m15 0h0m7 0h0m24 0h0m2 0h0m20 0h0m10 0h0m46 0h0m24 0h0m29 0h0m120 0h0m6 0h0m19 0h0m12 0h0m11 0h0m15 0h0m13 0h0m30 0h0m13 0h0m5 0h0m13 0h0m7 0h0m69 0h0m4 0h0m11 0h0m38 0h0m80 0h0m1 0h0m5 0h0m2 0h0m63 0h0m2 0h0m14 0h0m62 0h0m2 0h0m6 0h0m-980 1h0m11 0h0m61 0h0m18 0h0m11 0h0m52 0h0m6 0h0m29 0h0m7 0h0m52 0h0m13 0h0m129 0h0m20 0h0m7 0h0m17 0h0m7 0h0m4 0h0m52 0h0m8 0h0m8 0h0m4 0h0m7 0h0m11 0h0m56 0h0m36 0h0m20 0h0m16 0h0m6 0h0m13 0h0m3 0h0m5 0h0m35 0h0m1 0h0m7 0h0m1 0h0m5 0h0m35 0h0m25 0h0m27 0h0m19 0h0m21 0h0m114 0h0m-1000 1h0m9 0h0m9 0h0m74 0h0m29 0h0m6 0h0m6 0h0m1 0h0m24 0h0m9 0h0m2 0h0m1 0h0m4 0h0m2 0h0m8 0h0m42 0h0m14 0h0m3 0h0m36 0h0m4 0h0m15 0h0m24 0h0m14 0h0m34 0h0m19 0h0m25 0h0m4 0h0m4 0h0m10 0h0m23 0h0m41 0h0m17 0h0m54 0h0m1 0h0m12 0h0m14 0h0m88 0h0m8 0h0m11 0h0m4 0h0m20 0h0m16 0h0m4 0h0m13 0h0m10 0h0m35 0h0m19 0h0m13 0h0m17 0h0m3 0h0m55 0h0m75 0h0m11 0h0m2 0h0m-1061 1h0m4 0h0m38 0h0m5 0h0m32 0h0m27 0h0m12 0h0m51 0h0m61 0h0m41 0h0m15 0h0m7 0h0m17 0h0m3 0h0m2 0h0m36 0h0m6 0h0m21 0h0m46 0h0m17 0h0m4 0h0m1 0h0m1 0h0m6 0h0m65 0h0m3 0h0m8 0h0m50 0h0m26 0h0m2 0h0m2 0h0m11 0h0m12 0h0m69 0h0m13 0h0m11 0h0m1 0h0m14 0h0m70 0h0m8 0h0m1 0h0m27 0h0m1 0h0m16 0h0m7 0h0m25 0h0m74 0h0m24 0h0m1 0h0m-956 1h0m4 0h0m55 0h0m4 0h0m49 0h0m14 0h0m35 0h0m16 0h0m20 0h0m47 0h0m36 0h0m9 0h0m10 0h0m12 0h0m63 0h0m32 0h0m5 0h0m9 0h0m19 0h0m47 0h0m44 0h0m2 0h0m50 0h0m49 0h0m21 0h0m4 0h0m4 0h0m6 0h0m8 0h0m13 0h0m11 0h0m7 0h0m35 0h0m19 0h0m1 0h0m33 0h0m71 0h0m10 0h0m16 0h0m27 0h0m14 0h0m26 0h0m2 0h0m56 0h0m-1016 1h0m115 0h0m6 0h0m4 0h0m10 0h0m32 0h0m8 0h0m20 0h0m5 0h0m15 0h0m45 0h0m36 0h0m73 0h0m47 0h0m9 0h0m5 0h0m22 0h0m28 0h0m2 0h0m2 0h0m7 0h0m19 0h0m81 0h0m48 0h0m9 0h0m36 0h0m76 0h0m86 0h0m1 0h0m16 0h0m15 0h0m17 0h0m53 0h0m12 0h0m-994 1h0m34 0h0m6 0h0m10 0h0m9 0h0m1 0h0m3 0h0m29 0h0m30 0h0m55 0h0m22 0h0m8 0h0m51 0h0m5 0h0m4 0h0m46 0h0m6 0h0m11 0h0m2 0h0m5 0h0m14 0h0m7 0h0m37 0h0m37 0h0m136 0h0m28 0h0m11 0h0m14 0h0m52 0h0m26 0h0m17 0h0m23 0h0m4 0h0m3 0h0m33 0h0m6 0h0m6 0h0m34 0h0m40 0h0m15 0h0m34 0h0m13 0h0m40 0h0m-986 1h0m5 0h0m14 0h0m1 0h0m19 0h0m6 0h0m2 0h0m1 0h0m15 0h0m94 0h0m5 0h0m23 0h0m8 0h0m3 0h0m20 0h0m6 0h0m20 0h0m25 0h0m42 0h0m8 0h0m30 0h0m30 0h0m12 0h0m29 0h0m6 0h0m43 0h0m56 0h0m9 0h0m25 0h0m33 0h0m45 0h0m4 0h0m15 0h0m1 0h0m33 0h0m48 0h0m2 0h0m31 0h0m12 0h0m5 0h0m41 0h0m54 0h0m33 0h0m54 0h0m21 0h0m50 0h0m13 0h0m-1067 1h0m58 0h0m10 0h0m10 0h0m50 0h0m33 0h0m7 0h0m2 0h0m11 0h0m5 0h0m28 0h0m37 0h0m7 0h0m4 0h0m59 0h0m16 0h0m8 0h0m9 0h0m45 0h0m5 0h0m5 0h0m14 0h0m1 0h0m9 0h0m2 0h0m11 0h0m8 0h0m76 0h0m9 0h0m14 0h0m11 0h0m69 0h0m2 0h0m4 0h0m7 0h0m8 0h0m67 0h0m41 0h0m33 0h0m9 0h0m66 0h0m13 0h0m19 0h0m12 0h0m13 0h0m52 0h0m4 0h0m13 0h0m47 0h0m3 0h0m22 0h0m18 0h0m-1069 1h0m3 0h0m13 0h0m47 0h0m2 0h0m1 0h0m17 0h0m23 0h0m42 0h0m63 0h0m1 0h0m17 0h0m1 0h0m9 0h0m8 0h0m22 0h0m42 0h0m4 0h0m7 0h0m9 0h0m18 0h0m34 0h0m2 0h0m2 0h0m39 0h0m4 0h0m20 0h0m17 0h0m5 0h0m18 0h0m2 0h0m46 0h0m14 0h0m12 0h0m10 0h0m15 0h0m20 0h0m14 0h0m15 0h0m77 0h0m20 0h0m3 0h0m5 0h0m4 0h0m22 0h0m4 0h0m43 0h0m5 0h0m16 0h0m41 0h0m6 0h0m2 0h0m24 0h0m19 0h0m37 0h0m15 0h0m2 0h0m23 0h0m46 0h0m-1065 1h0m30 0h0m6 0h0m40 0h0m20 0h0m1 0h0m22 0h0m25 0h0m1 0h0m4 0h0m8 0h0m70 0h0m29 0h0m16 0h0m18 0h0m30 0h0m28 0h0m111 0h0m2 0h0m7 0h0m10 0h0m32 0h0m24 0h0m19 0h0m31 0h0m2 0h0m9 0h0m27 0h0m6 0h0m7 0h0m1 0h0m21 0h0m17 0h0m20 0h0m45 0h0m9 0h0m11 0h0m32 0h0m81 0h0m1 0h0m28 0h0m23 0h0m13 0h0m40 0h0m16 0h0m10 0h0m42 0h0m42 0h0m-1066 1h0m6 0h0m3 0h0m10 0h0m33 0h0m22 0h0m17 0h0m1 0h0m9 0h0m1 0h0m9 0h0m30 0h0m10 0h0m4 0h0m25 0h0m3 0h0m1 0h0m18 0h0m2 0h0m57 0h0m47 0h0m22 0h0m16 0h0m27 0h0m13 0h0m53 0h0m1 0h0m21 0h0m3 0h0m4 0h0m10 0h0m22 0h0m23 0h0m3 0h0m14 0h0m44 0h0m1 0h0m8 0h0m2 0h0m16 0h0m1 0h0m31 0h0m20 0h0m55 0h0m4 0h0m27 0h0m44 0h0m17 0h0m5 0h0m11 0h0m1 0h0m33 0h0m2 0h0m13 0h0m1 0h0m41 0h0m2 0h0m14 0h0m7 0h0m1 0h0m129 0h0m-1042 1h0m22 0h0m29 0h0m5 0h0m13 0h0m6 0h0m1 0h0m10 0h0m3 0h0m21 0h0m8 0h0m14 0h0m22 0h0m17 0h0m4 0h0m4 0h0m54 0h0m45 0h0m9 0h0m20 0h0m15 0h0m80 0h0m10 0h0m34 0h0m32 0h0m2 0h0m23 0h0m5 0h0m12 0h0m57 0h0m12 0h0m13 0h0m15 0h0m8 0h0m23 0h0m55 0h0m20 0h0m13 0h0m18 0h0m2 0h0m64 0h0m32 0h0m17 0h0m24 0h0m4 0h0m9 0h0m1 0h0m17 0h0m6 0h0m13 0h0m98 0h0m4 0h0m-1054 1h0m11 0h0m26 0h0m23 0h0m53 0h0m21 0h0m15 0h0m13 0h0m20 0h0m13 0h0m22 0h0m31 0h0m14 0h0m7 0h0m1 0h0m11 0h0m8 0h0m11 0h0m19 0h0m3 0h0m25 0h0m1 0h0m1 0h0m92 0h0m2 0h0m11 0h0m15 0h0m17 0h0m23 0h0m23 0h0m49 0h0m31 0h0m6 0h0m4 0h0m1 0h0m4 0h0m9 0h0m13 0h0m21 0h0m25 0h0m20 0h0m1 0h0m15 0h0m16 0h0m21 0h0m2 0h0m5 0h0m5 0h0m15 0h0m12 0h0m20 0h0m7 0h0m4 0h0m11 0h0m37 0h0m20 0h0m11 0h0m2 0h0m15 0h0m20 0h0m22 0h0m31 0h0m24 0h0m-1046 1h0m38 0h0m12 0h0m37 0h0m18 0h0m4 0h0m75 0h0m5 0h0m1 0h0m7 0h0m8 0h0m14 0h0m12 0h0m32 0h0m14 0h0m5 0h0m17 0h0m5 0h0m7 0h0m16 0h0m21 0h0m18 0h0m7 0h0m24 0h0m12 0h0m2 0h0m11 0h0m44 0h0m8 0h0m2 0h0m16 0h0m9 0h0m25 0h0m6 0h0m37 0h0m7 0h0m18 0h0m37 0h0m23 0h0m35 0h0m11 0h0m25 0h0m19 0h0m2 0h0m9 0h0m22 0h0m2 0h0m11 0h0m15 0h0m30 0h0m92 0h0m4 0h0m43 0h0m40 0h0m33 0h0m-1050 1h0m1 0h0m20 0h0m3 0h0m17 0h0m27 0h0m48 0h0m11 0h0m1 0h0m7 0h0m5 0h0m8 0h0m4 0h0m9 0h0m10 0h0m19 0h0m39 0h0m10 0h0m3 0h0m27 0h0m22 0h0m32 0h0m2 0h0m7 0h0m9 0h0m31 0h0m16 0h0m7 0h0m22 0h0m2 0h0m26 0h0m14 0h0m26 0h0m25 0h0m2 0h0m35 0h0m8 0h0m7 0h0m22 0h0m6 0h0m52 0h0m39 0h0m81 0h0m51 0h0m1 0h0m40 0h0m13 0h0m27 0h0m16 0h0m6 0h0m8 0h0m45 0h0m11 0h0m13 0h0m2 0h0m-999 1h0m2 0h0m68 0h0m8 0h0m34 0h0m15 0h0m18 0h0m69 0h0m7 0h0m8 0h0m29 0h0m1 0h0m12 0h0m9 0h0m17 0h0m6 0h0m53 0h0m21 0h0m30 0h0m114 0h0m64 0h0m17 0h0m22 0h0m11 0h0m62 0h0m12 0h0m9 0h0m29 0h0m30 0h0m21 0h0m9 0h0m8 0h0m39 0h0m119 0h0m24 0h0m5 0h0m1 0h0m3 0h0m-1002 1h0m42 0h0m13 0h0m29 0h0m93 0h0m11 0h0m13 0h0m2 0h0m2 0h0m30 0h0m25 0h0m13 0h0m3 0h0m6 0h0m2 0h0m84 0h0m7 0h0m7 0h0m4 0h0m29 0h0m4 0h0m6 0h0m9 0h0m34 0h0m5 0h0m20 0h0m50 0h0m5 0h0m24 0h0m12 0h0m12 0h0m11 0h0m7 0h0m14 0h0m51 0h0m50 0h0m10 0h0m4 0h0m17 0h0m6 0h0m6 0h0m4 0h0m1 0h0m37 0h0m39 0h0m119 0h0m6 0h0m1 0h0m14 0h0m55 0h0m2 0h0m-981 1h0m62 0h0m1 0h0m12 0h0m2 0h0m4 0h0m9 0h0m53 0h0m12 0h0m13 0h0m8 0h0m9 0h0m26 0h0m39 0h0m12 0h0m3 0h0m22 0h0m45 0h0m27 0h0m9 0h0m17 0h0m30 0h0m41 0h0m30 0h0m11 0h0m10 0h0m5 0h0m4 0h0m9 0h0m4 0h0m2 0h0m2 0h0m13 0h0m19 0h0m5 0h0m12 0h0m47 0h0m74 0h0m45 0h0m1 0h0m30 0h0m7 0h0m83 0h0m53 0h0m4 0h0m8 0h0m49 0h0m-1056 1h0m29 0h0m16 0h0m57 0h0m11 0h0m16 0h0m18 0h0m5 0h0m1 0h0m12 0h0m8 0h0m3 0h0m4 0h0m35 0h0m5 0h0m7 0h0m2 0h0m5 0h0m1 0h0m19 0h0m11 0h0m29 0h0m7 0h0m17 0h0m2 0h0m33 0h0m70 0h0m5 0h0m19 0h0m11 0h0m5 0h0m34 0h0m17 0h0m2 0h0m3 0h0m35 0h0m15 0h0m28 0h0m20 0h0m19 0h0m14 0h0m3 0h0m16 0h0m2 0h0m41 0h0m8 0h0m5 0h0m2 0h0m47 0h0m22 0h0m13 0h0m27 0h0m3 0h0m27 0h0m9 0h0m17 0h0m114 0h0m31 0h0m18 0h0m-1050 1h0m94 0h0m1 0h0m2 0h0m10 0h0m30 0h0m7 0h0m50 0h0m14 0h0m40 0h0m45 0h0m20 0h0m1 0h0m11 0h0m79 0h0m7 0h0m13 0h0m25 0h0m29 0h0m4 0h0m7 0h0m4 0h0m4 0h0m59 0h0m3 0h0m5 0h0m35 0h0m53 0h0m20 0h0m6 0h0m27 0h0m9 0h0m10 0h0m2 0h0m27 0h0m11 0h0m18 0h0m19 0h0m2 0h0m24 0h0m20 0h0m185 0h0m-1035 1h0m24 0h0m1 0h0m1 0h0m23 0h0m11 0h0m78 0h0m2 0h0m34 0h0m13 0h0m6 0h0m48 0h0m29 0h0m34 0h0m5 0h0m43 0h0m28 0h0m27 0h0m20 0h0m6 0h0m27 0h0m10 0h0m38 0h0m3 0h0m19 0h0m23 0h0m17 0h0m60 0h0m9 0h0m93 0h0m3 0h0m29 0h0m13 0h0m11 0h0m16 0h0m31 0h0m4 0h0m39 0h0m124 0h0m52 0h0m4 0h0m-1013 1h0m26 0h0m5 0h0m14 0h0m14 0h0m50 0h0m12 0h0m8 0h0m15 0h0m22 0h0m5 0h0m18 0h0m6 0h0m28 0h0m31 0h0m36 0h0m14 0h0m3 0h0m5 0h0m56 0h0m34 0h0m45 0h0m3 0h0m4 0h0m15 0h0m31 0h0m22 0h0m22 0h0m10 0h0m13 0h0m11 0h0m130 0h0m54 0h0m24 0h0m47 0h0m21 0h0m15 0h0m80 0h0m1 0h0m42 0h0m-990 1h0m23 0h0m40 0h0m31 0h0m47 0h0m22 0h0m4 0h0m1 0h0m19 0h0m6 0h0m4 0h0m8 0h0m49 0h0m4 0h0m23 0h0m41 0h0m19 0h0m23 0h0m2 0h0m5 0h0m49 0h0m18 0h0m43 0h0m8 0h0m6 0h0m26 0h0m12 0h0m7 0h0m9 0h0m5 0h0m53 0h0m4 0h0m40 0h0m12 0h0m6 0h0m61 0h0m41 0h0m8 0h0m4 0h0m32 0h0m1 0h0m2 0h0m3 0h0m2 0h0m25 0h0m41 0h0m99 0h0m17 0h0m1 0h0m-1062 1h0m32 0h0m6 0h0m54 0h0m75 0h0m4 0h0m22 0h0m21 0h0m2 0h0m4 0h0m2 0h0m4 0h0m7 0h0m2 0h0m35 0h0m1 0h0m2 0h0m12 0h0m25 0h0m3 0h0m8 0h0m9 0h0m12 0h0m3 0h0m17 0h0m9 0h0m16 0h0m38 0h0m13 0h0m26 0h0m25 0h0m32 0h0m12 0h0m7 0h0m2 0h0m10 0h0m17 0h0m41 0h0m9 0h0m34 0h0m15 0h0m62 0h0m34 0h0m20 0h0m19 0h0m9 0h0m39 0h0m11 0h0m35 0h0m51 0h0m1 0h0m-874 1h0m2 0h0m19 0h0m1 0h0m13 0h0m18 0h0m17 0h0m45 0h0m9 0h0m7 0h0m48 0h0m14 0h0m46 0h0m7 0h0m20 0h0m93 0h0m13 0h0m3 0h0m4 0h0m39 0h0m14 0h0m18 0h0m117 0h0m8 0h0m32 0h0m2 0h0m40 0h0m10 0h0m9 0h0m2 0h0m97 0h0m13 0h0m43 0h0m26 0h0m4 0h0m54 0h0m-889 1h0m24 0h0m19 0h0m10 0h0m3 0h0m34 0h0m13 0h0m9 0h0m2 0h0m57 0h0m8 0h0m8 0h0m17 0h0m25 0h0m11 0h0m7 0h0m1 0h0m59 0h0m19 0h0m52 0h0m4 0h0m3 0h0m19 0h0m11 0h0m2 0h0m26 0h0m4 0h0m25 0h0m99 0h0m65 0h0m16 0h0m29 0h0m12 0h0m30 0h0m9 0h0m16 0h0m29 0h0m2 0h0m14 0h0m27 0h0m14 0h0m54 0h0m-959 1h0m74 0h0m1 0h0m86 0h0m1 0h0m7 0h0m62 0h0m25 0h0m35 0h0m3 0h0m2 0h0m11 0h0m2 0h0m3 0h0m20 0h0m34 0h0m6 0h0m5 0h0m23 0h0m1 0h0m9 0h0m60 0h0m6 0h0m7 0h0m7 0h0m8 0h0m21 0h0m5 0h0m108 0h0m12 0h0m35 0h0m17 0h0m1 0h0m5 0h0m24 0h0m22 0h0m30 0h0m13 0h0m38 0h0m15 0h0m11 0h0m13 0h0m11 0h0m29 0h0m48 0h0m4 0h0m-879 1h0m24 0h0m2 0h0m14 0h0m2 0h0m32 0h0m8 0h0m2 0h0m44 0h0m12 0h0m17 0h0m14 0h0m20 0h0m56 0h0m12 0h0m2 0h0m12 0h0m3 0h0m16 0h0m13 0h0m27 0h0m20 0h0m42 0h0m17 0h0m23 0h0m18 0h0m30 0h0m2 0h0m14 0h0m7 0h0m114 0h0m53 0h0m45 0h0m118 0h0m46 0h0m-981 1h0m54 0h0m16 0h0m29 0h0m10 0h0m71 0h0m27 0h0m15 0h0m38 0h0m6 0h0m11 0h0m17 0h0m6 0h0m6 0h0m26 0h0m9 0h0m1 0h0m5 0h0m7 0h0m11 0h0m10 0h0m8 0h0m14 0h0m4 0h0m32 0h0m13 0h0m56 0h0m29 0h0m20 0h0m48 0h0m5 0h0m5 0h0m6 0h0m113 0h0m13 0h0m2 0h0m16 0h0m18 0h0m19 0h0m41 0h0m65 0h0m32 0h0m2 0h0m-921 1h0m127 0h0m15 0h0m14 0h0m14 0h0m20 0h0m3 0h0m7 0h0m4 0h0m20 0h0m11 0h0m25 0h0m17 0h0m17 0h0m17 0h0m8 0h0m11 0h0m17 0h0m3 0h0m15 0h0m4 0h0m18 0h0m34 0h0m9 0h0m16 0h0m15 0h0m60 0h0m4 0h0m22 0h0m26 0h0m30 0h0m13 0h0m1 0h0m32 0h0m83 0h0m18 0h0m20 0h0m6 0h0m22 0h0m4 0h0m20 0h0m4 0h0m11 0h0m5 0h0m18 0h0m8 0h0m12 0h0m17 0h0m20 0h0m-934 1h0m3 0h0m2 0h0m123 0h0m55 0h0m5 0h0m1 0h0m1 0h0m35 0h0m5 0h0m11 0h0m32 0h0m2 0h0m8 0h0m12 0h0m6 0h0m22 0h0m27 0h0m21 0h0m26 0h0m11 0h0m21 0h0m23 0h0m19 0h0m16 0h0m10 0h0m21 0h0m34 0h0m1 0h0m10 0h0m31 0h0m43 0h0m45 0h0m6 0h0m1 0h0m3 0h0m10 0h0m3 0h0m58 0h0m104 0h0m4 0h0m2 0h0m9 0h0m11 0h0m6 0h0m5 0h0m1 0h0m4 0h0m22 0h0m3 0h0m21 0h0m89 0h0m-1002 1h0m43 0h0m17 0h0m22 0h0m11 0h0m5 0h0m46 0h0m19 0h0m1 0h0m17 0h0m7 0h0m1 0h0m75 0h0m7 0h0m12 0h0m35 0h0m25 0h0m64 0h0m7 0h0m34 0h0m78 0h0m18 0h0m16 0h0m3 0h0m82 0h0m61 0h0m8 0h0m86 0h0m9 0h0m23 0h0m6 0h0m17 0h0m15 0h0m14 0h0m2 0h0m52 0h0m46 0h0m-1028 1h0m2 0h0m4 0h0m85 0h0m18 0h0m3 0h0m7 0h0m16 0h0m31 0h0m9 0h0m11 0h0m23 0h0m6 0h0m15 0h0m1 0h0m9 0h0m4 0h0m20 0h0m4 0h0m10 0h0m26 0h0m38 0h0m44 0h0m5 0h0m8 0h0m22 0h0m8 0h0m17 0h0m14 0h0m4 0h0m32 0h0m19 0h0m27 0h0m55 0h0m11 0h0m14 0h0m26 0h0m5 0h0m20 0h0m9 0h0m23 0h0m28 0h0m21 0h0m2 0h0m41 0h0m29 0h0m6 0h0m9 0h0m10 0h0m8 0h0m4 0h0m12 0h0m18 0h0m14 0h0m3 0h0m21 0h0m1 0h0m4 0h0m1 0h0m26 0h0m61 0h0m26 0h0m-1055 1h0m16 0h0m164 0h0m11 0h0m22 0h0m58 0h0m17 0h0m7 0h0m29 0h0m15 0h0m2 0h0m4 0h0m14 0h0m3 0h0m1 0h0m10 0h0m7 0h0m10 0h0m11 0h0m20 0h0m45 0h0m3 0h0m8 0h0m10 0h0m10 0h0m8 0h0m3 0h0m8 0h0m10 0h0m16 0h0m29 0h0m12 0h0m2 0h0m13 0h0m17 0h0m6 0h0m8 0h0m2 0h0m18 0h0m13 0h0m2 0h0m32 0h0m1 0h0m23 0h0m16 0h0m44 0h0m21 0h0m15 0h0m4 0h0m23 0h0m18 0h0m1 0h0m20 0h0m82 0h0m39 0h0m52 0h0m-1037 1h0m30 0h0m58 0h0m19 0h0m10 0h0m34 0h0m27 0h0m27 0h0m10 0h0m16 0h0m68 0h0m29 0h0m6 0h0m6 0h0m3 0h0m11 0h0m1 0h0m20 0h0m32 0h0m5 0h0m12 0h0m30 0h0m5 0h0m34 0h0m21 0h0m21 0h0m5 0h0m2 0h0m3 0h0m19 0h0m20 0h0m3 0h0m23 0h0m7 0h0m10 0h0m8 0h0m31 0h0m56 0h0m6 0h0m29 0h0m14 0h0m25 0h0m4 0h0m7 0h0m1 0h0m4 0h0m25 0h0m16 0h0m28 0h0m1 0h0m2 0h0m10 0h0m24 0h0m70 0h0m22 0h0m-1012 1h0m7 0h0m87 0h0m24 0h0m25 0h0m4 0h0m12 0h0m9 0h0m1 0h0m13 0h0m4 0h0m8 0h0m10 0h0m36 0h0m10 0h0m8 0h0m12 0h0m18 0h0m3 0h0m21 0h0m1 0h0m30 0h0m19 0h0m64 0h0m2 0h0m2 0h0m11 0h0m22 0h0m10 0h0m4 0h0m9 0h0m7 0h0m25 0h0m5 0h0m23 0h0m13 0h0m25 0h0m34 0h0m1 0h0m19 0h0m7 0h0m24 0h0m4 0h0m5 0h0m26 0h0m11 0h0m15 0h0m31 0h0m21 0h0m20 0h0m1 0h0m4 0h0m17 0h0m39 0h0m7 0h0m37 0h0m3 0h0m8 0h0m3 0h0m66 0h0m30 0h0m8 0h0m-1044 1h0m101 0h0m6 0h0m2 0h0m5 0h0m2 0h0m2 0h0m41 0h0m1 0h0m35 0h0m1 0h0m12 0h0m9 0h0m7 0h0m36 0h0m5 0h0m18 0h0m23 0h0m1 0h0m75 0h0m11 0h0m11 0h0m29 0h0m2 0h0m7 0h0m18 0h0m31 0h0m19 0h0m34 0h0m58 0h0m101 0h0m13 0h0m5 0h0m9 0h0m18 0h0m6 0h0m5 0h0m56 0h0m7 0h0m44 0h0m30 0h0m27 0h0m49 0h0m2 0h0m9 0h0m26 0h0m-998 1h0m1 0h0m37 0h0m24 0h0m46 0h0m13 0h0m10 0h0m27 0h0m1 0h0m8 0h0m9 0h0m3 0h0m7 0h0m31 0h0m13 0h0m3 0h0m42 0h0m48 0h0m35 0h0m4 0h0m7 0h0m45 0h0m26 0h0m25 0h0m26 0h0m26 0h0m20 0h0m7 0h0m13 0h0m1 0h0m8 0h0m40 0h0m10 0h0m49 0h0m46 0h0m16 0h0m58 0h0m1 0h0m10 0h0m4 0h0m20 0h0m1 0h0m26 0h0m33 0h0m32 0h0m2 0h0m1 0h0m1 0h0m-895 1h0m46 0h0m26 0h0m24 0h0m33 0h0m4 0h0m33 0h0m2 0h0m23 0h0m17 0h0m40 0h0m14 0h0m15 0h0m13 0h0m14 0h0m18 0h0m7 0h0m31 0h0m49 0h0m9 0h0m10 0h0m117 0h0m9 0h0m5 0h0m6 0h0m21 0h0m24 0h0m2 0h0m49 0h0m31 0h0m4 0h0m18 0h0m1 0h0m28 0h0m118 0h0m132 0h0m-934 1h0m13 0h0m8 0h0m44 0h0m2 0h0m61 0h0m5 0h0m21 0h0m14 0h0m19 0h0m9 0h0m2 0h0m4 0h0m13 0h0m37 0h0m6 0h0m35 0h0m24 0h0m6 0h0m11 0h0m2 0h0m19 0h0m41 0h0m6 0h0m24 0h0m39 0h0m1 0h0m27 0h0m4 0h0m6 0h0m43 0h0m4 0h0m11 0h0m4 0h0m32 0h0m13 0h0m27 0h0m24 0h0m1 0h0m31 0h0m4 0h0m31 0h0m26 0h0m47 0h0m7 0h0m4 0h0m8 0h0m1 0h0m11 0h0m6 0h0m6 0h0m2 0h0m70 0h0m43 0h0m7 0h0m-1010 1h0m25 0h0m55 0h0m52 0h0m12 0h0m49 0h0m15 0h0m1 0h0m6 0h0m13 0h0m11 0h0m17 0h0m13 0h0m4 0h0m17 0h0m11 0h0m31 0h0m1 0h0m5 0h0m26 0h0m5 0h0m91 0h0m10 0h0m10 0h0m25 0h0m12 0h0m12 0h0m44 0h0m57 0h0m35 0h0m12 0h0m5 0h0m5 0h0m19 0h0m1 0h0m46 0h0m10 0h0m40 0h0m55 0h0m14 0h0m7 0h0m16 0h0m41 0h0m70 0h0m-1037 1h0m18 0h0m16 0h0m52 0h0m11 0h0m17 0h0m23 0h0m22 0h0m2 0h0m4 0h0m1 0h0m2 0h0m10 0h0m12 0h0m23 0h0m1 0h0m12 0h0m13 0h0m3 0h0m7 0h0m103 0h0m7 0h0m13 0h0m7 0h0m2 0h0m14 0h0m4 0h0m14 0h0m55 0h0m8 0h0m32 0h0m41 0h0m21 0h0m24 0h0m25 0h0m12 0h0m4 0h0m1 0h0m4 0h0m8 0h0m11 0h0m23 0h0m73 0h0m9 0h0m21 0h0m12 0h0m11 0h0m11 0h0m10 0h0m20 0h0m9 0h0m33 0h0m21 0h0m9 0h0m1 0h0m1 0h0m35 0h0m-923 1h0m95 0h0m10 0h0m34 0h0m13 0h0m2 0h0m9 0h0m17 0h0m20 0h0m7 0h0m7 0h0m17 0h0m2 0h0m55 0h0m12 0h0m21 0h0m32 0h0m7 0h0m17 0h0m8 0h0m2 0h0m21 0h0m11 0h0m25 0h0m10 0h0m14 0h0m3 0h0m37 0h0m12 0h0m5 0h0m21 0h0m9 0h0m24 0h0m17 0h0m1 0h0m7 0h0m5 0h0m62 0h0m18 0h0m13 0h0m21 0h0m36 0h0m28 0h0m6 0h0m24 0h0m14 0h0m1 0h0m16 0h0m3 0h0m7 0h0m5 0h0m137 0h0m6 0h0m1 0h0m3 0h0m-974 1h0m3 0h0m32 0h0m29 0h0m11 0h0m37 0h0m8 0h0m12 0h0m46 0h0m24 0h0m12 0h0m5 0h0m2 0h0m62 0h0m24 0h0m44 0h0m127 0h0m44 0h0m15 0h0m11 0h0m59 0h0m48 0h0m9 0h0m21 0h0m24 0h0m8 0h0m95 0h0m18 0h0m24 0h0m63 0h0m19 0h0m37 0h0m-1007 1h0m82 0h0m31 0h0m22 0h0m45 0h0m2 0h0m1 0h0m2 0h0m11 0h0m69 0h0m19 0h0m54 0h0m55 0h0m36 0h0m30 0h0m5 0h0m15 0h0m6 0h0m10 0h0m2 0h0m16 0h0m41 0h0m3 0h0m36 0h0m33 0h0m31 0h0m27 0h0m42 0h0m2 0h0m25 0h0m70 0h0m9 0h0m2 0h0m14 0h0m16 0h0m1 0h0m5 0h0m105 0h0m2 0h0m38 0h0m-1058 1h0m23 0h0m22 0h0m36 0h0m29 0h0m7 0h0m1 0h0m17 0h0m16 0h0m24 0h0m6 0h0m16 0h0m44 0h0m9 0h0m3 0h0m21 0h0m1 0h0m54 0h0m7 0h0m5 0h0m1 0h0m29 0h0m198 0h0m7 0h0m40 0h0m16 0h0m76 0h0m17 0h0m13 0h0m4 0h0m9 0h0m3 0h0m10 0h0m13 0h0m53 0h0m32 0h0m53 0h0m30 0h0m25 0h0m45 0h0m3 0h0m32 0h0m13 0h0m-1022 1h0m41 0h0m19 0h0m8 0h0m5 0h0m17 0h0m4 0h0m42 0h0m11 0h0m18 0h0m4 0h0m1 0h0m1 0h0m47 0h0m35 0h0m14 0h0m17 0h0m2 0h0m19 0h0m13 0h0m26 0h0m16 0h0m8 0h0m55 0h0m18 0h0m3 0h0m54 0h0m21 0h0m34 0h0m12 0h0m25 0h0m23 0h0m2 0h0m14 0h0m26 0h0m14 0h0m68 0h0m26 0h0m24 0h0m5 0h0m19 0h0m13 0h0m14 0h0m5 0h0m19 0h0m5 0h0m27 0h0m62 0h0m17 0h0m1 0h0m-976 1h0m87 0h0m9 0h0m9 0h0m10 0h0m11 0h0m13 0h0m22 0h0m8 0h0m2 0h0m14 0h0m45 0h0m61 0h0m4 0h0m12 0h0m22 0h0m18 0h0m7 0h0m6 0h0m11 0h0m43 0h0m4 0h0m12 0h0m25 0h0m4 0h0m71 0h0m2 0h0m23 0h0m13 0h0m16 0h0m11 0h0m7 0h0m18 0h0m24 0h0m55 0h0m15 0h0m6 0h0m38 0h0m94 0h0m29 0h0m-926 1h0m108 0h0m78 0h0m6 0h0m13 0h0m7 0h0m2 0h0m28 0h0m7 0h0m2 0h0m22 0h0m4 0h0m1 0h0m12 0h0m3 0h0m41 0h0m23 0h0m5 0h0m16 0h0m5 0h0m18 0h0m14 0h0m4 0h0m8 0h0m9 0h0m22 0h0m5 0h0m10 0h0m3 0h0m12 0h0m13 0h0m26 0h0m29 0h0m9 0h0m41 0h0m9 0h0m15 0h0m22 0h0m26 0h0m5 0h0m2 0h0m3 0h0m2 0h0m3 0h0m34 0h0m23 0h0m51 0h0m1 0h0m11 0h0m11 0h0m28 0h0m9 0h0m8 0h0m10 0h0m14 0h0m59 0h0m19 0h0m-945 1h0m139 0h0m24 0h0m23 0h0m9 0h0m17 0h0m11 0h0m13 0h0m8 0h0m29 0h0m21 0h0m34 0h0m25 0h0m40 0h0m47 0h0m18 0h0m28 0h0m38 0h0m5 0h0m16 0h0m30 0h0m46 0h0m34 0h0m32 0h0m4 0h0m4 0h0m14 0h0m39 0h0m3 0h0m21 0h0m14 0h0m41 0h0m21 0h0m43 0h0m1 0h0m9 0h0m68 0h0m64 0h0m4 0h0m6 0h0m-1064 1h0m95 0h0m11 0h0m9 0h0m4 0h0m8 0h0m8 0h0m21 0h0m10 0h0m12 0h0m28 0h0m25 0h0m3 0h0m7 0h0m7 0h0m8 0h0m9 0h0m23 0h0m20 0h0m13 0h0m20 0h0m25 0h0m70 0h0m23 0h0m9 0h0m14 0h0m61 0h0m5 0h0m10 0h0m19 0h0m12 0h0m44 0h0m1 0h0m11 0h0m20 0h0m25 0h0m9 0h0m26 0h0m5 0h0m8 0h0m56 0h0m87 0h0m55 0h0m31 0h0m85 0h0m-1064 1h0m8 0h0m5 0h0m54 0h0m6 0h0m59 0h0m37 0h0m13 0h0m38 0h0m21 0h0m20 0h0m19 0h0m32 0h0m14 0h0m41 0h0m84 0h0m70 0h0m4 0h0m36 0h0m27 0h0m12 0h0m24 0h0m45 0h0m1 0h0m10 0h0m20 0h0m33 0h0m73 0h0m8 0h0m32 0h0m7 0h0m5 0h0m12 0h0m13 0h0m76 0h0m42 0h0m-988 1h0m56 0h0m17 0h0m28 0h0m9 0h0m9 0h0m26 0h0m31 0h0m13 0h0m13 0h0m21 0h0m28 0h0m2 0h0m3 0h0m3 0h0m24 0h0m29 0h0m38 0h0m4 0h0m10 0h0m26 0h0m26 0h0m49 0h0m6 0h0m7 0h0m32 0h0m4 0h0m5 0h0m47 0h0m28 0h0m10 0h0m7 0h0m26 0h0m1 0h0m26 0h0m33 0h0m4 0h0m18 0h0m47 0h0m6 0h0m108 0h0m9 0h0m3 0h0m5 0h0m41 0h0m47 0h0m30 0h0m-941 1h0m32 0h0m8 0h0m34 0h0m15 0h0m24 0h0m18 0h0m44 0h0m29 0h0m24 0h0m12 0h0m22 0h0m4 0h0m5 0h0m21 0h0m4 0h0m17 0h0m7 0h0m2 0h0m6 0h0m7 0h0m62 0h0m4 0h0m8 0h0m3 0h0m63 0h0m12 0h0m3 0h0m1 0h0m45 0h0m2 0h0m21 0h0m27 0h0m6 0h0m6 0h0m4 0h0m7 0h0m2 0h0m4 0h0m53 0h0m10 0h0m24 0h0m5 0h0m1 0h0m15 0h0m42 0h0m10 0h0m4 0h0m2 0h0m24 0h0m14 0h0m10 0h0m16 0h0m51 0h0m47 0h0m31 0h0m-1059 1h0m37 0h0m1 0h0m8 0h0m15 0h0m9 0h0m14 0h0m46 0h0m14 0h0m8 0h0m4 0h0m20 0h0m15 0h0m6 0h0m16 0h0m1 0h0m34 0h0m1 0h0m9 0h0m8 0h0m59 0h0m5 0h0m6 0h0m10 0h0m21 0h0m10 0h0m41 0h0m7 0h0m14 0h0m7 0h0m5 0h0m11 0h0m20 0h0m13 0h0m16 0h0m40 0h0m5 0h0m12 0h0m33 0h0m20 0h0m63 0h0m28 0h0m39 0h0m16 0h0m32 0h0m37 0h0m13 0h0m10 0h0m50 0h0m106 0h0m11 0h0m-1018 1h0m59 0h0m128 0h0m5 0h0m88 0h0m28 0h0m76 0h0m18 0h0m45 0h0m62 0h0m39 0h0m1 0h0m16 0h0m58 0h0m6 0h0m21 0h0m9 0h0m7 0h0m18 0h0m10 0h0m12 0h0m12 0h0m10 0h0m25 0h0m16 0h0m5 0h0m45 0h0m19 0h0m8 0h0m10 0h0m2 0h0m8 0h0m30 0h0m63 0h0m12 0h0m49 0h0m-983 1h0m31 0h0m1 0h0m3 0h0m4 0h0m31 0h0m14 0h0m7 0h0m8 0h0m25 0h0m26 0h0m4 0h0m2 0h0m49 0h0m44 0h0m40 0h0m4 0h0m6 0h0m1 0h0m8 0h0m3 0h0m32 0h0m53 0h0m12 0h0m24 0h0m11 0h0m7 0h0m3 0h0m85 0h0m9 0h0m23 0h0m3 0h0m11 0h0m8 0h0m27 0h0m4 0h0m40 0h0m5 0h0m26 0h0m7 0h0m6 0h0m29 0h0m7 0h0m1 0h0m11 0h0m14 0h0m15 0h0m3 0h0m2 0h0m21 0h0m25 0h0m1 0h0m15 0h0m11 0h0m22 0h0m42 0h0m5 0h0m2 0h0m39 0h0m3 0h0m11 0h0m20 0h0m-988 1h0m11 0h0m8 0h0m1 0h0m1 0h0m85 0h0m140 0h0m15 0h0m63 0h0m9 0h0m5 0h0m20 0h0m41 0h0m10 0h0m7 0h0m33 0h0m3 0h0m2 0h0m8 0h0m20 0h0m34 0h0m18 0h0m2 0h0m17 0h0m11 0h0m19 0h0m57 0h0m16 0h0m8 0h0m3 0h0m20 0h0m13 0h0m52 0h0m81 0h0m6 0h0m70 0h0m-926 1h0m61 0h0m25 0h0m3 0h0m34 0h0m1 0h0m22 0h0m16 0h0m7 0h0m6 0h0m4 0h0m20 0h0m12 0h0m7 0h0m17 0h0m85 0h0m11 0h0m1 0h0m21 0h0m17 0h0m1 0h0m33 0h0m5 0h0m5 0h0m49 0h0m16 0h0m10 0h0m29 0h0m7 0h0m7 0h0m6 0h0m21 0h0m28 0h0m14 0h0m3 0h0m27 0h0m25 0h0m18 0h0m38 0h0m42 0h0m46 0h0m33 0h0m2 0h0m2 0h0m14 0h0m17 0h0m58 0h0m7 0h0m15 0h0m57 0h0m-1045 1h0m58 0h0m10 0h0m4 0h0m10 0h0m39 0h0m11 0h0m14 0h0m4 0h0m4 0h0m8 0h0m11 0h0m31 0h0m11 0h0m12 0h0m8 0h0m4 0h0m2 0h0m61 0h0m44 0h0m3 0h0m13 0h0m9 0h0m76 0h0m10 0h0m1 0h0m43 0h0m14 0h0m13 0h0m20 0h0m1 0h0m2 0h0m11 0h0m27 0h0m29 0h0m12 0h0m22 0h0m2 0h0m2 0h0m42 0h0m10 0h0m53 0h0m5 0h0m14 0h0m51 0h0m9 0h0m19 0h0m11 0h0m28 0h0m12 0h0m53 0h0m12 0h0m3 0h0m17 0h0m3 0h0m21 0h0m3 0h0m8 0h0m-991 1h0m12 0h0m2 0h0m1 0h0m2 0h0m2 0h0m52 0h0m9 0h0m4 0h0m6 0h0m28 0h0m2 0h0m4 0h0m7 0h0m9 0h0m4 0h0m3 0h0m23 0h0m41 0h0m30 0h0m42 0h0m11 0h0m7 0h0m24 0h0m9 0h0m12 0h0m6 0h0m35 0h0m26 0h0m25 0h0m46 0h0m11 0h0m14 0h0m26 0h0m9 0h0m11 0h0m3 0h0m2 0h0m9 0h0m93 0h0m7 0h0m31 0h0m4 0h0m8 0h0m28 0h0m6 0h0m15 0h0m16 0h0m1 0h0m13 0h0m24 0h0m5 0h0m15 0h0m2 0h0m4 0h0m8 0h0m5 0h0m43 0h0m5 0h0m39 0h0m18 0h0m25 0h0m2 0h0m6 0h0m-1034 1h0m9 0h0m43 0h0m4 0h0m45 0h0m129 0h0m26 0h0m20 0h0m6 0h0m4 0h0m8 0h0m2 0h0m2 0h0m11 0h0m11 0h0m15 0h0m4 0h0m31 0h0m48 0h0m3 0h0m17 0h0m3 0h0m39 0h0m9 0h0m1 0h0m22 0h0m50 0h0m42 0h0m63 0h0m31 0h0m28 0h0m11 0h0m2 0h0m8 0h0m12 0h0m37 0h0m28 0h0m46 0h0m39 0h0m1 0h0m4 0h0m5 0h0m3 0h0m44 0h0m39 0h0m27 0h0m4 0h0m10 0h0m-943 1h0m29 0h0m36 0h0m2 0h0m15 0h0m13 0h0m10 0h0m58 0h0m35 0h0m15 0h0m25 0h0m9 0h0m20 0h0m12 0h0m18 0h0m11 0h0m12 0h0m4 0h0m38 0h0m5 0h0m3 0h0m1 0h0m27 0h0m24 0h0m7 0h0m1 0h0m20 0h0m80 0h0m21 0h0m54 0h0m20 0h0m1 0h0m22 0h0m7 0h0m25 0h0m14 0h0m17 0h0m8 0h0m33 0h0m58 0h0m3 0h0m2 0h0m39 0h0m12 0h0m2 0h0m9 0h0m19 0h0m35 0h0m3 0h0m-1037 1h0m1 0h0m73 0h0m18 0h0m26 0h0m35 0h0m35 0h0m25 0h0m3 0h0m30 0h0m52 0h0m42 0h0m13 0h0m12 0h0m10 0h0m1 0h0m42 0h0m2 0h0m3 0h0m64 0h0m12 0h0m36 0h0m33 0h0m14 0h0m27 0h0m4 0h0m13 0h0m18 0h0m2 0h0m87 0h0m6 0h0m1 0h0m4 0h0m18 0h0m9 0h0m9 0h0m2 0h0m17 0h0m10 0h0m32 0h0m10 0h0m1 0h0m1 0h0m29 0h0m4 0h0m40 0h0m32 0h0m68 0h0m7 0h0m2 0h0m-979 1h0m3 0h0m33 0h0m11 0h0m11 0h0m3 0h0m17 0h0m61 0h0m43 0h0m61 0h0m2 0h0m31 0h0m10 0h0m27 0h0m1 0h0m24 0h0m20 0h0m14 0h0m26 0h0m9 0h0m43 0h0m35 0h0m9 0h0m28 0h0m12 0h0m1 0h0m21 0h0m31 0h0m8 0h0m7 0h0m11 0h0m6 0h0m8 0h0m11 0h0m13 0h0m16 0h0m10 0h0m2 0h0m42 0h0m7 0h0m4 0h0m23 0h0m5 0h0m46 0h0m9 0h0m34 0h0m25 0h0m6 0h0m25 0h0m51 0h0m18 0h0m7 0h0m-1039 1h0m44 0h0m16 0h0m46 0h0m4 0h0m35 0h0m1 0h0m25 0h0m40 0h0m2 0h0m15 0h0m10 0h0m11 0h0m33 0h0m50 0h0m50 0h0m63 0h0m10 0h0m2 0h0m14 0h0m42 0h0m9 0h0m3 0h0m46 0h0m5 0h0m46 0h0m7 0h0m5 0h0m55 0h0m45 0h0m6 0h0m2 0h0m7 0h0m4 0h0m37 0h0m11 0h0m1 0h0m9 0h0m8 0h0m13 0h0m36 0h0m28 0h0m6 0h0m8 0h0m3 0h0m23 0h0m19 0h0m6 0h0m14 0h0m1 0h0m20 0h0m37 0h0m-974 1h0m33 0h0m26 0h0m23 0h0m7 0h0m5 0h0m17 0h0m2 0h0m50 0h0m26 0h0m33 0h0m36 0h0m12 0h0m7 0h0m19 0h0m5 0h0m16 0h0m12 0h0m12 0h0m33 0h0m38 0h0m15 0h0m19 0h0m13 0h0m104 0h0m3 0h0m40 0h0m15 0h0m47 0h0m4 0h0m14 0h0m8 0h0m16 0h0m2 0h0m60 0h0m24 0h0m26 0h0m49 0h0m3 0h0m3 0h0m100 0h0m-1029 1h0m52 0h0m33 0h0m6 0h0m24 0h0m12 0h0m50 0h0m47 0h0m27 0h0m12 0h0m7 0h0m9 0h0m1 0h0m11 0h0m3 0h0m1 0h0m3 0h0m41 0h0m4 0h0m10 0h0m17 0h0m3 0h0m4 0h0m19 0h0m2 0h0m14 0h0m40 0h0m19 0h0m6 0h0m11 0h0m14 0h0m10 0h0m4 0h0m7 0h0m19 0h0m14 0h0m52 0h0m15 0h0m20 0h0m44 0h0m9 0h0m34 0h0m5 0h0m4 0h0m6 0h0m23 0h0m7 0h0m5 0h0m9 0h0m2 0h0m8 0h0m66 0h0m3 0h0m47 0h0m51 0h0m17 0h0m7 0h0m36 0h0m1 0h0m4 0h0m-949 1h0m1 0h0m7 0h0m64 0h0m8 0h0m12 0h0m5 0h0m1 0h0m39 0h0m34 0h0m1 0h0m13 0h0m1 0h0m10 0h0m15 0h0m16 0h0m8 0h0m33 0h0m2 0h0m5 0h0m20 0h0m3 0h0m34 0h0m61 0h0m3 0h0m20 0h0m43 0h0m5 0h0m28 0h0m5 0h0m29 0h0m23 0h0m39 0h0m4 0h0m23 0h0m26 0h0m4 0h0m5 0h0m63 0h0m19 0h0m5 0h0m1 0h0m18 0h0m8 0h0m30 0h0m12 0h0m3 0h0m12 0h0m7 0h0m5 0h0m17 0h0m94 0h0m2 0h0m5 0h0m-927 1h0m27 0h0m77 0h0m4 0h0m34 0h0m15 0h0m11 0h0m4 0h0m20 0h0m51 0h0m21 0h0m19 0h0m4 0h0m7 0h0m9 0h0m19 0h0m18 0h0m39 0h0m3 0h0m31 0h0m57 0h0m51 0h0m10 0h0m29 0h0m31 0h0m9 0h0m32 0h0m68 0h0m22 0h0m21 0h0m2 0h0m6 0h0m3 0h0m5 0h0m7 0h0m10 0h0m56 0h0m15 0h0m14 0h0m2 0h0m16 0h0m5 0h0m40 0h0m2 0h0m2 0h0m-1044 1h0m6 0h0m1 0h0m1 0h0m31 0h0m41 0h0m16 0h0m5 0h0m1 0h0m55 0h0m16 0h0m8 0h0m8 0h0m5 0h0m2 0h0m16 0h0m49 0h0m73 0h0m15 0h0m13 0h0m15 0h0m20 0h0m16 0h0m7 0h0m14 0h0m3 0h0m55 0h0m56 0h0m15 0h0m2 0h0m3 0h0m29 0h0m105 0h0m22 0h0m33 0h0m23 0h0m14 0h0m10 0h0m42 0h0m50 0h0m20 0h0m16 0h0m29 0h0m75 0h0m4 0h0m-906 1h0m41 0h0m38 0h0m15 0h0m28 0h0m26 0h0m12 0h0m8 0h0m49 0h0m31 0h0m9 0h0m3 0h0m73 0h0m7 0h0m23 0h0m20 0h0m35 0h0m14 0h0m30 0h0m6 0h0m6 0h0m2 0h0m69 0h0m52 0h0m5 0h0m3 0h0m57 0h0m26 0h0m45 0h0m9 0h0m24 0h0m16 0h0m2 0h0m50 0h0m11 0h0m3 0h0m59 0h0m-1036 1h0m4 0h0m5 0h0m1 0h0m24 0h0m53 0h0m57 0h0m8 0h0m67 0h0m11 0h0m7 0h0m10 0h0m48 0h0m6 0h0m48 0h0m6 0h0m30 0h0m71 0h0m21 0h0m21 0h0m25 0h0m4 0h0m33 0h0m1 0h0m26 0h0m8 0h0m16 0h0m17 0h0m3 0h0m1 0h0m1 0h0m2 0h0m4 0h0m25 0h0m1 0h0m4 0h0m90 0h0m40 0h0m18 0h0m80 0h0m13 0h0m50 0h0m39 0h0m41 0h0m-1034 1h0m1 0h0m54 0h0m3 0h0m40 0h0m87 0h0m7 0h0m2 0h0m3 0h0m20 0h0m9 0h0m1 0h0m6 0h0m3 0h0m2 0h0m16 0h0m71 0h0m43 0h0m8 0h0m1 0h0m4 0h0m42 0h0m14 0h0m5 0h0m15 0h0m2 0h0m8 0h0m8 0h0m5 0h0m8 0h0m3 0h0m55 0h0m17 0h0m2 0h0m3 0h0m2 0h0m96 0h0m25 0h0m20 0h0m9 0h0m9 0h0m27 0h0m14 0h0m4 0h0m33 0h0m14 0h0m11 0h0m17 0h0m16 0h0m8 0h0m62 0h0m91 0h0m2 0h0m5 0h0m4 0h0m-1037 1h0m1 0h0m122 0h0m22 0h0m25 0h0m10 0h0m31 0h0m4 0h0m1 0h0m8 0h0m37 0h0m8 0h0m9 0h0m50 0h0m1 0h0m82 0h0m34 0h0m20 0h0m47 0h0m41 0h0m12 0h0m23 0h0m8 0h0m5 0h0m1 0h0m2 0h0m3 0h0m15 0h0m1 0h0m34 0h0m82 0h0m6 0h0m18 0h0m23 0h0m14 0h0m24 0h0m45 0h0m13 0h0m4 0h0m7 0h0m45 0h0m24 0h0m6 0h0m2 0h0m11 0h0m7 0h0m1 0h0m37 0h0m3 0h0m4 0h0m-1010 1h0m23 0h0m54 0h0m23 0h0m62 0h0m24 0h0m7 0h0m21 0h0m3 0h0m29 0h0m11 0h0m26 0h0m7 0h0m36 0h0m23 0h0m1 0h0m3 0h0m27 0h0m21 0h0m14 0h0m63 0h0m40 0h0m12 0h0m5 0h0m8 0h0m2 0h0m14 0h0m20 0h0m14 0h0m9 0h0m5 0h0m10 0h0m24 0h0m6 0h0m25 0h0m6 0h0m44 0h0m3 0h0m12 0h0m5 0h0m19 0h0m1 0h0m3 0h0m36 0h0m41 0h0m8 0h0m6 0h0m3 0h0m19 0h0m55 0h0m33 0h0m-992 1h0m43 0h0m1 0h0m17 0h0m42 0h0m22 0h0m16 0h0m49 0h0m7 0h0m42 0h0m8 0h0m16 0h0m64 0h0m27 0h0m77 0h0m29 0h0m9 0h0m2 0h0m32 0h0m5 0h0m42 0h0m10 0h0m34 0h0m28 0h0m25 0h0m2 0h0m8 0h0m8 0h0m3 0h0m17 0h0m33 0h0m1 0h0m7 0h0m1 0h0m13 0h0m23 0h0m4 0h0m7 0h0m13 0h0m47 0h0m10 0h0m26 0h0m66 0h0m26 0h0m1 0h0m28 0h0m23 0h0m-1010 1h0m58 0h0m40 0h0m38 0h0m13 0h0m42 0h0m5 0h0m17 0h0m22 0h0m51 0h0m25 0h0m18 0h0m42 0h0m11 0h0m3 0h0m5 0h0m7 0h0m13 0h0m9 0h0m8 0h0m4 0h0m3 0h0m72 0h0m1 0h0m9 0h0m7 0h0m20 0h0m58 0h0m11 0h0m2 0h0m67 0h0m11 0h0m4 0h0m26 0h0m30 0h0m2 0h0m10 0h0m26 0h0m4 0h0m8 0h0m1 0h0m11 0h0m6 0h0m40 0h0m4 0h0m42 0h0m6 0h0m24 0h0m2 0h0m22 0h0m49 0h0m8 0h0m-974 1h0m145 0h0m10 0h0m2 0h0m6 0h0m21 0h0m12 0h0m7 0h0m7 0h0m6 0h0m3 0h0m6 0h0m68 0h0m60 0h0m3 0h0m38 0h0m38 0h0m17 0h0m31 0h0m10 0h0m18 0h0m15 0h0m51 0h0m39 0h0m16 0h0m2 0h0m6 0h0m43 0h0m36 0h0m7 0h0m12 0h0m37 0h0m6 0h0m4 0h0m7 0h0m4 0h0m150 0h0m1 0h0m-882 1h0m6 0h0m10 0h0m100 0h0m3 0h0m1 0h0m34 0h0m9 0h0m1 0h0m38 0h0m19 0h0m73 0h0m8 0h0m15 0h0m7 0h0m36 0h0m3 0h0m2 0h0m28 0h0m7 0h0m1 0h0m10 0h0m37 0h0m11 0h0m12 0h0m4 0h0m15 0h0m6 0h0m33 0h0m7 0h0m16 0h0m12 0h0m6 0h0m26 0h0m5 0h0m3 0h0m2 0h0m3 0h0m2 0h0m9 0h0m4 0h0m32 0h0m9 0h0m7 0h0m7 0h0m12 0h0m3 0h0m3 0h0m61 0h0m13 0h0m16 0h0m2 0h0m20 0h0m2 0h0m22 0h0m57 0h0m-934 1h0m41 0h0m5 0h0m1 0h0m19 0h0m4 0h0m2 0h0m8 0h0m1 0h0m6 0h0m20 0h0m55 0h0m3 0h0m55 0h0m11 0h0m3 0h0m2 0h0m23 0h0m43 0h0m18 0h0m11 0h0m35 0h0m10 0h0m26 0h0m40 0h0m18 0h0m2 0h0m24 0h0m12 0h0m14 0h0m4 0h0m36 0h0m45 0h0m56 0h0m30 0h0m18 0h0m29 0h0m9 0h0m45 0h0m1 0h0m59 0h0m43 0h0m-945 1h0m35 0h0m6 0h0m5 0h0m115 0h0m2 0h0m21 0h0m9 0h0m32 0h0m4 0h0m2 0h0m1 0h0m10 0h0m23 0h0m43 0h0m49 0h0m13 0h0m1 0h0m15 0h0m1 0h0m13 0h0m12 0h0m2 0h0m93 0h0m75 0h0m14 0h0m9 0h0m5 0h0m63 0h0m5 0h0m12 0h0m4 0h0m23 0h0m28 0h0m10 0h0m30 0h0m2 0h0m3 0h0m14 0h0m12 0h0m5 0h0m22 0h0m25 0h0m21 0h0m2 0h0m16 0h0m32 0h0m1 0h0m2 0h0m67 0h0m6 0h0m1 0h0m-1024 1h0m51 0h0m51 0h0m5 0h0m1 0h0m1 0h0m2 0h0m80 0h0m3 0h0m17 0h0m7 0h0m24 0h0m16 0h0m56 0h0m23 0h0m7 0h0m2 0h0m9 0h0m25 0h0m50 0h0m30 0h0m12 0h0m8 0h0m35 0h0m1 0h0m21 0h0m10 0h0m39 0h0m5 0h0m12 0h0m28 0h0m27 0h0m22 0h0m2 0h0m50 0h0m10 0h0m3 0h0m7 0h0m5 0h0m7 0h0m16 0h0m3 0h0m31 0h0m7 0h0m49 0h0m3 0h0m19 0h0m23 0h0m5 0h0m33 0h0m3 0h0m38 0h0m7 0h0m-967 1h0m18 0h0m3 0h0m49 0h0m2 0h0m1 0h0m2 0h0m43 0h0m3 0h0m23 0h0m20 0h0m42 0h0m3 0h0m3 0h0m1 0h0m3 0h0m2 0h0m5 0h0m21 0h0m10 0h0m7 0h0m20 0h0m30 0h0m16 0h0m37 0h0m9 0h0m23 0h0m25 0h0m10 0h0m84 0h0m37 0h0m8 0h0m3 0h0m3 0h0m2 0h0m68 0h0m33 0h0m9 0h0m6 0h0m8 0h0m25 0h0m4 0h0m3 0h0m6 0h0m9 0h0m20 0h0m11 0h0m2 0h0m2 0h0m30 0h0m60 0h0m1 0h0m13 0h0m24 0h0m58 0h0m-984 1h0m89 0h0m11 0h0m32 0h0m32 0h0m21 0h0m20 0h0m17 0h0m18 0h0m17 0h0m37 0h0m7 0h0m31 0h0m5 0h0m10 0h0m1 0h0m3 0h0m25 0h0m6 0h0m1 0h0m7 0h0m13 0h0m8 0h0m63 0h0m15 0h0m3 0h0m37 0h0m13 0h0m14 0h0m16 0h0m10 0h0m43 0h0m9 0h0m14 0h0m1 0h0m37 0h0m1 0h0m3 0h0m16 0h0m11 0h0m132 0h0m6 0h0m22 0h0m19 0h0m48 0h0m-949 1h0m102 0h0m2 0h0m25 0h0m1 0h0m53 0h0m15 0h0m4 0h0m51 0h0m2 0h0m8 0h0m20 0h0m9 0h0m1 0h0m15 0h0m3 0h0m9 0h0m44 0h0m53 0h0m16 0h0m18 0h0m6 0h0m5 0h0m19 0h0m23 0h0m10 0h0m41 0h0m32 0h0m6 0h0m8 0h0m43 0h0m33 0h0m10 0h0m3 0h0m4 0h0m7 0h0m7 0h0m12 0h0m24 0h0m22 0h0m7 0h0m76 0h0m53 0h0m14 0h0m22 0h0m77 0h0m-966 1h0m138 0h0m10 0h0m26 0h0m11 0h0m3 0h0m31 0h0m29 0h0m4 0h0m6 0h0m1 0h0m34 0h0m1 0h0m9 0h0m2 0h0m6 0h0m20 0h0m4 0h0m19 0h0m8 0h0m9 0h0m20 0h0m19 0h0m24 0h0m4 0h0m43 0h0m19 0h0m40 0h0m39 0h0m4 0h0m12 0h0m31 0h0m3 0h0m7 0h0m11 0h0m11 0h0m20 0h0m67 0h0m4 0h0m7 0h0m27 0h0m8 0h0m105 0h0m21 0h0m-873 1h0m35 0h0m1 0h0m3 0h0m37 0h0m11 0h0m6 0h0m11 0h0m9 0h0m4 0h0m6 0h0m22 0h0m29 0h0m84 0h0m12 0h0m13 0h0m1 0h0m11 0h0m12 0h0m18 0h0m2 0h0m5 0h0m3 0h0m10 0h0m9 0h0m29 0h0m2 0h0m33 0h0m43 0h0m12 0h0m7 0h0m4 0h0m19 0h0m1 0h0m29 0h0m10 0h0m14 0h0m133 0h0m4 0h0m2 0h0m36 0h0m9 0h0m4 0h0m5 0h0m4 0h0m30 0h0m54 0h0m30 0h0m15 0h0m1 0h0m16 0h0m-964 1h0m50 0h0m24 0h0m4 0h0m26 0h0m10 0h0m2 0h0m56 0h0m4 0h0m25 0h0m9 0h0m3 0h0m2 0h0m15 0h0m24 0h0m5 0h0m12 0h0m35 0h0m45 0h0m46 0h0m10 0h0m8 0h0m16 0h0m2 0h0m65 0h0m2 0h0m12 0h0m22 0h0m5 0h0m17 0h0m15 0h0m17 0h0m27 0h0m19 0h0m14 0h0m8 0h0m7 0h0m1 0h0m1 0h0m18 0h0m34 0h0m15 0h0m34 0h0m28 0h0m4 0h0m43 0h0m7 0h0m39 0h0m18 0h0m6 0h0m37 0h0m2 0h0m2 0h0m-954 1h0m76 0h0m1 0h0m35 0h0m23 0h0m28 0h0m14 0h0m16 0h0m82 0h0m33 0h0m24 0h0m21 0h0m52 0h0m68 0h0m4 0h0m37 0h0m47 0h0m3 0h0m26 0h0m4 0h0m21 0h0m45 0h0m73 0h0m48 0h0m19 0h0m4 0h0m13 0h0m31 0h0m6 0h0m-854 1h0m4 0h0m69 0h0m38 0h0m21 0h0m2 0h0m20 0h0m33 0h0m1 0h0m48 0h0m30 0h0m38 0h0m3 0h0m20 0h0m3 0h0m11 0h0m51 0h0m31 0h0m32 0h0m43 0h0m13 0h0m48 0h0m12 0h0m93 0h0m30 0h0m24 0h0m3 0h0m42 0h0m7 0h0m13 0h0m14 0h0m16 0h0m12 0h0m48 0h0m-763 1h0m3 0h0m14 0h0m20 0h0m58 0h0m17 0h0m36 0h0m46 0h0m2 0h0m3 0h0m11 0h0m33 0h0m7 0h0m54 0h0m3 0h0m9 0h0m16 0h0m19 0h0m11 0h0m46 0h0m8 0h0m1 0h0m26 0h0m2 0h0m2 0h0m20 0h0m10 0h0m24 0h0m8 0h0m13 0h0m15 0h0m17 0h0m3 0h0m20 0h0m8 0h0m14 0h0m21 0h0m68 0h0m21 0h0m27 0h0m17 0h0m9 0h0m1 0h0m2 0h0m31 0h0m20 0h0m68 0h0m-983 1h0m29 0h0m8 0h0m43 0h0m31 0h0m10 0h0m52 0h0m2 0h0m28 0h0m44 0h0m2 0h0m6 0h0m14 0h0m34 0h0m37 0h0m14 0h0m31 0h0m4 0h0m3 0h0m67 0h0m54 0h0m10 0h0m15 0h0m21 0h0m3 0h0m22 0h0m20 0h0m6 0h0m11 0h0m40 0h0m19 0h0m7 0h0m1 0h0m12 0h0m65 0h0m4 0h0m3 0h0m9 0h0m23 0h0m1 0h0m2 0h0m10 0h0m78 0h0m19 0h0m-918 1h0m39 0h0m1 0h0m10 0h0m14 0h0m8 0h0m57 0h0m22 0h0m2 0h0m2 0h0m18 0h0m15 0h0m18 0h0m24 0h0m19 0h0m13 0h0m22 0h0m9 0h0m18 0h0m3 0h0m9 0h0m13 0h0m3 0h0m25 0h0m4 0h0m5 0h0m16 0h0m2 0h0m2 0h0m12 0h0m16 0h0m32 0h0m14 0h0m9 0h0m47 0h0m1 0h0m27 0h0m4 0h0m2 0h0m16 0h0m21 0h0m22 0h0m2 0h0m5 0h0m8 0h0m5 0h0m12 0h0m31 0h0m19 0h0m50 0h0m21 0h0m29 0h0m2 0h0m12 0h0m18 0h0m2 0h0m64 0h0m15 0h0m19 0h0m32 0h0m-968 1h0m118 0h0m45 0h0m2 0h0m34 0h0m8 0h0m12 0h0m3 0h0m45 0h0m2 0h0m7 0h0m22 0h0m12 0h0m24 0h0m16 0h0m5 0h0m11 0h0m39 0h0m39 0h0m35 0h0m41 0h0m9 0h0m12 0h0m6 0h0m4 0h0m21 0h0m6 0h0m50 0h0m34 0h0m28 0h0m29 0h0m4 0h0m6 0h0m35 0h0m10 0h0m1 0h0m67 0h0m6 0h0m4 0h0m10 0h0m-832 1h0m13 0h0m44 0h0m32 0h0m13 0h0m3 0h0m4 0h0m75 0h0m2 0h0m3 0h0m7 0h0m54 0h0m18 0h0m8 0h0m16 0h0m27 0h0m58 0h0m14 0h0m1 0h0m3 0h0m29 0h0m36 0h0m20 0h0m18 0h0m11 0h0m18 0h0m13 0h0m25 0h0m21 0h0m7 0h0m26 0h0m2 0h0m5 0h0m1 0h0m14 0h0m10 0h0m9 0h0m3 0h0m3 0h0m29 0h0m11 0h0m2 0h0m82 0h0m5 0h0m-686 1h0m2 0h0m71 0h0m13 0h0m26 0h0m4 0h0m8 0h0m13 0h0m2 0h0m21 0h0m9 0h0m52 0h0m16 0h0m13 0h0m19 0h0m16 0h0m21 0h0m2 0h0m19 0h0m13 0h0m13 0h0m8 0h0m3 0h0m43 0h0m7 0h0m21 0h0m10 0h0m16 0h0m59 0h0m1 0h0m8 0h0m22 0h0m5 0h0m3 0h0m16 0h0m28 0h0m48 0h0m2 0h0m48 0h0m21 0h0m7 0h0m32 0h0m9 0h0m-928 1h0m51 0h0m16 0h0m2 0h0m36 0h0m56 0h0m16 0h0m4 0h0m8 0h0m38 0h0m38 0h0m8 0h0m23 0h0m5 0h0m7 0h0m3 0h0m17 0h0m14 0h0m8 0h0m2 0h0m13 0h0m13 0h0m26 0h0m26 0h0m46 0h0m17 0h0m33 0h0m14 0h0m6 0h0m8 0h0m19 0h0m4 0h0m39 0h0m79 0h0m7 0h0m23 0h0m1 0h0m43 0h0m1 0h0m6 0h0m26 0h0m15 0h0m6 0h0m4 0h0m9 0h0m26 0h0m29 0h0m90 0h0m31 0h0m-1013 1h0m65 0h0m3 0h0m38 0h0m24 0h0m12 0h0m19 0h0m14 0h0m1 0h0m5 0h0m46 0h0m2 0h0m1 0h0m6 0h0m7 0h0m2 0h0m8 0h0m2 0h0m9 0h0m2 0h0m14 0h0m17 0h0m24 0h0m30 0h0m13 0h0m6 0h0m60 0h0m10 0h0m12 0h0m8 0h0m39 0h0m13 0h0m4 0h0m5 0h0m16 0h0m28 0h0m47 0h0m1 0h0m23 0h0m25 0h0m12 0h0m49 0h0m6 0h0m7 0h0m10 0h0m4 0h0m1 0h0m18 0h0m38 0h0m4 0h0m63 0h0m2 0h0m26 0h0m14 0h0m25 0h0m45 0h0m-969 1h0m40 0h0m42 0h0m54 0h0m26 0h0m19 0h0m7 0h0m24 0h0m58 0h0m43 0h0m73 0h0m24 0h0m8 0h0m16 0h0m22 0h0m17 0h0m65 0h0m9 0h0m19 0h0m37 0h0m6 0h0m1 0h0m44 0h0m9 0h0m6 0h0m22 0h0m17 0h0m36 0h0m16 0h0m1 0h0m87 0h0m5 0h0m30 0h0m65 0h0m51 0h0m4 0h0m-1001 1h0m41 0h0m12 0h0m34 0h0m33 0h0m25 0h0m24 0h0m8 0h0m48 0h0m2 0h0m3 0h0m21 0h0m25 0h0m2 0h0m61 0h0m27 0h0m15 0h0m16 0h0m38 0h0m36 0h0m31 0h0m2 0h0m6 0h0m17 0h0m6 0h0m5 0h0m21 0h0m20 0h0m70 0h0m6 0h0m2 0h0m5 0h0m15 0h0m5 0h0m2 0h0m3 0h0m1 0h0m6 0h0m34 0h0m14 0h0m5 0h0m28 0h0m73 0h0m35 0h0m33 0h0m17 0h0m13 0h0m70 0h0m-1033 1h0m1 0h0m74 0h0m24 0h0m81 0h0m40 0h0m24 0h0m4 0h0m4 0h0m4 0h0m11 0h0m6 0h0m10 0h0m11 0h0m27 0h0m31 0h0m3 0h0m18 0h0m5 0h0m2 0h0m11 0h0m7 0h0m10 0h0m1 0h0m14 0h0m2 0h0m8 0h0m28 0h0m14 0h0m53 0h0m2 0h0m59 0h0m45 0h0m21 0h0m9 0h0m8 0h0m1 0h0m21 0h0m42 0h0m8 0h0m21 0h0m20 0h0m3 0h0m7 0h0m10 0h0m14 0h0m15 0h0m14 0h0m33 0h0m20 0h0m36 0h0m1 0h0m2 0h0m24 0h0m50 0h0m-1003 1h0m6 0h0m2 0h0m89 0h0m17 0h0m3 0h0m54 0h0m26 0h0m8 0h0m1 0h0m47 0h0m20 0h0m10 0h0m3 0h0m1 0h0m27 0h0m47 0h0m5 0h0m30 0h0m53 0h0m15 0h0m1 0h0m11 0h0m41 0h0m1 0h0m17 0h0m19 0h0m38 0h0m16 0h0m3 0h0m24 0h0m4 0h0m4 0h0m7 0h0m31 0h0m5 0h0m81 0h0m3 0h0m8 0h0m17 0h0m12 0h0m33 0h0m3 0h0m82 0h0m2 0h0m2 0h0m38 0h0m42 0h0m-1018 1h0m13 0h0m29 0h0m14 0h0m32 0h0m59 0h0m14 0h0m19 0h0m6 0h0m37 0h0m20 0h0m9 0h0m16 0h0m20 0h0m37 0h0m1 0h0m12 0h0m20 0h0m12 0h0m21 0h0m27 0h0m31 0h0m3 0h0m3 0h0m23 0h0m19 0h0m7 0h0m9 0h0m7 0h0m15 0h0m28 0h0m1 0h0m14 0h0m7 0h0m26 0h0m27 0h0m9 0h0m44 0h0m2 0h0m46 0h0m3 0h0m22 0h0m8 0h0m11 0h0m3 0h0m10 0h0m12 0h0m15 0h0m24 0h0m14 0h0m40 0h0m47 0h0m1 0h0m22 0h0m7 0h0m-967 1h0m2 0h0m29 0h0m16 0h0m61 0h0m4 0h0m5 0h0m8 0h0m14 0h0m1 0h0m2 0h0m74 0h0m9 0h0m5 0h0m26 0h0m6 0h0m60 0h0m8 0h0m5 0h0m30 0h0m122 0h0m19 0h0m46 0h0m22 0h0m1 0h0m16 0h0m11 0h0m14 0h0m31 0h0m24 0h0m18 0h0m14 0h0m4 0h0m4 0h0m32 0h0m41 0h0m33 0h0m5 0h0m29 0h0m16 0h0m8 0h0m14 0h0m34 0h0m7 0h0m17 0h0m5 0h0m10 0h0m6 0h0m-909 1h0m18 0h0m40 0h0m38 0h0m15 0h0m19 0h0m43 0h0m17 0h0m7 0h0m4 0h0m4 0h0m28 0h0m26 0h0m23 0h0m37 0h0m1 0h0m86 0h0m36 0h0m20 0h0m19 0h0m15 0h0m18 0h0m3 0h0m44 0h0m8 0h0m10 0h0m15 0h0m13 0h0m13 0h0m26 0h0m11 0h0m26 0h0m9 0h0m9 0h0m14 0h0m53 0h0m33 0h0m6 0h0m24 0h0m29 0h0m3 0h0m27 0h0m-952 1h0m35 0h0m49 0h0m41 0h0m10 0h0m18 0h0m18 0h0m27 0h0m49 0h0m10 0h0m7 0h0m12 0h0m19 0h0m37 0h0m23 0h0m85 0h0m53 0h0m10 0h0m29 0h0m5 0h0m5 0h0m3 0h0m42 0h0m27 0h0m26 0h0m3 0h0m120 0h0m8 0h0m69 0h0m16 0h0m86 0h0m-881 1h0m46 0h0m10 0h0m8 0h0m6 0h0m1 0h0m24 0h0m30 0h0m6 0h0m19 0h0m22 0h0m1 0h0m10 0h0m25 0h0m8 0h0m1 0h0m33 0h0m47 0h0m12 0h0m33 0h0m12 0h0m47 0h0m106 0h0m19 0h0m45 0h0m31 0h0m7 0h0m15 0h0m8 0h0m3 0h0m24 0h0m68 0h0m9 0h0m16 0h0m1 0h0m3 0h0m29 0h0m59 0h0m3 0h0m58 0h0m2 0h0m24 0h0m-978 1h0m92 0h0m11 0h0m9 0h0m12 0h0m33 0h0m22 0h0m10 0h0m10 0h0m37 0h0m14 0h0m10 0h0m6 0h0m52 0h0m72 0h0m2 0h0m2 0h0m5 0h0m1 0h0m17 0h0m25 0h0m2 0h0m25 0h0m25 0h0m1 0h0m56 0h0m13 0h0m12 0h0m18 0h0m13 0h0m10 0h0m38 0h0m13 0h0m6 0h0m15 0h0m5 0h0m2 0h0m17 0h0m2 0h0m9 0h0m4 0h0m1 0h0m7 0h0m55 0h0m2 0h0m20 0h0m51 0h0m13 0h0m14 0h0m31 0h0m31 0h0m24 0h0m-1001 1h0m12 0h0m7 0h0m39 0h0m60 0h0m38 0h0m2 0h0m7 0h0m5 0h0m24 0h0m9 0h0m9 0h0m28 0h0m10 0h0m13 0h0m44 0h0m3 0h0m33 0h0m25 0h0m9 0h0m18 0h0m5 0h0m1 0h0m6 0h0m14 0h0m29 0h0m6 0h0m48 0h0m19 0h0m96 0h0m21 0h0m21 0h0m2 0h0m7 0h0m1 0h0m37 0h0m9 0h0m3 0h0m14 0h0m43 0h0m10 0h0m4 0h0m30 0h0m84 0h0m6 0h0m6 0h0m55 0h0m3 0h0m14 0h0m-984 1h0m68 0h0m47 0h0m9 0h0m10 0h0m8 0h0m26 0h0m5 0h0m47 0h0m28 0h0m26 0h0m24 0h0m19 0h0m2 0h0m1 0h0m18 0h0m3 0h0m6 0h0m67 0h0m32 0h0m9 0h0m45 0h0m13 0h0m53 0h0m9 0h0m57 0h0m6 0h0m1 0h0m26 0h0m14 0h0m12 0h0m7 0h0m6 0h0m6 0h0m17 0h0m13 0h0m5 0h0m21 0h0m6 0h0m33 0h0m12 0h0m93 0h0m1 0h0m1 0h0m85 0h0m-1002 1h0m138 0h0m6 0h0m3 0h0m4 0h0m48 0h0m7 0h0m12 0h0m9 0h0m31 0h0m55 0h0m31 0h0m3 0h0m7 0h0m2 0h0m16 0h0m3 0h0m27 0h0m13 0h0m45 0h0m18 0h0m6 0h0m9 0h0m35 0h0m4 0h0m7 0h0m47 0h0m29 0h0m53 0h0m12 0h0m32 0h0m17 0h0m6 0h0m34 0h0m1 0h0m6 0h0m2 0h0m37 0h0m6 0h0m2 0h0m10 0h0m10 0h0m72 0h0m16 0h0m6 0h0m4 0h0m47 0h0m-915 1h0m46 0h0m9 0h0m9 0h0m8 0h0m18 0h0m7 0h0m1 0h0m34 0h0m8 0h0m38 0h0m44 0h0m1 0h0m31 0h0m23 0h0m22 0h0m7 0h0m1 0h0m24 0h0m44 0h0m25 0h0m13 0h0m4 0h0m30 0h0m32 0h0m46 0h0m38 0h0m11 0h0m52 0h0m2 0h0m8 0h0m13 0h0m2 0h0m8 0h0m10 0h0m13 0h0m2 0h0m2 0h0m36 0h0m66 0h0m11 0h0m3 0h0m8 0h0m36 0h0m23 0h0m1 0h0m2 0h0m4 0h0m6 0h0m19 0h0m11 0h0m16 0h0m-937 1h0m2 0h0m50 0h0m16 0h0m3 0h0m2 0h0m6 0h0m2 0h0m17 0h0m49 0h0m18 0h0m4 0h0m14 0h0m35 0h0m16 0h0m46 0h0m25 0h0m35 0h0m42 0h0m94 0h0m80 0h0m4 0h0m24 0h0m7 0h0m44 0h0m39 0h0m54 0h0m8 0h0m37 0h0m8 0h0m3 0h0m7 0h0m31 0h0m49 0h0m-902 1h0m102 0h0m14 0h0m15 0h0m8 0h0m1 0h0m16 0h0m18 0h0m44 0h0m68 0h0m8 0h0m13 0h0m24 0h0m31 0h0m14 0h0m31 0h0m11 0h0m4 0h0m25 0h0m28 0h0m11 0h0m18 0h0m7 0h0m5 0h0m29 0h0m31 0h0m10 0h0m1 0h0m4 0h0m42 0h0m16 0h0m5 0h0m3 0h0m2 0h0m28 0h0m78 0h0m42 0h0m80 0h0m64 0h0m-951 1h0m11 0h0m20 0h0m3 0h0m57 0h0m5 0h0m8 0h0m58 0h0m3 0h0m26 0h0m18 0h0m3 0h0m60 0h0m7 0h0m3 0h0m2 0h0m4 0h0m11 0h0m2 0h0m36 0h0m5 0h0m11 0h0m37 0h0m51 0h0m12 0h0m4 0h0m14 0h0m5 0h0m5 0h0m34 0h0m18 0h0m38 0h0m21 0h0m5 0h0m18 0h0m26 0h0m14 0h0m14 0h0m22 0h0m1 0h0m10 0h0m25 0h0m18 0h0m18 0h0m12 0h0m6 0h0m5 0h0m20 0h0m14 0h0m75 0h0m-885 1h0m68 0h0m8 0h0m16 0h0m16 0h0m12 0h0m42 0h0m5 0h0m1 0h0m34 0h0m4 0h0m6 0h0m17 0h0m13 0h0m4 0h0m8 0h0m50 0h0m13 0h0m3 0h0m6 0h0m18 0h0m41 0h0m36 0h0m10 0h0m16 0h0m9 0h0m4 0h0m16 0h0m5 0h0m3 0h0m48 0h0m7 0h0m11 0h0m6 0h0m7 0h0m10 0h0m5 0h0m1 0h0m4 0h0m39 0h0m35 0h0m3 0h0m24 0h0m56 0h0m1 0h0m43 0h0m7 0h0m4 0h0m15 0h0m76 0h0m16 0h0m10 0h0m-896 1h0m32 0h0m20 0h0m22 0h0m5 0h0m7 0h0m15 0h0m5 0h0m8 0h0m11 0h0m8 0h0m9 0h0m46 0h0m6 0h0m18 0h0m1 0h0m3 0h0m33 0h0m35 0h0m8 0h0m15 0h0m30 0h0m1 0h0m2 0h0m10 0h0m18 0h0m19 0h0m37 0h0m24 0h0m34 0h0m17 0h0m9 0h0m17 0h0m5 0h0m2 0h0m44 0h0m47 0h0m37 0h0m3 0h0m14 0h0m3 0h0m56 0h0m2 0h0m24 0h0m4 0h0m7 0h0m6 0h0m80 0h0m38 0h0m-924 1h0m30 0h0m30 0h0m14 0h0m13 0h0m17 0h0m22 0h0m48 0h0m18 0h0m17 0h0m8 0h0m3 0h0m54 0h0m5 0h0m3 0h0m12 0h0m13 0h0m4 0h0m20 0h0m43 0h0m5 0h0m4 0h0m34 0h0m3 0h0m51 0h0m22 0h0m20 0h0m34 0h0m32 0h0m12 0h0m29 0h0m22 0h0m20 0h0m3 0h0m7 0h0m2 0h0m1 0h0m10 0h0m6 0h0m2 0h0m6 0h0m3 0h0m11 0h0m30 0h0m42 0h0m9 0h0m17 0h0m39 0h0m-821 1h0m30 0h0m73 0h0m22 0h0m6 0h0m39 0h0m7 0h0m2 0h0m33 0h0m1 0h0m26 0h0m34 0h0m51 0h0m3 0h0m42 0h0m15 0h0m6 0h0m46 0h0m3 0h0m1 0h0m27 0h0m18 0h0m13 0h0m1 0h0m62 0h0m14 0h0m11 0h0m18 0h0m6 0h0m6 0h0m11 0h0m22 0h0m49 0h0m10 0h0m51 0h0m20 0h0m26 0h0m64 0h0m-895 1h0m7 0h0m21 0h0m53 0h0m19 0h0m26 0h0m2 0h0m7 0h0m16 0h0m11 0h0m31 0h0m13 0h0m16 0h0m32 0h0m2 0h0m12 0h0m30 0h0m1 0h0m11 0h0m15 0h0m26 0h0m94 0h0m1 0h0m34 0h0m12 0h0m20 0h0m4 0h0m23 0h0m13 0h0m30 0h0m12 0h0m56 0h0m6 0h0m11 0h0m30 0h0m33 0h0m15 0h0m4 0h0m169 0h0m-865 1h0m8 0h0m10 0h0m57 0h0m1 0h0m9 0h0m15 0h0m42 0h0m38 0h0m3 0h0m26 0h0m2 0h0m11 0h0m35 0h0m7 0h0m35 0h0m17 0h0m61 0h0m9 0h0m7 0h0m3 0h0m9 0h0m66 0h0m1 0h0m12 0h0m7 0h0m21 0h0m54 0h0m6 0h0m12 0h0m2 0h0m37 0h0m14 0h0m23 0h0m3 0h0m23 0h0m23 0h0m21 0h0m6 0h0m2 0h0m19 0h0m22 0h0m85 0h0m-892 1h0m119 0h0m25 0h0m3 0h0m13 0h0m29 0h0m49 0h0m2 0h0m15 0h0m17 0h0m22 0h0m89 0h0m3 0h0m10 0h0m29 0h0m7 0h0m19 0h0m26 0h0m11 0h0m63 0h0m15 0h0m5 0h0m16 0h0m13 0h0m1 0h0m9 0h0m21 0h0m13 0h0m16 0h0m7 0h0m1 0h0m1 0h0m8 0h0m3 0h0m27 0h0m16 0h0m59 0h0m21 0h0m2 0h0m12 0h0m16 0h0m65 0h0m-937 1h0m18 0h0m122 0h0m1 0h0m14 0h0m6 0h0m27 0h0m70 0h0m65 0h0m14 0h0m37 0h0m2 0h0m1 0h0m30 0h0m4 0h0m32 0h0m53 0h0m2 0h0m9 0h0m6 0h0m69 0h0m18 0h0m22 0h0m2 0h0m4 0h0m19 0h0m10 0h0m9 0h0m3 0h0m10 0h0m29 0h0m8 0h0m66 0h0m35 0h0m23 0h0m11 0h0m17 0h0m6 0h0m61 0h0m13 0h0m3 0h0m10 0h0m-928 1h0m65 0h0m60 0h0m1 0h0m20 0h0m13 0h0m2 0h0m9 0h0m30 0h0m32 0h0m55 0h0m16 0h0m65 0h0m19 0h0m10 0h0m3 0h0m28 0h0m2 0h0m5 0h0m4 0h0m20 0h0m12 0h0m19 0h0m3 0h0m23 0h0m9 0h0m13 0h0m8 0h0m17 0h0m2 0h0m2 0h0m4 0h0m23 0h0m30 0h0m2 0h0m2 0h0m25 0h0m9 0h0m24 0h0m7 0h0m5 0h0m22 0h0m35 0h0m7 0h0m2 0h0m2 0h0m25 0h0m18 0h0m58 0h0m50 0h0m-931 1h0m11 0h0m22 0h0m90 0h0m59 0h0m18 0h0m17 0h0m7 0h0m29 0h0m9 0h0m23 0h0m65 0h0m3 0h0m18 0h0m24 0h0m2 0h0m5 0h0m36 0h0m41 0h0m1 0h0m27 0h0m10 0h0m20 0h0m9 0h0m11 0h0m58 0h0m22 0h0m15 0h0m44 0h0m41 0h0m42 0h0m6 0h0m2 0h0m2 0h0m10 0h0m8 0h0m73 0h0m2 0h0m58 0h0m4 0h0m3 0h0m-947 1h0m43 0h0m39 0h0m38 0h0m3 0h0m2 0h0m7 0h0m15 0h0m8 0h0m32 0h0m25 0h0m4 0h0m49 0h0m28 0h0m9 0h0m3 0h0m15 0h0m79 0h0m5 0h0m11 0h0m46 0h0m6 0h0m1 0h0m32 0h0m2 0h0m10 0h0m51 0h0m14 0h0m2 0h0m32 0h0m14 0h0m26 0h0m27 0h0m17 0h0m45 0h0m10 0h0m44 0h0m8 0h0m27 0h0m52 0h0m40 0h0m7 0h0m18 0h0m-908 1h0m22 0h0m77 0h0m65 0h0m35 0h0m95 0h0m22 0h0m11 0h0m6 0h0m70 0h0m35 0h0m74 0h0m24 0h0m2 0h0m42 0h0m11 0h0m14 0h0m3 0h0m47 0h0m66 0h0m21 0h0m27 0h0m73 0h0m63 0h0m6 0h0m12 0h0m-984 1h0m56 0h0m6 0h0m19 0h0m73 0h0m28 0h0m11 0h0m14 0h0m18 0h0m11 0h0m22 0h0m18 0h0m37 0h0m16 0h0m27 0h0m7 0h0m13 0h0m2 0h0m52 0h0m4 0h0m20 0h0m23 0h0m1 0h0m13 0h0m8 0h0m5 0h0m17 0h0m3 0h0m13 0h0m12 0h0m33 0h0m14 0h0m12 0h0m28 0h0m25 0h0m10 0h0m19 0h0m3 0h0m14 0h0m39 0h0m18 0h0m7 0h0m2 0h0m39 0h0m125 0h0m5 0h0m-913 1h0m57 0h0m23 0h0m27 0h0m26 0h0m3 0h0m5 0h0m22 0h0m1 0h0m48 0h0m4 0h0m58 0h0m22 0h0m3 0h0m2 0h0m1 0h0m55 0h0m8 0h0m6 0h0m7 0h0m50 0h0m8 0h0m39 0h0m4 0h0m36 0h0m51 0h0m41 0h0m84 0h0m14 0h0m6 0h0m23 0h0m2 0h0m4 0h0m7 0h0m58 0h0m20 0h0m96 0h0m21 0h0m-868 1h0m20 0h0m13 0h0m4 0h0m22 0h0m7 0h0m17 0h0m44 0h0m10 0h0m14 0h0m29 0h0m5 0h0m22 0h0m1 0h0m2 0h0m41 0h0m18 0h0m23 0h0m4 0h0m17 0h0m26 0h0m9 0h0m23 0h0m10 0h0m58 0h0m23 0h0m25 0h0m9 0h0m13 0h0m61 0h0m27 0h0m6 0h0m38 0h0m5 0h0m34 0h0m15 0h0m19 0h0m5 0h0m113 0h0m17 0h0m10 0h0m23 0h0m-982 1h0m75 0h0m1 0h0m3 0h0m22 0h0m24 0h0m69 0h0m83 0h0m39 0h0m9 0h0m23 0h0m22 0h0m3 0h0m35 0h0m16 0h0m17 0h0m12 0h0m6 0h0m5 0h0m3 0h0m58 0h0m3 0h0m19 0h0m2 0h0m24 0h0m6 0h0m17 0h0m19 0h0m42 0h0m13 0h0m16 0h0m4 0h0m8 0h0m20 0h0m17 0h0m16 0h0m23 0h0m21 0h0m12 0h0m30 0h0m5 0h0m136 0h0m-902 1h0m29 0h0m19 0h0m7 0h0m1 0h0m55 0h0m24 0h0m6 0h0m12 0h0m13 0h0m6 0h0m10 0h0m67 0h0m12 0h0m7 0h0m16 0h0m26 0h0m3 0h0m2 0h0m5 0h0m12 0h0m14 0h0m7 0h0m3 0h0m6 0h0m17 0h0m12 0h0m4 0h0m4 0h0m2 0h0m28 0h0m2 0h0m1 0h0m14 0h0m16 0h0m44 0h0m12 0h0m6 0h0m65 0h0m7 0h0m7 0h0m8 0h0m12 0h0m2 0h0m36 0h0m3 0h0m12 0h0m5 0h0m16 0h0m9 0h0m23 0h0m25 0h0m20 0h0m3 0h0m32 0h0m15 0h0m42 0h0m33 0h0m-851 1h0m32 0h0m15 0h0m7 0h0m15 0h0m17 0h0m8 0h0m14 0h0m5 0h0m71 0h0m97 0h0m28 0h0m29 0h0m17 0h0m3 0h0m60 0h0m35 0h0m11 0h0m11 0h0m10 0h0m20 0h0m6 0h0m12 0h0m3 0h0m6 0h0m9 0h0m28 0h0m6 0h0m24 0h0m9 0h0m15 0h0m13 0h0m2 0h0m9 0h0m23 0h0m40 0h0m14 0h0m2 0h0m92 0h0m22 0h0m-855 1h0m15 0h0m16 0h0m40 0h0m2 0h0m42 0h0m49 0h0m29 0h0m15 0h0m38 0h0m68 0h0m6 0h0m52 0h0m4 0h0m1 0h0m11 0h0m29 0h0m1 0h0m13 0h0m7 0h0m36 0h0m9 0h0m40 0h0m55 0h0m50 0h0m30 0h0m38 0h0m8 0h0m30 0h0m6 0h0m45 0h0m3 0h0m2 0h0m73 0h0m9 0h0m-985 1h0m107 0h0m5 0h0m24 0h0m28 0h0m10 0h0m11 0h0m27 0h0m4 0h0m39 0h0m23 0h0m17 0h0m14 0h0m2 0h0m27 0h0m12 0h0m17 0h0m48 0h0m32 0h0m24 0h0m27 0h0m35 0h0m19 0h0m4 0h0m25 0h0m1 0h0m8 0h0m64 0h0m11 0h0m49 0h0m13 0h0m19 0h0m26 0h0m36 0h0m2 0h0m1 0h0m81 0h0m28 0h0m-895 1h0m38 0h0m13 0h0m10 0h0m8 0h0m30 0h0m15 0h0m104 0h0m12 0h0m24 0h0m18 0h0m4 0h0m11 0h0m16 0h0m19 0h0m54 0h0m27 0h0m16 0h0m17 0h0m7 0h0m23 0h0m13 0h0m5 0h0m13 0h0m35 0h0m2 0h0m21 0h0m21 0h0m14 0h0m15 0h0m7 0h0m8 0h0m12 0h0m3 0h0m18 0h0m11 0h0m10 0h0m8 0h0m41 0h0m3 0h0m16 0h0m25 0h0m1 0h0m101 0h0m23 0h0m1 0h0m8 0h0m40 0h0m18 0h0m-989 1h0m27 0h0m1 0h0m45 0h0m19 0h0m25 0h0m7 0h0m28 0h0m31 0h0m20 0h0m27 0h0m16 0h0m22 0h0m5 0h0m7 0h0m5 0h0m14 0h0m7 0h0m6 0h0m2 0h0m14 0h0m52 0h0m8 0h0m17 0h0m2 0h0m13 0h0m27 0h0m18 0h0m14 0h0m2 0h0m1 0h0m4 0h0m14 0h0m8 0h0m17 0h0m6 0h0m13 0h0m12 0h0m21 0h0m15 0h0m22 0h0m25 0h0m28 0h0m44 0h0m21 0h0m52 0h0m73 0h0m42 0h0m-834 1h0m48 0h0m42 0h0m29 0h0m7 0h0m9 0h0m15 0h0m19 0h0m39 0h0m11 0h0m5 0h0m14 0h0m3 0h0m12 0h0m13 0h0m29 0h0m13 0h0m21 0h0m23 0h0m1 0h0m1 0h0m5 0h0m52 0h0m49 0h0m17 0h0m2 0h0m19 0h0m39 0h0m18 0h0m8 0h0m10 0h0m14 0h0m1 0h0m2 0h0m13 0h0m16 0h0m32 0h0m14 0h0m32 0h0m19 0h0m10 0h0m2 0h0m12 0h0m9 0h0m8 0h0m2 0h0m16 0h0m19 0h0m26 0h0m23 0h0m72 0h0m9 0h0m-964 1h0m49 0h0m31 0h0m13 0h0m24 0h0m44 0h0m9 0h0m20 0h0m5 0h0m30 0h0m21 0h0m7 0h0m6 0h0m13 0h0m9 0h0m35 0h0m23 0h0m5 0h0m60 0h0m17 0h0m2 0h0m17 0h0m43 0h0m32 0h0m22 0h0m48 0h0m43 0h0m4 0h0m19 0h0m6 0h0m13 0h0m32 0h0m59 0h0m7 0h0m28 0h0m2 0h0m27 0h0m7 0h0m7 0h0m42 0h0m7 0h0m69 0h0m-942 1h0m21 0h0m17 0h0m19 0h0m7 0h0m36 0h0m63 0h0m42 0h0m1 0h0m1 0h0m20 0h0m17 0h0m4 0h0m26 0h0m63 0h0m43 0h0m51 0h0m16 0h0m6 0h0m27 0h0m21 0h0m14 0h0m4 0h0m23 0h0m14 0h0m7 0h0m1 0h0m1 0h0m14 0h0m28 0h0m20 0h0m5 0h0m127 0h0m27 0h0m14 0h0m46 0h0m19 0h0m25 0h0m31 0h0m8 0h0m-930 1h0m24 0h0m12 0h0m29 0h0m36 0h0m7 0h0m15 0h0m24 0h0m11 0h0m5 0h0m31 0h0m1 0h0m21 0h0m1 0h0m6 0h0m3 0h0m20 0h0m5 0h0m8 0h0m3 0h0m7 0h0m52 0h0m42 0h0m3 0h0m10 0h0m60 0h0m8 0h0m9 0h0m5 0h0m27 0h0m6 0h0m19 0h0m8 0h0m4 0h0m7 0h0m2 0h0m22 0h0m14 0h0m35 0h0m8 0h0m6 0h0m72 0h0m26 0h0m11 0h0m6 0h0m40 0h0m48 0h0m1 0h0m73 0h0m1 0h0m-863 1h0m28 0h0m4 0h0m45 0h0m1 0h0m27 0h0m25 0h0m11 0h0m62 0h0m5 0h0m31 0h0m19 0h0m20 0h0m6 0h0m10 0h0m6 0h0m9 0h0m2 0h0m12 0h0m2 0h0m46 0h0m7 0h0m102 0h0m11 0h0m19 0h0m12 0h0m12 0h0m25 0h0m38 0h0m3 0h0m34 0h0m2 0h0m17 0h0m25 0h0m16 0h0m14 0h0m1 0h0m5 0h0m6 0h0m4 0h0m3 0h0m4 0h0m16 0h0m3 0h0m46 0h0m11 0h0m1 0h0m4 0h0m38 0h0m8 0h0m4 0h0m51 0h0m-914 1h0m32 0h0m67 0h0m10 0h0m14 0h0m8 0h0m13 0h0m4 0h0m8 0h0m4 0h0m30 0h0m5 0h0m4 0h0m3 0h0m19 0h0m8 0h0m7 0h0m2 0h0m2 0h0m24 0h0m24 0h0m1 0h0m55 0h0m1 0h0m5 0h0m1 0h0m2 0h0m12 0h0m44 0h0m1 0h0m10 0h0m17 0h0m29 0h0m15 0h0m48 0h0m52 0h0m12 0h0m62 0h0m4 0h0m2 0h0m70 0h0m14 0h0m12 0h0m3 0h0m21 0h0m10 0h0m99 0h0m-888 1h0m32 0h0m39 0h0m9 0h0m30 0h0m12 0h0m23 0h0m7 0h0m9 0h0m15 0h0m20 0h0m28 0h0m32 0h0m22 0h0m4 0h0m83 0h0m2 0h0m38 0h0m16 0h0m13 0h0m8 0h0m38 0h0m6 0h0m3 0h0m4 0h0m2 0h0m10 0h0m3 0h0m7 0h0m25 0h0m2 0h0m18 0h0m17 0h0m16 0h0m3 0h0m9 0h0m24 0h0m21 0h0m51 0h0m24 0h0m11 0h0m26 0h0m6 0h0m26 0h0m16 0h0m42 0h0m-901 1h0m56 0h0m98 0h0m34 0h0m3 0h0m12 0h0m21 0h0m3 0h0m16 0h0m28 0h0m28 0h0m1 0h0m21 0h0m5 0h0m34 0h0m2 0h0m3 0h0m55 0h0m18 0h0m6 0h0m17 0h0m1 0h0m3 0h0m1 0h0m14 0h0m3 0h0m27 0h0m10 0h0m5 0h0m2 0h0m8 0h0m8 0h0m1 0h0m23 0h0m36 0h0m23 0h0m23 0h0m49 0h0m6 0h0m8 0h0m13 0h0m10 0h0m22 0h0m23 0h0m5 0h0m8 0h0m4 0h0m14 0h0m8 0h0m3 0h0m21 0h0m65 0h0m-908 1h0m121 0h0m74 0h0m10 0h0m6 0h0m12 0h0m26 0h0m42 0h0m15 0h0m4 0h0m5 0h0m23 0h0m10 0h0m3 0h0m4 0h0m12 0h0m53 0h0m20 0h0m5 0h0m12 0h0m7 0h0m24 0h0m2 0h0m3 0h0m16 0h0m2 0h0m1 0h0m15 0h0m1 0h0m18 0h0m13 0h0m18 0h0m8 0h0m8 0h0m6 0h0m1 0h0m3 0h0m31 0h0m5 0h0m8 0h0m28 0h0m3 0h0m66 0h0m42 0h0m35 0h0m69 0h0m16 0h0m1 0h0m3 0h0m-855 1h0m2 0h0m62 0h0m1 0h0m44 0h0m7 0h0m6 0h0m37 0h0m15 0h0m57 0h0m1 0h0m71 0h0m40 0h0m7 0h0m16 0h0m50 0h0m26 0h0m17 0h0m37 0h0m52 0h0m1 0h0m34 0h0m55 0h0m22 0h0m5 0h0m34 0h0m31 0h0m15 0h0m6 0h0m21 0h0m69 0h0m-844 1h0m5 0h0m44 0h0m18 0h0m58 0h0m13 0h0m28 0h0m8 0h0m49 0h0m8 0h0m12 0h0m7 0h0m1 0h0m56 0h0m3 0h0m44 0h0m16 0h0m54 0h0m33 0h0m58 0h0m22 0h0m113 0h0m48 0h0m7 0h0m25 0h0m15 0h0m79 0h0m-812 1h0m40 0h0m52 0h0m12 0h0m18 0h0m4 0h0m39 0h0m10 0h0m18 0h0m10 0h0m11 0h0m7 0h0m67 0h0m5 0h0m12 0h0m9 0h0m50 0h0m12 0h0m9 0h0m23 0h0m2 0h0m1 0h0m15 0h0m4 0h0m5 0h0m44 0h0m85 0h0m37 0h0m1 0h0m26 0h0m11 0h0m8 0h0m33 0h0m37 0h0m17 0h0m53 0h0m5 0h0m-844 1h0m92 0h0m24 0h0m15 0h0m11 0h0m3 0h0m21 0h0m5 0h0m16 0h0m3 0h0m12 0h0m23 0h0m27 0h0m21 0h0m29 0h0m12 0h0m17 0h0m13 0h0m4 0h0m6 0h0m15 0h0m19 0h0m2 0h0m2 0h0m3 0h0m21 0h0m72 0h0m8 0h0m43 0h0m9 0h0m38 0h0m56 0h0m21 0h0m9 0h0m30 0h0m5 0h0m40 0h0m2 0h0m23 0h0m26 0h0m-754 1h0m30 0h0m99 0h0m3 0h0m3 0h0m24 0h0m18 0h0m21 0h0m16 0h0m68 0h0m23 0h0m11 0h0m12 0h0m39 0h0m1 0h0m4 0h0m77 0h0m10 0h0m10 0h0m111 0h0m11 0h0m143 0h0m74 0h0m14 0h0m33 0h0m-862 1h0m87 0h0m3 0h0m6 0h0m61 0h0m53 0h0m5 0h0m11 0h0m8 0h0m23 0h0m45 0h0m8 0h0m6 0h0m16 0h0m67 0h0m13 0h0m7 0h0m9 0h0m28 0h0m16 0h0m2 0h0m28 0h0m10 0h0m5 0h0m5 0h0m16 0h0m25 0h0m14 0h0m11 0h0m19 0h0m42 0h0m70 0h0m57 0h0m80 0h0m-845 1h0m22 0h0m49 0h0m20 0h0m35 0h0m29 0h0m15 0h0m8 0h0m43 0h0m1 0h0m3 0h0m10 0h0m1 0h0m19 0h0m1 0h0m5 0h0m14 0h0m1 0h0m54 0h0m9 0h0m16 0h0m13 0h0m7 0h0m5 0h0m3 0h0m22 0h0m27 0h0m9 0h0m28 0h0m27 0h0m20 0h0m15 0h0m3 0h0m9 0h0m6 0h0m4 0h0m1 0h0m17 0h0m2 0h0m40 0h0m5 0h0m22 0h0m1 0h0m3 0h0m33 0h0m2 0h0m29 0h0m3 0h0m5 0h0m4 0h0m29 0h0m12 0h0m3 0h0m1 0h0m52 0h0m1 0h0m26 0h0m-830 1h0m52 0h0m20 0h0m51 0h0m2 0h0m8 0h0m14 0h0m1 0h0m25 0h0m43 0h0m6 0h0m19 0h0m16 0h0m22 0h0m35 0h0m16 0h0m5 0h0m27 0h0m23 0h0m12 0h0m9 0h0m54 0h0m16 0h0m16 0h0m1 0h0m10 0h0m5 0h0m15 0h0m11 0h0m32 0h0m29 0h0m9 0h0m12 0h0m3 0h0m28 0h0m14 0h0m15 0h0m18 0h0m106 0h0m-763 1h0m66 0h0m26 0h0m5 0h0m7 0h0m27 0h0m12 0h0m4 0h0m87 0h0m46 0h0m16 0h0m19 0h0m6 0h0m22 0h0m8 0h0m20 0h0m17 0h0m13 0h0m4 0h0m14 0h0m35 0h0m23 0h0m13 0h0m59 0h0m6 0h0m3 0h0m11 0h0m2 0h0m5 0h0m7 0h0m23 0h0m6 0h0m9 0h0m24 0h0m10 0h0m21 0h0m39 0h0m2 0h0m37 0h0m23 0h0m19 0h0m-885 1h0m169 0h0m23 0h0m7 0h0m34 0h0m27 0h0m36 0h0m2 0h0m3 0h0m5 0h0m5 0h0m1 0h0m19 0h0m19 0h0m76 0h0m10 0h0m32 0h0m3 0h0m7 0h0m8 0h0m34 0h0m2 0h0m44 0h0m28 0h0m3 0h0m23 0h0m8 0h0m12 0h0m47 0h0m28 0h0m6 0h0m15 0h0m27 0h0m2 0h0m31 0h0m5 0h0m20 0h0m33 0h0m-864 1h0m47 0h0m41 0h0m79 0h0m24 0h0m3 0h0m10 0h0m23 0h0m34 0h0m13 0h0m12 0h0m11 0h0m40 0h0m43 0h0m4 0h0m27 0h0m40 0h0m9 0h0m15 0h0m5 0h0m1 0h0m1 0h0m8 0h0m6 0h0m12 0h0m51 0h0m10 0h0m17 0h0m34 0h0m1 0h0m3 0h0m11 0h0m25 0h0m18 0h0m13 0h0m11 0h0m17 0h0m3 0h0m53 0h0m7 0h0m2 0h0m4 0h0m4 0h0m3 0h0m14 0h0m9 0h0m14 0h0m46 0h0m-877 1h0m8 0h0m57 0h0m21 0h0m11 0h0m4 0h0m74 0h0m17 0h0m24 0h0m16 0h0m1 0h0m4 0h0m6 0h0m2 0h0m12 0h0m46 0h0m17 0h0m11 0h0m22 0h0m4 0h0m34 0h0m2 0h0m13 0h0m24 0h0m1 0h0m18 0h0m5 0h0m1 0h0m16 0h0m2 0h0m13 0h0m10 0h0m10 0h0m7 0h0m8 0h0m9 0h0m24 0h0m6 0h0m10 0h0m5 0h0m7 0h0m16 0h0m17 0h0m28 0h0m7 0h0m2 0h0m15 0h0m4 0h0m10 0h0m6 0h0m6 0h0m4 0h0m12 0h0m4 0h0m6 0h0m20 0h0m3 0h0m10 0h0m2 0h0m39 0h0m20 0h0m59 0h0m-875 1h0m66 0h0m31 0h0m4 0h0m4 0h0m9 0h0m41 0h0m47 0h0m2 0h0m21 0h0m4 0h0m11 0h0m30 0h0m9 0h0m30 0h0m5 0h0m3 0h0m17 0h0m15 0h0m10 0h0m50 0h0m22 0h0m19 0h0m49 0h0m5 0h0m12 0h0m21 0h0m29 0h0m4 0h0m73 0h0m8 0h0m7 0h0m8 0h0m4 0h0m76 0h0m33 0h0m32 0h0m1 0h0m56 0h0m11 0h0m-875 1h0m1 0h0m96 0h0m44 0h0m8 0h0m3 0h0m17 0h0m11 0h0m55 0h0m17 0h0m1 0h0m4 0h0m19 0h0m26 0h0m11 0h0m4 0h0m6 0h0m19 0h0m3 0h0m50 0h0m41 0h0m13 0h0m9 0h0m5 0h0m11 0h0m24 0h0m19 0h0m66 0h0m1 0h0m20 0h0m3 0h0m6 0h0m6 0h0m105 0h0m33 0h0m4 0h0m10 0h0m25 0h0m6 0h0m1 0h0m2 0h0m12 0h0m15 0h0m1 0h0m5 0h0m20 0h0m-794 1h0m21 0h0m23 0h0m2 0h0m98 0h0m22 0h0m6 0h0m56 0h0m28 0h0m7 0h0m3 0h0m39 0h0m6 0h0m60 0h0m25 0h0m20 0h0m11 0h0m22 0h0m61 0h0m34 0h0m12 0h0m26 0h0m23 0h0m37 0h0m20 0h0m42 0h0m22 0h0m24 0h0m15 0h0m-836 1h0m15 0h0m35 0h0m63 0h0m4 0h0m22 0h0m24 0h0m21 0h0m3 0h0m3 0h0m63 0h0m42 0h0m1 0h0m4 0h0m52 0h0m15 0h0m16 0h0m4 0h0m17 0h0m28 0h0m17 0h0m3 0h0m44 0h0m12 0h0m4 0h0m24 0h0m20 0h0m67 0h0m11 0h0m62 0h0m24 0h0m27 0h0m57 0h0m6 0h0m6 0h0m7 0h0m37 0h0m18 0h0m-774 1h0m17 0h0m36 0h0m3 0h0m9 0h0m8 0h0m2 0h0m22 0h0m19 0h0m9 0h0m10 0h0m10 0h0m20 0h0m11 0h0m17 0h0m4 0h0m6 0h0m31 0h0m20 0h0m26 0h0m2 0h0m7 0h0m39 0h0m16 0h0m5 0h0m5 0h0m19 0h0m25 0h0m46 0h0m22 0h0m13 0h0m175 0h0m24 0h0m22 0h0m12 0h0m32 0h0m17 0h0m1 0h0m5 0h0m-870 1h0m40 0h0m98 0h0m21 0h0m23 0h0m11 0h0m18 0h0m13 0h0m27 0h0m34 0h0m30 0h0m1 0h0m2 0h0m20 0h0m13 0h0m9 0h0m21 0h0m7 0h0m4 0h0m4 0h0m17 0h0m24 0h0m6 0h0m26 0h0m38 0h0m32 0h0m12 0h0m131 0h0m8 0h0m6 0h0m21 0h0m102 0h0m7 0h0m22 0h0m9 0h0m-838 1h0m21 0h0m62 0h0m95 0h0m33 0h0m31 0h0m23 0h0m16 0h0m28 0h0m11 0h0m18 0h0m17 0h0m6 0h0m19 0h0m31 0h0m5 0h0m20 0h0m11 0h0m12 0h0m2 0h0m3 0h0m3 0h0m38 0h0m87 0h0m4 0h0m2 0h0m28 0h0m53 0h0m16 0h0m2 0h0m6 0h0m76 0h0m17 0h0m5 0h0m4 0h0m25 0h0m13 0h0m-816 1h0m66 0h0m84 0h0m2 0h0m21 0h0m66 0h0m7 0h0m8 0h0m19 0h0m11 0h0m21 0h0m9 0h0m39 0h0m11 0h0m15 0h0m21 0h0m23 0h0m17 0h0m1 0h0m2 0h0m2 0h0m6 0h0m25 0h0m47 0h0m2 0h0m30 0h0m8 0h0m9 0h0m11 0h0m35 0h0m45 0h0m16 0h0m26 0h0m10 0h0m1 0h0m13 0h0m24 0h0m22 0h0m2 0h0m41 0h0m40 0h0m1 0h0m-791 1h0m126 0h0m10 0h0m42 0h0m25 0h0m5 0h0m24 0h0m91 0h0m5 0h0m1 0h0m4 0h0m18 0h0m10 0h0m11 0h0m29 0h0m28 0h0m10 0h0m15 0h0m7 0h0m12 0h0m15 0h0m79 0h0m54 0h0m31 0h0m20 0h0m-768 1h0m72 0h0m11 0h0m11 0h0m110 0h0m33 0h0m35 0h0m19 0h0m25 0h0m3 0h0m15 0h0m92 0h0m15 0h0m15 0h0m3 0h0m8 0h0m2 0h0m14 0h0m3 0h0m1 0h0m11 0h0m27 0h0m4 0h0m26 0h0m3 0h0m16 0h0m46 0h0m64 0h0m2 0h0m37 0h0m24 0h0m21 0h0m6 0h0m6 0h0m11 0h0m18 0h0m80 0h0m-823 1h0m11 0h0m16 0h0m156 0h0m31 0h0m6 0h0m1 0h0m21 0h0m2 0h0m12 0h0m24 0h0m48 0h0m24 0h0m31 0h0m8 0h0m29 0h0m63 0h0m18 0h0m40 0h0m6 0h0m41 0h0m16 0h0m33 0h0m4 0h0m5 0h0m1 0h0m16 0h0m12 0h0m7 0h0m49 0h0m50 0h0m36 0h0m6 0h0m-857 1h0m2 0h0m5 0h0m55 0h0m55 0h0m5 0h0m30 0h0m2 0h0m2 0h0m1 0h0m6 0h0m6 0h0m10 0h0m3 0h0m20 0h0m5 0h0m33 0h0m3 0h0m3 0h0m13 0h0m17 0h0m93 0h0m11 0h0m29 0h0m3 0h0m7 0h0m36 0h0m1 0h0m2 0h0m14 0h0m7 0h0m37 0h0m62 0h0m19 0h0m27 0h0m20 0h0m1 0h0m4 0h0m49 0h0m4 0h0m12 0h0m44 0h0m58 0h0m-837 1h0m3 0h0m59 0h0m20 0h0m93 0h0m20 0h0m37 0h0m50 0h0m19 0h0m14 0h0m2 0h0m5 0h0m39 0h0m13 0h0m11 0h0m4 0h0m3 0h0m7 0h0m1 0h0m8 0h0m85 0h0m8 0h0m12 0h0m8 0h0m7 0h0m38 0h0m2 0h0m3 0h0m50 0h0m33 0h0m10 0h0m7 0h0m9 0h0m5 0h0m2 0h0m15 0h0m2 0h0m7 0h0m70 0h0m94 0h0m-857 1h0m7 0h0m1 0h0m138 0h0m38 0h0m32 0h0m3 0h0m8 0h0m9 0h0m2 0h0m10 0h0m11 0h0m5 0h0m24 0h0m20 0h0m1 0h0m5 0h0m7 0h0m31 0h0m2 0h0m5 0h0m14 0h0m20 0h0m28 0h0m5 0h0m17 0h0m14 0h0m4 0h0m3 0h0m4 0h0m8 0h0m17 0h0m4 0h0m44 0h0m22 0h0m2 0h0m40 0h0m3 0h0m7 0h0m19 0h0m61 0h0m27 0h0m4 0h0m35 0h0m20 0h0m-826 1h0m103 0h0m111 0h0m27 0h0m34 0h0m11 0h0m33 0h0m19 0h0m22 0h0m20 0h0m6 0h0m21 0h0m30 0h0m47 0h0m23 0h0m50 0h0m30 0h0m14 0h0m2 0h0m43 0h0m28 0h0m21 0h0m10 0h0m21 0h0m16 0h0m7 0h0m11 0h0m2 0h0m32 0h0m31 0h0m4 0h0m-797 1h0m197 0h0m8 0h0m18 0h0m12 0h0m29 0h0m20 0h0m63 0h0m9 0h0m1 0h0m12 0h0m11 0h0m38 0h0m18 0h0m14 0h0m23 0h0m2 0h0m7 0h0m9 0h0m25 0h0m21 0h0m2 0h0m54 0h0m26 0h0m11 0h0m51 0h0m6 0h0m32 0h0m-756 1h0m75 0h0m32 0h0m1 0h0m95 0h0m51 0h0m8 0h0m22 0h0m19 0h0m6 0h0m29 0h0m23 0h0m6 0h0m1 0h0m88 0h0m2 0h0m7 0h0m1 0h0m23 0h0m42 0h0m4 0h0m65 0h0m17 0h0m17 0h0m14 0h0m30 0h0m8 0h0m10 0h0m10 0h0m29 0h0m11 0h0m35 0h0m49 0h0m-777 1h0m153 0h0m49 0h0m25 0h0m6 0h0m4 0h0m19 0h0m25 0h0m18 0h0m20 0h0m17 0h0m6 0h0m1 0h0m34 0h0m44 0h0m2 0h0m7 0h0m36 0h0m13 0h0m50 0h0m11 0h0m5 0h0m3 0h0m44 0h0m8 0h0m3 0h0m14 0h0m7 0h0m20 0h0m143 0h0m14 0h0m-809 1h0m26 0h0m2 0h0m33 0h0m1 0h0m3 0h0m68 0h0m63 0h0m2 0h0m16 0h0m24 0h0m32 0h0m4 0h0m3 0h0m66 0h0m4 0h0m1 0h0m16 0h0m6 0h0m1 0h0m7 0h0m7 0h0m31 0h0m46 0h0m24 0h0m4 0h0m44 0h0m9 0h0m23 0h0m22 0h0m5 0h0m3 0h0m3 0h0m13 0h0m81 0h0m30 0h0m95 0h0m-728 1h0m101 0h0m38 0h0m4 0h0m11 0h0m10 0h0m58 0h0m7 0h0m10 0h0m7 0h0m25 0h0m9 0h0m13 0h0m10 0h0m15 0h0m11 0h0m82 0h0m2 0h0m28 0h0m37 0h0m108 0h0m42 0h0m15 0h0m-684 1h0m20 0h0m92 0h0m7 0h0m26 0h0m42 0h0m13 0h0m2 0h0m8 0h0m30 0h0m1 0h0m22 0h0m13 0h0m54 0h0m20 0h0m86 0h0m5 0h0m12 0h0m44 0h0m4 0h0m6 0h0m12 0h0m8 0h0m17 0h0m5 0h0m31 0h0m16 0h0m37 0h0m14 0h0m100 0h0m3 0h0m24 0h0m-812 1h0m21 0h0m84 0h0m45 0h0m21 0h0m16 0h0m13 0h0m89 0h0m5 0h0m5 0h0m19 0h0m31 0h0m75 0h0m5 0h0m14 0h0m3 0h0m35 0h0m27 0h0m13 0h0m3 0h0m23 0h0m12 0h0m5 0h0m41 0h0m1 0h0m11 0h0m14 0h0m12 0h0m6 0h0m5 0h0m4 0h0m8 0h0m3 0h0m2 0h0m61 0h0m13 0h0m66 0h0m25 0h0m-804 1h0m130 0h0m21 0h0m11 0h0m17 0h0m10 0h0m15 0h0m6 0h0m37 0h0m10 0h0m49 0h0m20 0h0m16 0h0m5 0h0m30 0h0m3 0h0m80 0h0m13 0h0m33 0h0m62 0h0m24 0h0m124 0h0m57 0h0m-701 1h0m22 0h0m28 0h0m63 0h0m5 0h0m5 0h0m37 0h0m1 0h0m30 0h0m1 0h0m2 0h0m21 0h0m22 0h0m2 0h0m22 0h0m6 0h0m8 0h0m8 0h0m4 0h0m5 0h0m11 0h0m14 0h0m16 0h0m12 0h0m13 0h0m7 0h0m29 0h0m41 0h0m11 0h0m39 0h0m74 0h0m27 0h0m39 0h0m80 0h0m-728 1h0m3 0h0m21 0h0m2 0h0m46 0h0m52 0h0m7 0h0m3 0h0m20 0h0m27 0h0m36 0h0m1 0h0m28 0h0m6 0h0m8 0h0m11 0h0m10 0h0m51 0h0m4 0h0m2 0h0m15 0h0m22 0h0m17 0h0m17 0h0m1 0h0m6 0h0m27 0h0m18 0h0m4 0h0m56 0h0m2 0h0m22 0h0m25 0h0m5 0h0m5 0h0m27 0h0m9 0h0m7 0h0m44 0h0m47 0h0m41 0h0m2 0h0m-775 1h0m34 0h0m1 0h0m25 0h0m59 0h0m7 0h0m1 0h0m33 0h0m55 0h0m37 0h0m41 0h0m17 0h0m26 0h0m33 0h0m21 0h0m4 0h0m9 0h0m7 0h0m13 0h0m26 0h0m4 0h0m18 0h0m5 0h0m15 0h0m2 0h0m22 0h0m6 0h0m8 0h0m30 0h0m37 0h0m47 0h0m41 0h0m1 0h0m59 0h0m26 0h0m-803 1h0m173 0h0m39 0h0m17 0h0m10 0h0m18 0h0m15 0h0m15 0h0m6 0h0m5 0h0m44 0h0m4 0h0m13 0h0m1 0h0m11 0h0m24 0h0m18 0h0m39 0h0m9 0h0m5 0h0m10 0h0m6 0h0m5 0h0m6 0h0m30 0h0m35 0h0m27 0h0m85 0h0m2 0h0m8 0h0m14 0h0m20 0h0m55 0h0m7 0h0m18 0h0m-791 1h0m28 0h0m2 0h0m1 0h0m25 0h0m3 0h0m72 0h0m27 0h0m2 0h0m13 0h0m10 0h0m19 0h0m14 0h0m3 0h0m47 0h0m16 0h0m17 0h0m28 0h0m46 0h0m15 0h0m3 0h0m26 0h0m11 0h0m7 0h0m4 0h0m1 0h0m2 0h0m29 0h0m13 0h0m28 0h0m52 0h0m30 0h0m1 0h0m3 0h0m4 0h0m11 0h0m21 0h0m6 0h0m13 0h0m61 0h0m1 0h0m37 0h0m17 0h0m23 0h0m-721 1h0m48 0h0m45 0h0m30 0h0m58 0h0m31 0h0m6 0h0m25 0h0m19 0h0m15 0h0m6 0h0m8 0h0m11 0h0m3 0h0m49 0h0m16 0h0m11 0h0m37 0h0m2 0h0m10 0h0m22 0h0m4 0h0m2 0h0m38 0h0m11 0h0m12 0h0m11 0h0m16 0h0m2 0h0m1 0h0m11 0h0m17 0h0m12 0h0m15 0h0m6 0h0m80 0h0m6 0h0m15 0h0m4 0h0m-795 1h0m20 0h0m19 0h0m103 0h0m18 0h0m90 0h0m33 0h0m19 0h0m58 0h0m47 0h0m18 0h0m47 0h0m9 0h0m3 0h0m42 0h0m14 0h0m18 0h0m1 0h0m2 0h0m12 0h0m48 0h0m2 0h0m50 0h0m-662 1h0m25 0h0m107 0h0m24 0h0m5 0h0m25 0h0m11 0h0m39 0h0m12 0h0m7 0h0m18 0h0m16 0h0m18 0h0m53 0h0m35 0h0m11 0h0m15 0h0m11 0h0m57 0h0m6 0h0m17 0h0m6 0h0m27 0h0m1 0h0m19 0h0m3 0h0m76 0h0m21 0h0m113 0h0m9 0h0m2 0h0m2 0h0m-834 1h0m33 0h0m37 0h0m28 0h0m49 0h0m37 0h0m6 0h0m5 0h0m34 0h0m35 0h0m40 0h0m9 0h0m15 0h0m25 0h0m12 0h0m31 0h0m39 0h0m8 0h0m1 0h0m12 0h0m18 0h0m15 0h0m23 0h0m1 0h0m4 0h0m7 0h0m10 0h0m7 0h0m8 0h0m7 0h0m6 0h0m24 0h0m22 0h0m26 0h0m8 0h0m10 0h0m11 0h0m56 0h0m5 0h0m2 0h0m1 0h0m81 0h0m14 0h0m5 0h0m8 0h0m3 0h0m-806 1h0m9 0h0m9 0h0m9 0h0m69 0h0m88 0h0m58 0h0m26 0h0m68 0h0m24 0h0m49 0h0m7 0h0m10 0h0m27 0h0m7 0h0m19 0h0m44 0h0m20 0h0m5 0h0m21 0h0m37 0h0m16 0h0m27 0h0m33 0h0m2 0h0m15 0h0m2 0h0m50 0h0m-744 1h0m3 0h0m23 0h0m62 0h0m41 0h0m16 0h0m3 0h0m6 0h0m7 0h0m2 0h0m3 0h0m54 0h0m8 0h0m35 0h0m25 0h0m4 0h0m21 0h0m3 0h0m12 0h0m8 0h0m19 0h0m32 0h0m4 0h0m10 0h0m19 0h0m12 0h0m9 0h0m10 0h0m18 0h0m2 0h0m42 0h0m1 0h0m5 0h0m5 0h0m3 0h0m5 0h0m83 0h0m10 0h0m9 0h0m9 0h0m53 0h0m82 0h0m-809 1h0m21 0h0m9 0h0m3 0h0m21 0h0m1 0h0m94 0h0m26 0h0m35 0h0m2 0h0m35 0h0m5 0h0m35 0h0m8 0h0m30 0h0m66 0h0m40 0h0m40 0h0m23 0h0m2 0h0m19 0h0m36 0h0m60 0h0m6 0h0m9 0h0m2 0h0m69 0h0m22 0h0m89 0h0m7 0h0m5 0h0m-822 1h0m24 0h0m8 0h0m2 0h0m20 0h0m87 0h0m48 0h0m39 0h0m27 0h0m15 0h0m36 0h0m25 0h0m11 0h0m6 0h0m23 0h0m2 0h0m6 0h0m4 0h0m6 0h0m4 0h0m23 0h0m63 0h0m41 0h0m2 0h0m4 0h0m77 0h0m2 0h0m15 0h0m2 0h0m58 0h0m42 0h0m5 0h0m50 0h0m4 0h0m36 0h0m9 0h0m-851 1h0m50 0h0m5 0h0m5 0h0m84 0h0m79 0h0m2 0h0m36 0h0m68 0h0m14 0h0m13 0h0m40 0h0m43 0h0m32 0h0m10 0h0m32 0h0m46 0h0m7 0h0m9 0h0m15 0h0m41 0h0m17 0h0m49 0h0m99 0h0m44 0h0m2 0h0m-845 1h0m21 0h0m43 0h0m145 0h0m31 0h0m53 0h0m6 0h0m10 0h0m32 0h0m1 0h0m19 0h0m26 0h0m4 0h0m67 0h0m12 0h0m8 0h0m42 0h0m5 0h0m17 0h0m57 0h0m3 0h0m8 0h0m14 0h0m4 0h0m17 0h0m4 0h0m3 0h0m4 0h0m36 0h0m40 0h0m52 0h0m3 0h0m9 0h0m48 0h0m1 0h0m3 0h0m1 0h0m-849 1h0m164 0h0m27 0h0m37 0h0m1 0h0m11 0h0m3 0h0m24 0h0m10 0h0m1 0h0m6 0h0m3 0h0m45 0h0m68 0h0m11 0h0m6 0h0m3 0h0m38 0h0m3 0h0m4 0h0m25 0h0m8 0h0m17 0h0m1 0h0m5 0h0m13 0h0m25 0h0m25 0h0m68 0h0m30 0h0m34 0h0m19 0h0m51 0h0m7 0h0m16 0h0m42 0h0m-853 1h0m51 0h0m90 0h0m7 0h0m6 0h0m13 0h0m2 0h0m1 0h0m41 0h0m16 0h0m15 0h0m7 0h0m14 0h0m26 0h0m2 0h0m34 0h0m55 0h0m1 0h0m78 0h0m11 0h0m22 0h0m41 0h0m14 0h0m35 0h0m11 0h0m11 0h0m21 0h0m16 0h0m42 0h0m88 0h0m10 0h0m2 0h0m2 0h0m23 0h0m10 0h0m-813 1h0m2 0h0m163 0h0m15 0h0m15 0h0m17 0h0m28 0h0m5 0h0m27 0h0m26 0h0m45 0h0m43 0h0m17 0h0m43 0h0m11 0h0m48 0h0m7 0h0m22 0h0m23 0h0m1 0h0m8 0h0m2 0h0m1 0h0m27 0h0m5 0h0m21 0h0m10 0h0m1 0h0m3 0h0m4 0h0m32 0h0m52 0h0m12 0h0m23 0h0m5 0h0m42 0h0m2 0h0m7 0h0m3 0h0m-766 1h0m108 0h0m2 0h0m14 0h0m43 0h0m5 0h0m5 0h0m15 0h0m8 0h0m19 0h0m5 0h0m53 0h0m37 0h0m23 0h0m55 0h0m50 0h0m5 0h0m3 0h0m5 0h0m15 0h0m36 0h0m64 0h0m4 0h0m12 0h0m1 0h0m18 0h0m16 0h0m19 0h0m23 0h0m72 0h0m26 0h0m6 0h0m4 0h0m16 0h0m-836 1h0m134 0h0m91 0h0m19 0h0m3 0h0m12 0h0m39 0h0m12 0h0m26 0h0m44 0h0m31 0h0m47 0h0m37 0h0m11 0h0m9 0h0m57 0h0m5 0h0m4 0h0m8 0h0m91 0h0m36 0h0m104 0h0m2 0h0m7 0h0m-780 1h0m126 0h0m26 0h0m5 0h0m29 0h0m9 0h0m46 0h0m9 0h0m60 0h0m29 0h0m21 0h0m14 0h0m5 0h0m30 0h0m10 0h0m28 0h0m11 0h0m7 0h0m3 0h0m49 0h0m14 0h0m21 0h0m38 0h0m17 0h0m4 0h0m26 0h0m129 0h0m4 0h0m5 0h0m6 0h0m3 0h0m-832 1h0m44 0h0m34 0h0m76 0h0m25 0h0m6 0h0m5 0h0m36 0h0m12 0h0m2 0h0m7 0h0m1 0h0m24 0h0m2 0h0m4 0h0m5 0h0m34 0h0m7 0h0m7 0h0m10 0h0m22 0h0m56 0h0m92 0h0m15 0h0m14 0h0m16 0h0m13 0h0m16 0h0m10 0h0m14 0h0m91 0h0m1 0h0m116 0h0m16 0h0m-787 1h0m141 0h0m8 0h0m4 0h0m17 0h0m34 0h0m52 0h0m27 0h0m2 0h0m51 0h0m21 0h0m33 0h0m17 0h0m8 0h0m6 0h0m20 0h0m1 0h0m36 0h0m10 0h0m42 0h0m15 0h0m35 0h0m22 0h0m18 0h0m20 0h0m14 0h0m58 0h0m16 0h0m3 0h0m10 0h0m41 0h0m21 0h0m-801 1h0m3 0h0m61 0h0m78 0h0m16 0h0m22 0h0m35 0h0m34 0h0m12 0h0m14 0h0m2 0h0m5 0h0m13 0h0m16 0h0m19 0h0m4 0h0m64 0h0m1 0h0m12 0h0m34 0h0m16 0h0m1 0h0m15 0h0m15 0h0m7 0h0m27 0h0m23 0h0m1 0h0m26 0h0m17 0h0m27 0h0m31 0h0m3 0h0m1 0h0m57 0h0m16 0h0m50 0h0m22 0h0m-764 1h0m70 0h0m38 0h0m1 0h0m12 0h0m62 0h0m42 0h0m8 0h0m14 0h0m24 0h0m21 0h0m3 0h0m35 0h0m11 0h0m1 0h0m5 0h0m99 0h0m7 0h0m4 0h0m20 0h0m4 0h0m25 0h0m2 0h0m1 0h0m17 0h0m16 0h0m3 0h0m61 0h0m3 0h0m61 0h0m22 0h0m44 0h0m1 0h0m2 0h0m-797 1h0m2 0h0m20 0h0m84 0h0m17 0h0m39 0h0m3 0h0m23 0h0m4 0h0m1 0h0m38 0h0m31 0h0m22 0h0m31 0h0m31 0h0m16 0h0m15 0h0m3 0h0m24 0h0m4 0h0m9 0h0m24 0h0m9 0h0m30 0h0m54 0h0m5 0h0m21 0h0m19 0h0m9 0h0m11 0h0m14 0h0m5 0h0m22 0h0m47 0h0m45 0h0m72 0h0m-701 1h0m64 0h0m19 0h0m34 0h0m51 0h0m13 0h0m49 0h0m7 0h0m4 0h0m17 0h0m8 0h0m21 0h0m28 0h0m2 0h0m19 0h0m9 0h0m21 0h0m17 0h0m47 0h0m36 0h0m3 0h0m12 0h0m42 0h0m9 0h0m10 0h0m1 0h0m13 0h0m13 0h0m18 0h0m34 0h0m12 0h0m-716 1h0m33 0h0m108 0h0m20 0h0m8 0h0m41 0h0m3 0h0m24 0h0m59 0h0m7 0h0m21 0h0m10 0h0m5 0h0m18 0h0m13 0h0m27 0h0m4 0h0m16 0h0m29 0h0m5 0h0m22 0h0m21 0h0m30 0h0m6 0h0m14 0h0m18 0h0m12 0h0m55 0h0m37 0h0m12 0h0m1 0h0m4 0h0m-731 1h0m45 0h0m37 0h0m30 0h0m72 0h0m12 0h0m31 0h0m6 0h0m5 0h0m23 0h0m32 0h0m1 0h0m6 0h0m12 0h0m3 0h0m1 0h0m1 0h0m1 0h0m13 0h0m13 0h0m13 0h0m35 0h0m50 0h0m6 0h0m62 0h0m3 0h0m47 0h0m1 0h0m17 0h0m5 0h0m8 0h0m39 0h0m72 0h0m20 0h0m2 0h0m19 0h0m9 0h0m70 0h0m29 0h0m-785 1h0m13 0h0m34 0h0m15 0h0m13 0h0m40 0h0m2 0h0m28 0h0m45 0h0m5 0h0m3 0h0m58 0h0m28 0h0m11 0h0m8 0h0m9 0h0m10 0h0m109 0h0m21 0h0m5 0h0m40 0h0m10 0h0m12 0h0m30 0h0m8 0h0m15 0h0m59 0h0m-633 1h0m48 0h0m10 0h0m7 0h0m72 0h0m11 0h0m4 0h0m23 0h0m13 0h0m71 0h0m3 0h0m3 0h0m8 0h0m11 0h0m12 0h0m31 0h0m45 0h0m3 0h0m9 0h0m17 0h0m8 0h0m18 0h0m7 0h0m11 0h0m8 0h0m32 0h0m3 0h0m41 0h0m5 0h0m3 0h0m10 0h0m58 0h0m17 0h0m4 0h0m2 0h0m2 0h0m12 0h0m6 0h0m19 0h0m10 0h0m32 0h0m-644 1h0m33 0h0m20 0h0m2 0h0m26 0h0m29 0h0m10 0h0m5 0h0m6 0h0m20 0h0m35 0h0m47 0h0m15 0h0m43 0h0m13 0h0m154 0h0m18 0h0m4 0h0m143 0h0m25 0h0m34 0h0m-706 1h0m73 0h0m31 0h0m10 0h0m2 0h0m59 0h0m6 0h0m1 0h0m51 0h0m105 0h0m4 0h0m7 0h0m2 0h0m20 0h0m24 0h0m4 0h0m21 0h0m10 0h0m3 0h0m33 0h0m26 0h0m25 0h0m98 0h0m51 0h0m34 0h0m4 0h0m-714 1h0m26 0h0m66 0h0m47 0h0m14 0h0m12 0h0m24 0h0m1 0h0m8 0h0m1 0h0m15 0h0m6 0h0m32 0h0m46 0h0m45 0h0m25 0h0m46 0h0m12 0h0m44 0h0m9 0h0m13 0h0m37 0h0m5 0h0m1 0h0m109 0h0m8 0h0m18 0h0m40 0h0m2 0h0m-675 1h0m8 0h0m47 0h0m15 0h0m42 0h0m12 0h0m9 0h0m12 0h0m11 0h0m8 0h0m22 0h0m1 0h0m14 0h0m6 0h0m39 0h0m21 0h0m4 0h0m19 0h0m10 0h0m18 0h0m9 0h0m37 0h0m19 0h0m9 0h0m9 0h0m23 0h0m15 0h0m5 0h0m48 0h0m29 0h0m39 0h0m11 0h0m64 0h0m36 0h0m3 0h0m2 0h0m-715 1h0m10 0h0m24 0h0m83 0h0m10 0h0m33 0h0m39 0h0m21 0h0m25 0h0m17 0h0m6 0h0m21 0h0m29 0h0m2 0h0m23 0h0m3 0h0m57 0h0m26 0h0m5 0h0m19 0h0m25 0h0m9 0h0m46 0h0m6 0h0m16 0h0m32 0h0m15 0h0m50 0h0m23 0h0m40 0h0m-710 1h0m5 0h0m57 0h0m4 0h0m47 0h0m1 0h0m12 0h0m18 0h0m14 0h0m32 0h0m39 0h0m3 0h0m11 0h0m2 0h0m5 0h0m7 0h0m32 0h0m13 0h0m10 0h0m27 0h0m7 0h0m23 0h0m2 0h0m11 0h0m12 0h0m11 0h0m5 0h0m56 0h0m6 0h0m2 0h0m15 0h0m68 0h0m2 0h0m50 0h0m2 0h0m7 0h0m87 0h0m-777 1h0m2 0h0m133 0h0m46 0h0m56 0h0m11 0h0m39 0h0m38 0h0m11 0h0m1 0h0m56 0h0m6 0h0m42 0h0m12 0h0m14 0h0m58 0h0m25 0h0m14 0h0m25 0h0m8 0h0m23 0h0m37 0h0m24 0h0m14 0h0m1 0h0m-695 1h0m115 0h0m68 0h0m4 0h0m4 0h0m1 0h0m3 0h0m42 0h0m13 0h0m1 0h0m24 0h0m40 0h0m12 0h0m4 0h0m88 0h0m23 0h0m16 0h0m4 0h0m16 0h0m1 0h0m3 0h0m31 0h0m53 0h0m6 0h0m19 0h0m17 0h0m39 0h0m2 0h0m4 0h0m21 0h0m21 0h0m20 0h0m12 0h0m-720 1h0m39 0h0m43 0h0m40 0h0m49 0h0m14 0h0m48 0h0m2 0h0m15 0h0m1 0h0m14 0h0m3 0h0m40 0h0m6 0h0m22 0h0m1 0h0m9 0h0m2 0h0m5 0h0m3 0h0m7 0h0m51 0h0m39 0h0m3 0h0m45 0h0m11 0h0m12 0h0m4 0h0m36 0h0m17 0h0m13 0h0m12 0h0m65 0h0m5 0h0m18 0h0m19 0h0m-680 1h0m35 0h0m55 0h0m45 0h0m1 0h0m18 0h0m46 0h0m2 0h0m4 0h0m13 0h0m11 0h0m6 0h0m32 0h0m49 0h0m43 0h0m7 0h0m16 0h0m4 0h0m22 0h0m14 0h0m2 0h0m8 0h0m30 0h0m19 0h0m3 0h0m3 0h0m1 0h0m7 0h0m31 0h0m12 0h0m7 0h0m38 0h0m20 0h0m53 0h0m31 0h0m42 0h0m9 0h0m-692 1h0m19 0h0m29 0h0m51 0h0m15 0h0m6 0h0m27 0h0m23 0h0m51 0h0m8 0h0m6 0h0m1 0h0m3 0h0m2 0h0m5 0h0m25 0h0m17 0h0m4 0h0m16 0h0m28 0h0m9 0h0m9 0h0m1 0h0m47 0h0m15 0h0m12 0h0m184 0h0m33 0h0m-688 1h0m44 0h0m12 0h0m17 0h0m72 0h0m44 0h0m31 0h0m16 0h0m1 0h0m13 0h0m4 0h0m3 0h0m2 0h0m27 0h0m58 0h0m17 0h0m8 0h0m63 0h0m18 0h0m8 0h0m8 0h0m19 0h0m2 0h0m21 0h0m20 0h0m30 0h0m142 0h0m-659 1h0m2 0h0m33 0h0m1 0h0m7 0h0m121 0h0m33 0h0m10 0h0m6 0h0m9 0h0m6 0h0m7 0h0m12 0h0m5 0h0m19 0h0m28 0h0m5 0h0m1 0h0m2 0h0m18 0h0m12 0h0m36 0h0m11 0h0m28 0h0m5 0h0m20 0h0m1 0h0m6 0h0m21 0h0m14 0h0m22 0h0m23 0h0m64 0h0m9 0h0m25 0h0m1 0h0m-665 1h0m40 0h0m5 0h0m8 0h0m6 0h0m7 0h0m11 0h0m98 0h0m9 0h0m6 0h0m2 0h0m30 0h0m57 0h0m11 0h0m11 0h0m20 0h0m7 0h0m1 0h0m24 0h0m5 0h0m13 0h0m22 0h0m26 0h0m8 0h0m25 0h0m10 0h0m78 0h0m5 0h0m9 0h0m58 0h0m5 0h0m3 0h0m34 0h0m1 0h0m67 0h0m6 0h0m-681 1h0m25 0h0m11 0h0m39 0h0m70 0h0m26 0h0m22 0h0m11 0h0m1 0h0m18 0h0m5 0h0m14 0h0m10 0h0m20 0h0m47 0h0m18 0h0m12 0h0m42 0h0m8 0h0m11 0h0m27 0h0m39 0h0m66 0h0m35 0h0m38 0h0m4 0h0m37 0h0m-667 1h0m212 0h0m6 0h0m23 0h0m15 0h0m3 0h0m16 0h0m35 0h0m19 0h0m10 0h0m12 0h0m2 0h0m73 0h0m6 0h0m20 0h0m14 0h0m20 0h0m5 0h0m2 0h0m26 0h0m8 0h0m14 0h0m63 0h0m57 0h0m-592 1h0m25 0h0m48 0h0m55 0h0m24 0h0m7 0h0m13 0h0m12 0h0m46 0h0m30 0h0m12 0h0m1 0h0m20 0h0m1 0h0m31 0h0m10 0h0m18 0h0m8 0h0m13 0h0m20 0h0m20 0h0m61 0h0m78 0h0m-553 1h0m1 0h0m25 0h0m8 0h0m7 0h0m5 0h0m24 0h0m7 0h0m3 0h0m4 0h0m38 0h0m41 0h0m28 0h0m11 0h0m41 0h0m54 0h0m22 0h0m40 0h0m15 0h0m32 0h0m44 0h0m14 0h0m24 0h0m27 0h0m14 0h0m69 0h0m3 0h0m-580 1h0m2 0h0m2 0h0m2 0h0m46 0h0m1 0h0m2 0h0m2 0h0m37 0h0m35 0h0m22 0h0m48 0h0m16 0h0m12 0h0m101 0h0m23 0h0m55 0h0m29 0h0m26 0h0m4 0h0m2 0h0m42 0h0m1 0h0m2 0h0m-637 1h0m175 0h0m3 0h0m44 0h0m17 0h0m5 0h0m8 0h0m3 0h0m32 0h0m30 0h0m2 0h0m10 0h0m44 0h0m5 0h0m8 0h0m1 0h0m1 0h0m19 0h0m67 0h0m35 0h0m16 0h0m25 0h0m19 0h0m62 0h0m1 0h0m4 0h0m-629 1h0m27 0h0m10 0h0m65 0h0m29 0h0m11 0h0m47 0h0m5 0h0m20 0h0m37 0h0m9 0h0m1 0h0m22 0h0m43 0h0m31 0h0m26 0h0m75 0h0m83 0h0m45 0h0m38 0h0m28 0h0m-674 1h0m119 0h0m3 0h0m36 0h0m43 0h0m112 0h0m11 0h0m9 0h0m33 0h0m5 0h0m49 0h0m94 0h0m51 0h0m14 0h0m29 0h0m29 0h0m25 0h0m52 0h0m-721 1h0m25 0h0m79 0h0m30 0h0m10 0h0m12 0h0m5 0h0m15 0h0m12 0h0m10 0h0m21 0h0m3 0h0m22 0h0m36 0h0m1 0h0m40 0h0m31 0h0m14 0h0m16 0h0m12 0h0m47 0h0m36 0h0m15 0h0m35 0h0m22 0h0m34 0h0m4 0h0m3 0h0m39 0h0m11 0h0m22 0h0m3 0h0m2 0h0m-639 1h0m21 0h0m2 0h0m4 0h0m1 0h0m105 0h0m2 0h0m14 0h0m187 0h0m6 0h0m30 0h0m4 0h0m31 0h0m12 0h0m62 0h0m16 0h0m3 0h0m51 0h0m20 0h0m27 0h0m33 0h0m14 0h0m57 0h0m-629 1h0m38 0h0m7 0h0m12 0h0m7 0h0m20 0h0m14 0h0m19 0h0m22 0h0m36 0h0m64 0h0m9 0h0m4 0h0m16 0h0m5 0h0m5 0h0m40 0h0m44 0h0m3 0h0m27 0h0m3 0h0m84 0h0m10 0h0m18 0h0m66 0h0m23 0h0m1 0h0m-644 1h0m82 0h0m3 0h0m97 0h0m5 0h0m21 0h0m50 0h0m7 0h0m23 0h0m38 0h0m13 0h0m20 0h0m3 0h0m1 0h0m23 0h0m26 0h0m8 0h0m14 0h0m18 0h0m17 0h0m37 0h0m1 0h0m3 0h0m36 0h0m68 0h0m8 0h0m56 0h0m-678 1h0m48 0h0m7 0h0m5 0h0m1 0h0m17 0h0m4 0h0m9 0h0m1 0h0m30 0h0m39 0h0m18 0h0m108 0h0m21 0h0m25 0h0m6 0h0m9 0h0m3 0h0m24 0h0m1 0h0m12 0h0m4 0h0m2 0h0m7 0h0m8 0h0m5 0h0m16 0h0m78 0h0m41 0h0m5 0h0m18 0h0m14 0h0m2 0h0m8 0h0m2 0h0m12 0h0m3 0h0m8 0h0m-656 1h0m86 0h0m7 0h0m22 0h0m2 0h0m21 0h0m15 0h0m39 0h0m6 0h0m2 0h0m22 0h0m29 0h0m55 0h0m6 0h0m77 0h0m1 0h0m2 0h0m17 0h0m39 0h0m51 0h0m10 0h0m4 0h0m37 0h0m16 0h0m19 0h0m4 0h0m23 0h0m4 0h0m15 0h0m15 0h0m55 0h0m14 0h0m-717 1h0m99 0h0m9 0h0m9 0h0m1 0h0m2 0h0m26 0h0m76 0h0m4 0h0m30 0h0m37 0h0m8 0h0m9 0h0m11 0h0m20 0h0m23 0h0m26 0h0m7 0h0m72 0h0m1 0h0m9 0h0m1 0h0m40 0h0m10 0h0m94 0h0m21 0h0m-643 1h0m88 0h0m10 0h0m13 0h0m33 0h0m47 0h0m8 0h0m1 0h0m69 0h0m29 0h0m23 0h0m3 0h0m13 0h0m11 0h0m44 0h0m9 0h0m22 0h0m3 0h0m2 0h0m17 0h0m17 0h0m155 0h0m27 0h0m9 0h0m33 0h0m-691 1h0m64 0h0m33 0h0m13 0h0m1 0h0m19 0h0m14 0h0m58 0h0m10 0h0m2 0h0m140 0h0m26 0h0m2 0h0m14 0h0m40 0h0m59 0h0m11 0h0m7 0h0m112 0h0m26 0h0m22 0h0m-652 1h0m12 0h0m63 0h0m10 0h0m4 0h0m23 0h0m63 0h0m10 0h0m73 0h0m50 0h0m33 0h0m23 0h0m19 0h0m23 0h0m12 0h0m68 0h0m1 0h0m30 0h0m7 0h0m11 0h0m13 0h0m60 0h0m-614 1h0m57 0h0m23 0h0m7 0h0m25 0h0m3 0h0m2 0h0m23 0h0m1 0h0m3 0h0m39 0h0m7 0h0m13 0h0m15 0h0m1 0h0m1 0h0m47 0h0m4 0h0m58 0h0m24 0h0m23 0h0m9 0h0m15 0h0m31 0h0m11 0h0m17 0h0m47 0h0m11 0h0m24 0h0m2 0h0m4 0h0m52 0h0m43 0h0m54 0h0m-647 1h0m1 0h0m38 0h0m32 0h0m21 0h0m1 0h0m3 0h0m20 0h0m22 0h0m1 0h0m1 0h0m2 0h0m7 0h0m7 0h0m2 0h0m28 0h0m29 0h0m7 0h0m59 0h0m14 0h0m36 0h0m28 0h0m16 0h0m22 0h0m10 0h0m8 0h0m25 0h0m54 0h0m29 0h0m-520 1h0m35 0h0m5 0h0m35 0h0m4 0h0m30 0h0m114 0h0m22 0h0m70 0h0m32 0h0m4 0h0m8 0h0m18 0h0m47 0h0m70 0h0m4 0h0m30 0h0m45 0h0m48 0h0m31 0h0m-683 1h0m32 0h0m78 0h0m31 0h0m7 0h0m8 0h0m9 0h0m9 0h0m7 0h0m16 0h0m7 0h0m10 0h0m72 0h0m18 0h0m15 0h0m38 0h0m4 0h0m26 0h0m8 0h0m5 0h0m3 0h0m3 0h0m45 0h0m3 0h0m17 0h0m4 0h0m39 0h0m11 0h0m25 0h0m76 0h0m-668 1h0m3 0h0m9 0h0m32 0h0m5 0h0m4 0h0m24 0h0m27 0h0m106 0h0m33 0h0m4 0h0m9 0h0m28 0h0m1 0h0m5 0h0m23 0h0m39 0h0m6 0h0m57 0h0m21 0h0m31 0h0m36 0h0m8 0h0m29 0h0m1 0h0m108 0h0m43 0h0m-667 1h0m26 0h0m54 0h0m83 0h0m37 0h0m22 0h0m4 0h0m42 0h0m17 0h0m5 0h0m5 0h0m78 0h0m6 0h0m1 0h0m17 0h0m25 0h0m33 0h0m8 0h0m7 0h0m10 0h0m6 0h0m5 0h0m8 0h0m6 0h0m26 0h0m32 0h0m1 0h0m13 0h0m117 0h0m-714 1h0m2 0h0m20 0h0m21 0h0m7 0h0m170 0h0m21 0h0m2 0h0m1 0h0m4 0h0m36 0h0m51 0h0m2 0h0m38 0h0m8 0h0m9 0h0m7 0h0m29 0h0m58 0h0m21 0h0m48 0h0m6 0h0m3 0h0m1 0h0m1 0h0m23 0h0m10 0h0m21 0h0m-572 1h0m115 0h0m58 0h0m2 0h0m7 0h0m8 0h0m3 0h0m37 0h0m28 0h0m1 0h0m4 0h0m4 0h0m24 0h0m26 0h0m2 0h0m27 0h0m3 0h0m33 0h0m6 0h0m9 0h0m25 0h0m19 0h0m80 0h0m51 0h0m2 0h0m60 0h0m-559 1h0m60 0h0m3 0h0m24 0h0m30 0h0m9 0h0m8 0h0m38 0h0m34 0h0m13 0h0m50 0h0m19 0h0m16 0h0m22 0h0m13 0h0m2 0h0m6 0h0m52 0h0m11 0h0m2 0h0m47 0h0m12 0h0m3 0h0m23 0h0m25 0h0m6 0h0m3 0h0m-583 1h0m73 0h0m54 0h0m11 0h0m3 0h0m9 0h0m21 0h0m2 0h0m26 0h0m12 0h0m5 0h0m11 0h0m5 0h0m69 0h0m31 0h0m40 0h0m7 0h0m26 0h0m33 0h0m11 0h0m28 0h0m29 0h0m2 0h0m4 0h0m-556 1h0m17 0h0m1 0h0m2 0h0m64 0h0m4 0h0m82 0h0m9 0h0m4 0h0m14 0h0m20 0h0m33 0h0m6 0h0m1 0h0m2 0h0m15 0h0m22 0h0m1 0h0m24 0h0m21 0h0m22 0h0m41 0h0m3 0h0m16 0h0m2 0h0m14 0h0m2 0h0m3 0h0m23 0h0m74 0h0m8 0h0m103 0h0m-500 1h0m10 0h0m34 0h0m3 0h0m4 0h0m35 0h0m6 0h0m15 0h0m4 0h0m4 0h0m13 0h0m20 0h0m3 0h0m52 0h0m9 0h0m1 0h0m2 0h0m21 0h0m17 0h0m2 0h0m36 0h0m22 0h0m-382 1h0m3 0h0m62 0h0m3 0h0m3 0h0m2 0h0m78 0h0m30 0h0m18 0h0m34 0h0m22 0h0m1 0h0m29 0h0m5 0h0m3 0h0m7 0h0m18 0h0m28 0h0m17 0h0m21 0h0m82 0h0m29 0h0m47 0h0m1 0h0m-544 1h0m110 0h0m10 0h0m50 0h0m37 0h0m2 0h0m18 0h0m5 0h0m26 0h0m6 0h0m13 0h0m14 0h0m9 0h0m45 0h0m38 0h0m97 0h0m12 0h0m5 0h0m41 0h0m-608 1h0m56 0h0m14 0h0m39 0h0m4 0h0m11 0h0m19 0h0m3 0h0m12 0h0m103 0h0m32 0h0m13 0h0m32 0h0m5 0h0m21 0h0m4 0h0m64 0h0m112 0h0m25 0h0m6 0h0m1 0h0m4 0h0m32 0h0m16 0h0m10 0h0m-635 1h0m17 0h0m122 0h0m8 0h0m85 0h0m8 0h0m43 0h0m117 0h0m51 0h0m5 0h0m8 0h0m20 0h0m9 0h0m9 0h0m106 0h0m20 0h0m-585 1h0m58 0h0m1 0h0m8 0h0m15 0h0m9 0h0m65 0h0m15 0h0m40 0h0m37 0h0m53 0h0m11 0h0m1 0h0m51 0h0m18 0h0m6 0h0m4 0h0m110 0h0m16 0h0m14 0h0m21 0h0m1 0h0m30 0h0m-630 1h0m95 0h0m10 0h0m2 0h0m40 0h0m114 0h0m1 0h0m33 0h0m10 0h0m9 0h0m32 0h0m5 0h0m26 0h0m30 0h0m26 0h0m73 0h0m45 0h0m19 0h0m6 0h0m3 0h0m3 0h0m2 0h0m-613 1h0m119 0h0m27 0h0m87 0h0m85 0h0m93 0h0m21 0h0m5 0h0m13 0h0m9 0h0m1 0h0m2 0h0m1 0h0m8 0h0m187 0h0m-545 1h0m55 0h0m9 0h0m113 0h0m15 0h0m1 0h0m3 0h0m2 0h0m19 0h0m20 0h0m29 0h0m27 0h0m31 0h0m23 0h0m119 0h0m27 0h0m6 0h0m19 0h0m-600 1h0m21 0h0m117 0h0m22 0h0m31 0h0m2 0h0m1 0h0m28 0h0m74 0h0m22 0h0m16 0h0m58 0h0m32 0h0m2 0h0m3 0h0m22 0h0m62 0h0m35 0h0m27 0h0m2 0h0m22 0h0m29 0h0m-618 1h0m12 0h0m1 0h0m16 0h0m6 0h0m22 0h0m11 0h0m84 0h0m184 0h0m57 0h0m31 0h0m15 0h0m37 0h0m24 0h0m101 0h0m-611 1h0m54 0h0m11 0h0m10 0h0m111 0h0m12 0h0m7 0h0m11 0h0m3 0h0m117 0h0m3 0h0m52 0h0m26 0h0m9 0h0m23 0h0m64 0h0m114 0h0m-623 1h0m9 0h0m62 0h0m2 0h0m5 0h0m35 0h0m19 0h0m25 0h0m1 0h0m38 0h0m4 0h0m11 0h0m55 0h0m30 0h0m28 0h0m14 0h0m9 0h0m24 0h0m56 0h0m114 0h0m63 0h0m-571 1h0m31 0h0m47 0h0m2 0h0m85 0h0m16 0h0m52 0h0m26 0h0m194 0h0m121 0h0m-594 1h0m37 0h0m61 0h0m50 0h0m40 0h0m15 0h0m66 0h0m39 0h0m48 0h0m133 0h0m61 0h0m12 0h0m-563 1h0m19 0h0m20 0h0m93 0h0m13 0h0m2 0h0m57 0h0m127 0h0m11 0h0m13 0h0m1 0h0m1 0h0m8 0h0m46 0h0m2 0h0m53 0h0m20 0h0m49 0h0m36 0h0m-572 1h0m14 0h0m46 0h0m54 0h0m91 0h0m4 0h0m65 0h0m32 0h0m36 0h0m62 0h0m65 0h0m20 0h0m-489 1h0m2 0h0m15 0h0m105 0h0m132 0h0m21 0h0m69 0h0m25 0h0m4 0h0m96 0h0m46 0h0m2 0h0m14 0h0m3 0h0m1 0h0m77 0h0m-582 1h0m33 0h0m66 0h0m131 0h0m7 0h0m7 0h0m22 0h0m6 0h0m87 0h0m33 0h0m6 0h0m65 0h0m34 0h0m-510 1h0m7 0h0m86 0h0m2 0h0m65 0h0m3 0h0m2 0h0m63 0h0m27 0h0m27 0h0m117 0h0m24 0h0m46 0h0m5 0h0m21 0h0m37 0h0m2 0h0m55 0h0m-428 1h0m11 0h0m2 0h0m78 0h0m24 0h0m1 0h0m1 0h0m3 0h0m46 0h0m77 0h0m64 0h0m55 0h0m27 0h0m-534 1h0m140 0h0m4 0h0m66 0h0m22 0h0m9 0h0m110 0h0m45 0h0m67 0h0m4 0h0m28 0h0m9 0h0m29 0h0m-527 1h0m72 0h0m17 0h0m53 0h0m5 0h0m44 0h0m44 0h0m15 0h0m5 0h0m53 0h0m66 0h0m6 0h0m14 0h0m3 0h0m1 0h0m58 0h0m37 0h0m36 0h0m-421 1h0m27 0h0m10 0h0m4 0h0m33 0h0m13 0h0m15 0h0m46 0h0m42 0h0m40 0h0m41 0h0m9 0h0m61 0h0m10 0h0m11 0h0m1 0h0m12 0h0m-515 1h0m11 0h0m99 0h0m17 0h0m12 0h0m35 0h0m15 0h0m1 0h0m5 0h0m68 0h0m25 0h0m2 0h0m45 0h0m72 0h0m15 0h0m9 0h0m1 0h0m129 0h0m-560 1h0m141 0h0m9 0h0m22 0h0m10 0h0m57 0h0m18 0h0m111 0h0m36 0h0m110 0h0m8 0h0m8 0h0m15 0h0m-509 1h0m91 0h0m11 0h0m35 0h0m22 0h0m135 0h0m34 0h0m31 0h0m2 0h0m31 0h0m54 0h0m7 0h0m29 0h0m15 0h0m4 0h0m24 0h0m-413 1h0m95 0h0m89 0h0m71 0h0m27 0h0m60 0h0m25 0h0m17 0h0m9 0h0m4 0h0m5 0h0m-553 1h0m167 0h0m5 0h0m71 0h0m80 0h0m1 0h0m13 0h0m2 0h0m74 0h0m16 0h0m56 0h0m1 0h0m59 0h0m6 0h0m9 0h0m-403 1h0m38 0h0m142 0h0m2 0h0m95 0h0m21 0h0m35 0h0m27 0h0m36 0h0m-311 1h0m86 0h0m8 0h0m3 0h0m65 0h0m44 0h0m61 0h0m40 0h0m-118 1h0m49 0h0m-439 1h0m111 0h0m17 0h0m5 0h0m64 0h0m2 0h0m70 0h0m127 0h0m1 0h0m9 0h0m6 0h0m66 0h0m-474 1h0m97 0h0m16 0h0m17 0h0m64 0h0m68 0h0m2 0h0m69 0h0m29 0h0m27 0h0m17 0h0m2 0h0m23 0h0m4 0h0m10 0h0m-328 1h0m40 0h0m109 0h0m13 0h0m156 0h0m-422 1h0m87 0h0m11 0h0m5 0h0m3 0h0m38 0h0m91 0h0m19 0h0m135 0h0m3 0h0m26 0h0m21 0h0m22 0h0m-367 1h0m6 0h0m6 0h0m107 0h0m40 0h0m92 0h0m32 0h0m14 0h0m4 0h0m2 0h0m39 0h0m20 0h0m19 0h0m-489 1h0m97 0h0m2 0h0m7 0h0m128 0h0m34 0h0m18 0h0m43 0h0m29 0h0m38 0h0m12 0h0m90 0h0m-499 1h0m101 0h0m21 0h0m64 0h0m89 0h0m85 0h0m26 0h0m13 0h0m1 0h0m7 0h0m43 0h0m7 0h0m14 0h0m-474 1h0m204 0h0m52 0h0m15 0h0m7 0h0m4 0h0m43 0h0m12 0h0m93 0h0m9 0h0m15 0h0m32 0h0m-489 1h0m116 0h0m34 0h0m53 0h0m3 0h0m8 0h0m59 0h0m8 0h0m11 0h0m22 0h0m53 0h0m1 0h0m2 0h0m36 0h0m77 0h0m-474 1h0m207 0h0m20 0h0m26 0h0m12 0h0m20 0h0m20 0h0m47 0h0m6 0h0m97 0h0m23 0h0m-315 1h0m52 0h0m10 0h0m24 0h0m18 0h0m38 0h0m2 0h0m81 0h0m14 0h0m77 0h0m-483 1h0m60 0h0m4 0h0m102 0h0m3 0h0m25 0h0m15 0h0m4 0h0m47 0h0m17 0h0m14 0h0m18 0h0m3 0h0m56 0h0m44 0h0m-301 1h0m59 0h0m20 0h0m1 0h0m17 0h0m11 0h0m38 0h0m16 0h0m156 0h0m27 0h0m7 0h0m22 0h0m1 0h0m-333 1h0m58 0h0m60 0h0m18 0h0m18 0h0m60 0h0m2 0h0m70 0h0m-220 1h0m93 0h0m149 0h0m5 0h0m-221 1h0m-95 1h0m93 0h0m18 0h0m22 0h0m30 0h0m54 0h0m23 0h0m71 0h0m-309 1h0m35 0h0m35 0h0m2 0h0m52 0h0m119 0h0m1 0h0m-252 1h0m77 0h0m38 0h0m15 0h0m6 0h0m163 0h0m1 0h0m-304 1h0m256 0h0m41 0h0m-355 1h0m19 0h0m201 0h0m118 0h0m-296 1h0m17 0h0m34 0h0m100 0h0m26 0h0m59 0h0m-278 1h0m3 0h0m41 0h0m12 0h0m3 0h0m4 0h0m107 0h0m113 0h0m-264 1h0m97 0h0m105 0h0m-208 1h0m2 0h0m10 0h0m19 0h0m45 0h0m4 0h0m25 0h0m50 0h0m53 0h0m118 0h0m-184 1h0m128 0h0m34 0h0m-301 1h0m85 0h0m66 0h0m8 0h0m38 0h0m64 0h0m56 0h0m11 0h0m-328 1h0m1 0h0m82 0h0m20 0h0m37 0h0m17 0h0m45 0h0m113 0h0m-333 1h0m178 0h0m1 0h0m99 0h0m3 0h0m2 0h0m55 0h0m1 0h0m-215 1h0m43 0h0m6 0h0m111 0h0m-177 1h0m1 0h0m15 0h0m1 0h0m209 0h0m3 0h0m-317 1h0m101 0h0m36 0h0m25 0h0m-57 1h0m11 0h0m28 0h0m58 0h0m18 0h0m45 0h0m14 0h0m1 0h0m-152 1h0m1 0h0m35 0h0m39 0h0m43 0h0m-173 1h0m3 0h0m42 0h0m-45 1h0m2 0h0m27 0h0m6 0h0m26 0h0m128 0h0m5 0h0m14 0h0m-159 1h0m3 0h0m1 0h0m97 0h0m22 0h0m23 0h0m17 0h0m-228 1h0m7 0h0m63 0h0m4 0h0m19 0h0m61 0h0m9 0h0m1 0h0m24 0h0m5 0h0m16 0h0m-162 1h0m12 0h0m5 0h0m33 0h0m64 0h0m3 0h0m25 0h0m13 0h0m25 0h0m1 0h0m-185 1h0m2 0h0m103 0h0m14 0h0m1 0h0m64 0h0m-137 1h0m74 0h0m23 0h0m-181 1h0m59 0h0m4 0h0m2 0h0m77 0h0m3 0h0m32 0h0m-115 1h0m3 0h0m22 1h0m27 0h0m27 2h0m37 2h0m-70 1h0" stroke="#3579b8" stroke-opacity="0.92" stroke-width="5.0" stroke-linecap="round" fill="none"/></g><path d="M574.8 240.1h0M575.3 245.3h0M576.1 245.1h0M594.3 245.3h0M595.9 246.1h0M597.7 244.8h0M591.5 250.4h0M601.5 252.0h0M586.8 254.0h0M587.8 254.5h0M578.4 255.1h0M591.7 256.1h0M596.9 256.6h0M578.4 258.7h0M579.4 259.2h0M581.0 258.1h0M584.5 259.5h0M586.6 257.4h0M590.2 259.7h0M593.0 258.5h0M599.0 259.7h0M600.0 260.2h0M603.1 258.7h0M604.6 257.8h0M581.5 261.5h0M585.4 261.2h0M587.1 262.3h0M587.4 264.3h0M587.1 265.7h0M582.5 265.0h0M583.8 267.1h0M566.5 263.8h0M584.5 271.0h0M601.0 271.0h0M552.6 258.6h0M553.4 263.0h0M513.6 257.9h0M584.3 271.0h0M601.4 271.0h0M583.4 281.3h0M546.2 290.6h0M561.6 289.3h0M587.5 290.6h0M590.7 291.8h0M592.4 290.6h0M593.7 289.3h0M592.0 292.9h0M596.5 288.6h0M574.4 301.5h0M572.8 304.0h0M571.5 304.9h0M574.0 305.3h0M567.2 306.0h0M533.8 302.6h0M604.0 330.2h0M522.6 317.5h0M514.1 320.4h0M528.3 326.3h0M531.1 324.9h0M533.7 324.2h0M525.5 329.1h0M520.5 329.9h0M538.2 329.9h0M545.3 327.7h0M549.8 327.4h0M512.7 333.1h0M516.7 332.7h0M525.2 331.7h0M527.6 336.9h0M532.5 335.9h0M552.3 334.8h0M554.5 336.2h0M556.6 335.5h0M553.5 337.9h0M550.2 340.5h0M519.1 341.6h0M517.0 344.0h0M543.1 342.6h0M512.7 347.5h0M513.9 348.7h0M512.0 349.0h0M507.8 348.7h0M508.5 350.4h0M517.0 348.7h0M520.9 348.7h0M524.3 346.8h0M502.5 350.4h0M523.3 352.1h0M522.3 353.9h0M524.0 353.2h0M502.8 353.2h0M541.0 352.1h0M543.8 351.1h0M544.6 352.9h0M542.4 353.2h0M550.2 350.4h0M512.0 356.7h0M513.4 357.2h0M528.3 357.2h0M524.8 359.6h0M530.4 359.6h0M533.9 360.3h0M532.8 361.7h0M534.7 362.4h0M528.3 362.4h0M529.7 363.1h0M539.6 358.8h0M541.7 360.0h0M543.1 361.7h0M541.0 363.1h0M543.8 363.8h0M538.9 363.8h0M526.2 364.5h0M536.8 367.3h0M509.9 358.8h0M500.7 360.3h0M409.0 303.3h0M439.5 304.3h0M442.0 303.3h0M401.6 326.3h0M403.6 326.3h0M474.9 319.7h0M489.1 328.7h0M428.5 342.1h0M454.2 349.7h0M491.6 345.3h0M493.3 344.1h0M501.8 350.7h0M503.0 353.4h0M500.6 360.0h0M451.7 363.6h0M494.0 376.6h0" stroke="#f29a48" stroke-width="2.0" stroke-linecap="round" fill="none"/>
</svg>
</body></html>
